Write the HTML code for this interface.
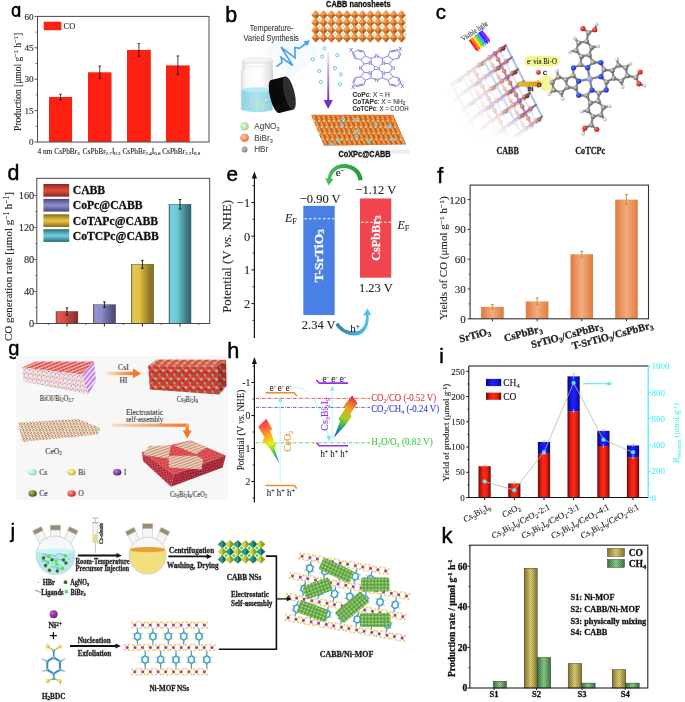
<!DOCTYPE html><html><head><meta charset="utf-8"><style>html,body{margin:0;padding:0;background:#fff;overflow:hidden}svg{display:block;filter:blur(0.35px)}</style></head><body><svg width="685" height="702" viewBox="0 0 685 702"><defs><linearGradient id="dh0" x1="0" y1="0" x2="1" y2="0"><stop offset="0" stop-color="#862820" stop-opacity="0.85"/><stop offset="0.08" stop-color="#dc4a3c" stop-opacity="0.9"/><stop offset="0.38" stop-color="#dc4a3c"/><stop offset="0.8" stop-color="#862820" stop-opacity="0.9"/><stop offset="1" stop-color="#862820"/></linearGradient><linearGradient id="dv0" x1="0" y1="0" x2="0" y2="1"><stop offset="0" stop-color="#862820"/><stop offset="0.45" stop-color="#dc4a3c"/><stop offset="0.55" stop-color="#dc4a3c"/><stop offset="1" stop-color="#862820"/></linearGradient><linearGradient id="dh1" x1="0" y1="0" x2="1" y2="0"><stop offset="0" stop-color="#46467a" stop-opacity="0.85"/><stop offset="0.08" stop-color="#8a8ac6" stop-opacity="0.9"/><stop offset="0.38" stop-color="#8a8ac6"/><stop offset="0.8" stop-color="#46467a" stop-opacity="0.9"/><stop offset="1" stop-color="#46467a"/></linearGradient><linearGradient id="dv1" x1="0" y1="0" x2="0" y2="1"><stop offset="0" stop-color="#46467a"/><stop offset="0.45" stop-color="#8a8ac6"/><stop offset="0.55" stop-color="#8a8ac6"/><stop offset="1" stop-color="#46467a"/></linearGradient><linearGradient id="dh2" x1="0" y1="0" x2="1" y2="0"><stop offset="0" stop-color="#8a6c16" stop-opacity="0.85"/><stop offset="0.08" stop-color="#e0c242" stop-opacity="0.9"/><stop offset="0.38" stop-color="#e0c242"/><stop offset="0.8" stop-color="#8a6c16" stop-opacity="0.9"/><stop offset="1" stop-color="#8a6c16"/></linearGradient><linearGradient id="dv2" x1="0" y1="0" x2="0" y2="1"><stop offset="0" stop-color="#8a6c16"/><stop offset="0.45" stop-color="#e0c242"/><stop offset="0.55" stop-color="#e0c242"/><stop offset="1" stop-color="#8a6c16"/></linearGradient><linearGradient id="dh3" x1="0" y1="0" x2="1" y2="0"><stop offset="0" stop-color="#2a6a78" stop-opacity="0.85"/><stop offset="0.08" stop-color="#6ccad6" stop-opacity="0.9"/><stop offset="0.38" stop-color="#6ccad6"/><stop offset="0.8" stop-color="#2a6a78" stop-opacity="0.9"/><stop offset="1" stop-color="#2a6a78"/></linearGradient><linearGradient id="dv3" x1="0" y1="0" x2="0" y2="1"><stop offset="0" stop-color="#2a6a78"/><stop offset="0.45" stop-color="#6ccad6"/><stop offset="0.55" stop-color="#6ccad6"/><stop offset="1" stop-color="#2a6a78"/></linearGradient><linearGradient id="garr" x1="1" y1="0" x2="0" y2="0"><stop offset="0" stop-color="#1f9a3a"/><stop offset="1" stop-color="#4cc060"/></linearGradient><linearGradient id="barr" x1="0" y1="0" x2="1" y2="0"><stop offset="0" stop-color="#2d7fb0"/><stop offset="1" stop-color="#55c8f0"/></linearGradient><linearGradient id="fbar" x1="0" y1="0" x2="1" y2="0"><stop offset="0" stop-color="#e07a3e"/><stop offset="0.5" stop-color="#f4ac80"/><stop offset="1" stop-color="#e07a3e"/></linearGradient><linearGradient id="ired" x1="0" y1="0" x2="1" y2="0"><stop offset="0" stop-color="#5a0a06"/><stop offset="0.25" stop-color="#e31a10"/><stop offset="0.5" stop-color="#fe2a18"/><stop offset="0.75" stop-color="#e31a10"/><stop offset="1" stop-color="#5a0a06"/></linearGradient><linearGradient id="iblu" x1="0" y1="0" x2="1" y2="0"><stop offset="0" stop-color="#07075a"/><stop offset="0.25" stop-color="#1414e6"/><stop offset="0.5" stop-color="#2020ff"/><stop offset="0.75" stop-color="#1414e6"/><stop offset="1" stop-color="#07075a"/></linearGradient><linearGradient id="iredv" x1="0" y1="0" x2="1" y2="0"><stop offset="0" stop-color="#4a0805"/><stop offset="0.3" stop-color="#f01c10"/><stop offset="0.7" stop-color="#f01c10"/><stop offset="1" stop-color="#4a0805"/></linearGradient><pattern id="hatch" width="2" height="2" patternUnits="userSpaceOnUse"><rect width="2" height="2" fill="none"/><rect width="1" height="1" fill="rgba(0,0,0,0.13)"/><rect x="1" y="1" width="1" height="1" fill="rgba(0,0,0,0.13)"/></pattern><linearGradient id="kgold" x1="0" y1="0" x2="1" y2="0"><stop offset="0" stop-color="#8c7a2c"/><stop offset="0.5" stop-color="#e2d275"/><stop offset="1" stop-color="#8c7a2c"/></linearGradient><linearGradient id="kgrn" x1="0" y1="0" x2="1" y2="0"><stop offset="0" stop-color="#3a7a40"/><stop offset="0.5" stop-color="#8ed08c"/><stop offset="1" stop-color="#3a7a40"/></linearGradient><linearGradient id="jarg" x1="0" y1="0" x2="1" y2="0"><stop offset="0" stop-color="#d8d8d8"/><stop offset="0.15" stop-color="#f8f8f8"/><stop offset="0.6" stop-color="#ffffff"/><stop offset="0.9" stop-color="#e4e4e4"/><stop offset="1" stop-color="#cfcfcf"/></linearGradient><linearGradient id="liqg" x1="0" y1="0" x2="1" y2="0"><stop offset="0" stop-color="#90d4e2"/><stop offset="0.5" stop-color="#a9e4ef"/><stop offset="1" stop-color="#8fd2e0"/></linearGradient><radialGradient id="lg_g" cx="0.4" cy="0.4" r="0.6"><stop offset="0" stop-color="#e9fbe0"/><stop offset="1" stop-color="#94d884"/></radialGradient><radialGradient id="lg_o" cx="0.4" cy="0.4" r="0.6"><stop offset="0" stop-color="#fbd0b0"/><stop offset="1" stop-color="#e47a36"/></radialGradient><radialGradient id="lg_k" cx="0.4" cy="0.4" r="0.6"><stop offset="0" stop-color="#c8c8c8"/><stop offset="1" stop-color="#7a7a7a"/></radialGradient><linearGradient id="parr" x1="0" y1="0" x2="0" y2="1"><stop offset="0" stop-color="#f2eefa"/><stop offset="0.5" stop-color="#b394dc"/><stop offset="1" stop-color="#6b2cb8"/></linearGradient><clipPath id="bclip"><polygon points="311,114.8 393,114.8 406,144.5 324,145.8"/></clipPath><radialGradient id="bC" cx="0.35" cy="0.35" r="0.7"><stop offset="0" stop-color="#dcdcdc"/><stop offset="1" stop-color="#555555"/></radialGradient><radialGradient id="bN" cx="0.35" cy="0.35" r="0.7"><stop offset="0" stop-color="#5a78ff"/><stop offset="1" stop-color="#0a24c0"/></radialGradient><radialGradient id="bH" cx="0.35" cy="0.35" r="0.7"><stop offset="0" stop-color="#ffffff"/><stop offset="1" stop-color="#a8a8a8"/></radialGradient><radialGradient id="bO" cx="0.35" cy="0.35" r="0.7"><stop offset="0" stop-color="#ff7a6a"/><stop offset="1" stop-color="#c00808"/></radialGradient><radialGradient id="bCo" cx="0.35" cy="0.35" r="0.7"><stop offset="0" stop-color="#c8d0ff"/><stop offset="1" stop-color="#6e7ed8"/></radialGradient><radialGradient id="bR" cx="0.35" cy="0.35" r="0.7"><stop offset="0" stop-color="#e0a0a0"/><stop offset="1" stop-color="#9a4a4a"/></radialGradient><radialGradient id="bRd" cx="0.35" cy="0.35" r="0.7"><stop offset="0" stop-color="#b06060"/><stop offset="1" stop-color="#5a2020"/></radialGradient><radialGradient id="bP" cx="0.35" cy="0.35" r="0.7"><stop offset="0" stop-color="#b080d8"/><stop offset="1" stop-color="#5a2a90"/></radialGradient><radialGradient id="bB" cx="0.35" cy="0.35" r="0.7"><stop offset="0" stop-color="#d8ecf8"/><stop offset="1" stop-color="#8cb8d8"/></radialGradient><linearGradient id="cfade" gradientUnits="userSpaceOnUse" x1="455" y1="112" x2="518" y2="82"><stop offset="0" stop-color="#fff" stop-opacity="1"/><stop offset="0.5" stop-color="#fff" stop-opacity="0.72"/><stop offset="1" stop-color="#fff" stop-opacity="0"/></linearGradient><linearGradient id="cfade2" gradientUnits="userSpaceOnUse" x1="0" y1="140" x2="0" y2="112"><stop offset="0" stop-color="#fff" stop-opacity="1"/><stop offset="1" stop-color="#fff" stop-opacity="0"/></linearGradient><clipPath id="cclip"><polygon points="505,38 553,118 525,145 455,145 440,80 480,42"/></clipPath><linearGradient id="yarr" x1="0" y1="0" x2="1" y2="0"><stop offset="0" stop-color="#d8c030"/><stop offset="1" stop-color="#e89418"/></linearGradient><linearGradient id="bolt1" gradientUnits="userSpaceOnUse" x1="262" y1="420" x2="278" y2="463"><stop offset="0" stop-color="#ff2a5a"/><stop offset="0.35" stop-color="#ffa020"/><stop offset="0.55" stop-color="#e8f020"/><stop offset="0.75" stop-color="#40d040"/><stop offset="1" stop-color="#3070e0"/></linearGradient><linearGradient id="bolt2" gradientUnits="userSpaceOnUse" x1="356" y1="397" x2="336" y2="436"><stop offset="0" stop-color="#e02040"/><stop offset="0.3" stop-color="#f0a020"/><stop offset="0.55" stop-color="#a0d020"/><stop offset="0.8" stop-color="#20a080"/><stop offset="1" stop-color="#2050c0"/></linearGradient><pattern id="pTopRed" width="3.4" height="3.0" patternUnits="userSpaceOnUse" patternTransform="rotate(-22)"><rect width="3.4" height="3.0" fill="#f2c4bc"/><rect width="3.4" height="1.6" fill="#e2544c"/><circle cx="1.7" cy="0.8" r="0.9" fill="#d84040"/></pattern><pattern id="pFront" width="4.4" height="4.6" patternUnits="userSpaceOnUse" patternTransform="rotate(8)"><rect width="4.4" height="4.6" fill="#f0eaf2"/><circle cx="1" cy="1" r="0.85" fill="#e4cc44"/><circle cx="3.2" cy="2.3" r="0.8" fill="#b860d8"/><circle cx="1.2" cy="3.7" r="0.7" fill="#e05858"/></pattern><pattern id="pSide" width="3.5" height="3.5" patternUnits="userSpaceOnUse" patternTransform="rotate(-50)"><rect width="3.5" height="3.5" fill="#e8dcf0"/><rect width="3.5" height="1.4" fill="#b868e0"/></pattern><pattern id="pCsBi" width="7.6" height="8.4" patternUnits="userSpaceOnUse" patternTransform="translate(148,366) skewY(0.5)"><rect width="7.6" height="8.4" fill="#c83a3e"/><polygon points="3.8,0.2 7.4,4.2 3.8,8.2 0.2,4.2" fill="#e03a3a"/><polygon points="3.8,0.2 7.4,4.2 3.8,4.2" fill="#f05a50"/><polygon points="3.8,4.2 7.4,4.2 3.8,8.2" fill="#b82424"/><circle cx="0" cy="4.2" r="1.5" fill="#9cd868"/><circle cx="7.6" cy="4.2" r="1.5" fill="#9cd868"/><circle cx="3.8" cy="0" r="1.1" fill="#88c858"/><circle cx="3.8" cy="8.4" r="1.1" fill="#88c858"/><circle cx="2" cy="2.2" r="0.5" fill="#8a40b0"/><circle cx="5.6" cy="6.2" r="0.5" fill="#8a40b0"/></pattern><pattern id="pCsBiTop" width="7.6" height="3.2" patternUnits="userSpaceOnUse" patternTransform="skewX(-50)"><rect width="7.6" height="3.2" fill="#e85858"/><circle cx="1.5" cy="1.6" r="1.3" fill="#a8dc78"/><circle cx="5.3" cy="1.6" r="1.0" fill="#d04040"/></pattern><pattern id="pCeO" width="3.3" height="3" patternUnits="userSpaceOnUse" patternTransform="skewX(-35)"><rect width="3.3" height="3" fill="#f4ecec"/><circle cx="0.9" cy="0.9" r="0.85" fill="#e04848"/><circle cx="2.5" cy="2.3" r="0.85" fill="#98c050"/></pattern><pattern id="pTan" width="2.6" height="2.6" patternUnits="userSpaceOnUse" patternTransform="rotate(-20)"><rect width="2.6" height="2.6" fill="#e8d8b8"/><rect width="2.6" height="1.0" fill="#d08080"/></pattern><pattern id="pBig" width="4" height="4" patternUnits="userSpaceOnUse" patternTransform="rotate(30)"><rect width="4" height="4" fill="#d83a4a"/><circle cx="1" cy="1" r="1.0" fill="#f06070"/><circle cx="3" cy="3" r="0.8" fill="#a8c060"/></pattern><linearGradient id="oarrH" x1="0" y1="0" x2="1" y2="0"><stop offset="0" stop-color="#fbe0c8"/><stop offset="1" stop-color="#f07820"/></linearGradient><linearGradient id="oarrV" x1="0" y1="0" x2="0" y2="1"><stop offset="0" stop-color="#f4b080"/><stop offset="1" stop-color="#f07820"/></linearGradient><pattern id="pBigSide" width="3.6" height="3.6" patternUnits="userSpaceOnUse" patternTransform="rotate(35)"><rect width="3.6" height="3.6" fill="#b81e3c"/><circle cx="1" cy="1" r="0.9" fill="#e8506a"/><circle cx="2.8" cy="2.8" r="0.7" fill="#98b058"/></pattern><radialGradient id="sCs" cx="0.35" cy="0.35" r="0.75"><stop offset="0" stop-color="#e8fff4"/><stop offset="1" stop-color="#70d8b0"/></radialGradient><radialGradient id="sBi" cx="0.35" cy="0.35" r="0.75"><stop offset="0" stop-color="#fffbb0"/><stop offset="1" stop-color="#c8b020"/></radialGradient><radialGradient id="sI" cx="0.35" cy="0.35" r="0.75"><stop offset="0" stop-color="#c080e0"/><stop offset="1" stop-color="#4a1070"/></radialGradient><radialGradient id="sCe" cx="0.35" cy="0.35" r="0.75"><stop offset="0" stop-color="#b8c070"/><stop offset="1" stop-color="#3a4010"/></radialGradient><radialGradient id="sO" cx="0.35" cy="0.35" r="0.75"><stop offset="0" stop-color="#ffa0a0"/><stop offset="1" stop-color="#c01818"/></radialGradient><clipPath id="fl55"><circle cx="55.4" cy="555.3" r="19.3"/></clipPath><clipPath id="fl147"><circle cx="147.6" cy="555.6" r="18.5"/></clipPath><radialGradient id="sNi" cx="0.35" cy="0.35" r="0.75"><stop offset="0" stop-color="#c060d0"/><stop offset="1" stop-color="#6a1078"/></radialGradient><radialGradient id="sBz" cx="0.35" cy="0.35" r="0.75"><stop offset="0" stop-color="#9ad8f0"/><stop offset="1" stop-color="#2a7aa8"/></radialGradient><radialGradient id="sOy" cx="0.35" cy="0.35" r="0.75"><stop offset="0" stop-color="#fff4a0"/><stop offset="1" stop-color="#c8a820"/></radialGradient><pattern id="pCabb" width="3.4" height="3.4" patternUnits="userSpaceOnUse"><rect width="3.4" height="3.4" fill="#28887a"/><polygon points="1.7,0 3.4,1.7 1.7,3.4 0,1.7" fill="#a6c23a"/><polygon points="1.7,0 3.4,1.7 1.7,1.7" fill="#d8e058"/><circle cx="0" cy="0" r="0.7" fill="#46c850"/><circle cx="3.4" cy="3.4" r="0.7" fill="#46c850"/><circle cx="3.4" cy="0" r="0.7" fill="#46c850"/><circle cx="0" cy="3.4" r="0.7" fill="#46c850"/></pattern></defs><ellipse cx="15.8" cy="11.4" rx="3.2" ry="4.6" fill="none" stroke="#000" stroke-width="2.0"/>
<rect x="18.3" y="5.8" width="1.95" height="11.2" fill="#000" />
<text x="225.3" y="21.5" font-family="Liberation Sans" font-size="21.4" font-weight="normal" fill="#000" text-anchor="start" stroke="#000" stroke-width="0.45">b</text>
<text x="435.8" y="18.9" font-family="Liberation Sans" font-size="20.4" font-weight="normal" fill="#000" text-anchor="start" stroke="#000" stroke-width="0.45">c</text>
<text x="7.6" y="180.4" font-family="Liberation Sans" font-size="21.4" font-weight="normal" fill="#000" text-anchor="start" stroke="#000" stroke-width="0.45">d</text>
<text x="226.4" y="180.6" font-family="Liberation Sans" font-size="20.7" font-weight="normal" fill="#000" text-anchor="start" stroke="#000" stroke-width="0.45">e</text>
<text x="437.3" y="183.1" font-family="Liberation Sans" font-size="21.5" font-weight="normal" fill="#000" text-anchor="start" stroke="#000" stroke-width="0.45">f</text>
<text x="8.2" y="354.7" font-family="Liberation Sans" font-size="20.1" font-weight="normal" fill="#000" text-anchor="start" stroke="#000" stroke-width="0.45">g</text>
<text x="227.3" y="358.2" font-family="Liberation Sans" font-size="21.7" font-weight="normal" fill="#000" text-anchor="start" stroke="#000" stroke-width="0.45">h</text>
<text x="439.3" y="362.6" font-family="Liberation Sans" font-size="20.4" font-weight="normal" fill="#000" text-anchor="start" stroke="#000" stroke-width="0.45">i</text>
<text x="10.5" y="538.4" font-family="Liberation Sans" font-size="21.0" font-weight="normal" fill="#000" text-anchor="start" stroke="#000" stroke-width="0.45">j</text>
<text x="441.4" y="543.0" font-family="Liberation Sans" font-size="21.9" font-weight="normal" fill="#000" text-anchor="start" stroke="#000" stroke-width="0.45">k</text>
<rect x="49" y="96.99333333333334" width="23.099999999999994" height="45.00666666666666" fill="#fd1f10" />
<line x1="60.55" y1="94.272" x2="60.55" y2="99.71466666666667" stroke="#111" stroke-width="0.8" />
<line x1="59.25" y1="94.272" x2="61.849999999999994" y2="94.272" stroke="#111" stroke-width="0.8" />
<line x1="59.25" y1="99.71466666666667" x2="61.849999999999994" y2="99.71466666666667" stroke="#111" stroke-width="0.8" />
<rect x="88" y="72.292" width="23.5" height="69.708" fill="#fd1f10" />
<line x1="99.75" y1="66.012" x2="99.75" y2="78.572" stroke="#111" stroke-width="0.8" />
<line x1="98.45" y1="66.012" x2="101.05" y2="66.012" stroke="#111" stroke-width="0.8" />
<line x1="98.45" y1="78.572" x2="101.05" y2="78.572" stroke="#111" stroke-width="0.8" />
<rect x="127" y="49.89333333333333" width="23.80000000000001" height="92.10666666666667" fill="#fd1f10" />
<line x1="138.9" y1="43.61333333333333" x2="138.9" y2="56.17333333333333" stroke="#111" stroke-width="0.8" />
<line x1="137.6" y1="43.61333333333333" x2="140.20000000000002" y2="43.61333333333333" stroke="#111" stroke-width="0.8" />
<line x1="137.6" y1="56.17333333333333" x2="140.20000000000002" y2="56.17333333333333" stroke="#111" stroke-width="0.8" />
<rect x="166" y="65.384" width="23.69999999999999" height="76.616" fill="#fd1f10" />
<line x1="177.85" y1="55.964" x2="177.85" y2="74.804" stroke="#111" stroke-width="0.8" />
<line x1="176.54999999999998" y1="55.964" x2="179.15" y2="55.964" stroke="#111" stroke-width="0.8" />
<line x1="176.54999999999998" y1="74.804" x2="179.15" y2="74.804" stroke="#111" stroke-width="0.8" />
<rect x="43.7" y="21.7" width="17.7" height="8.5" fill="#fd1f10" />
<text x="63.6" y="29.2" font-family="Liberation Serif" font-size="8.4" font-weight="normal" fill="#222" text-anchor="start" stroke="#222" stroke-width="0.1" >CO</text>
<rect x="37.5" y="16.4" width="171.5" height="125.6" fill="none" stroke="#4a4a4a" stroke-width="1"/>
<line x1="34.5" y1="142.0" x2="37.5" y2="142.0" stroke="#4a4a4a" stroke-width="0.9" />
<text x="33.6" y="145.1" font-family="Liberation Serif" font-size="9.2" font-weight="normal" fill="#222" text-anchor="end" stroke="#222" stroke-width="0.1" >0</text>
<line x1="34.5" y1="110.6" x2="37.5" y2="110.6" stroke="#4a4a4a" stroke-width="0.9" />
<text x="33.6" y="113.69999999999999" font-family="Liberation Serif" font-size="9.2" font-weight="normal" fill="#222" text-anchor="end" stroke="#222" stroke-width="0.1" >15</text>
<line x1="34.5" y1="79.2" x2="37.5" y2="79.2" stroke="#4a4a4a" stroke-width="0.9" />
<text x="33.6" y="82.3" font-family="Liberation Serif" font-size="9.2" font-weight="normal" fill="#222" text-anchor="end" stroke="#222" stroke-width="0.1" >30</text>
<line x1="34.5" y1="47.8" x2="37.5" y2="47.8" stroke="#4a4a4a" stroke-width="0.9" />
<text x="33.6" y="50.9" font-family="Liberation Serif" font-size="9.2" font-weight="normal" fill="#222" text-anchor="end" stroke="#222" stroke-width="0.1" >45</text>
<line x1="34.5" y1="16.400000000000006" x2="37.5" y2="16.400000000000006" stroke="#4a4a4a" stroke-width="0.9" />
<text x="33.6" y="19.500000000000007" font-family="Liberation Serif" font-size="9.2" font-weight="normal" fill="#222" text-anchor="end" stroke="#222" stroke-width="0.1" >60</text>
<line x1="35.7" y1="126.3" x2="37.5" y2="126.3" stroke="#4a4a4a" stroke-width="0.8" />
<line x1="35.7" y1="94.9" x2="37.5" y2="94.9" stroke="#4a4a4a" stroke-width="0.8" />
<line x1="35.7" y1="63.5" x2="37.5" y2="63.5" stroke="#4a4a4a" stroke-width="0.8" />
<line x1="35.7" y1="32.10000000000001" x2="37.5" y2="32.10000000000001" stroke="#4a4a4a" stroke-width="0.8" />
<text x="37.4" y="153.8" font-family="Liberation Serif" font-size="7.4" font-weight="normal" fill="#222" text-anchor="start" stroke="#222" stroke-width="0.1" >4 nm CsPbBr<tspan baseline-shift="-28%" font-size="68%">3</tspan></text>
<text x="82.6" y="153.8" font-family="Liberation Serif" font-size="7.4" font-weight="normal" fill="#222" text-anchor="start" stroke="#222" stroke-width="0.1" >CsPbBr<tspan baseline-shift="-28%" font-size="68%">2.7</tspan>I<tspan baseline-shift="-28%" font-size="68%">0.3</tspan></text>
<text x="122.4" y="153.8" font-family="Liberation Serif" font-size="7.4" font-weight="normal" fill="#222" text-anchor="start" stroke="#222" stroke-width="0.1" >CsPbBr<tspan baseline-shift="-28%" font-size="68%">2.4</tspan>I<tspan baseline-shift="-28%" font-size="68%">0.6</tspan></text>
<text x="162.2" y="153.8" font-family="Liberation Serif" font-size="7.4" font-weight="normal" fill="#222" text-anchor="start" stroke="#222" stroke-width="0.1" >CsPbBr<tspan baseline-shift="-28%" font-size="68%">2.2</tspan>I<tspan baseline-shift="-28%" font-size="68%">0.8</tspan></text>
<text x="21.4" y="81.9" font-family="Liberation Serif" font-size="9.8" font-weight="normal" fill="#222" text-anchor="middle" transform="rotate(-90 21.4 81.9)" textLength="98.2" lengthAdjust="spacingAndGlyphs" stroke="#222" stroke-width="0.1" >Production [μmol g<tspan baseline-shift="38%" font-size="68%">−1</tspan> h<tspan baseline-shift="38%" font-size="68%">−1</tspan>]</text>
<rect x="56" y="311.5" width="21.900000000000006" height="12.0" fill="url(#dh0)" stroke="#333" stroke-width="0.4"/>
<line x1="66.95" y1="307.9" x2="66.95" y2="315.1" stroke="#111" stroke-width="0.9" />
<line x1="65.65" y1="307.9" x2="68.25" y2="307.9" stroke="#111" stroke-width="0.9" />
<line x1="65.65" y1="315.1" x2="68.25" y2="315.1" stroke="#111" stroke-width="0.9" />
<rect x="93.2" y="304.7" width="22.39999999999999" height="18.80000000000001" fill="url(#dh1)" stroke="#333" stroke-width="0.4"/>
<line x1="104.4" y1="301.9" x2="104.4" y2="307.5" stroke="#111" stroke-width="0.9" />
<line x1="103.10000000000001" y1="301.9" x2="105.7" y2="301.9" stroke="#111" stroke-width="0.9" />
<line x1="103.10000000000001" y1="307.5" x2="105.7" y2="307.5" stroke="#111" stroke-width="0.9" />
<rect x="131.2" y="264.3" width="22.400000000000006" height="59.19999999999999" fill="url(#dh2)" stroke="#333" stroke-width="0.4"/>
<line x1="142.39999999999998" y1="260.3" x2="142.39999999999998" y2="268.3" stroke="#111" stroke-width="0.9" />
<line x1="141.09999999999997" y1="260.3" x2="143.7" y2="260.3" stroke="#111" stroke-width="0.9" />
<line x1="141.09999999999997" y1="268.3" x2="143.7" y2="268.3" stroke="#111" stroke-width="0.9" />
<rect x="169" y="204.3" width="22" height="119.19999999999999" fill="url(#dh3)" stroke="#333" stroke-width="0.4"/>
<line x1="180.0" y1="199.5" x2="180.0" y2="209.10000000000002" stroke="#111" stroke-width="0.9" />
<line x1="178.7" y1="199.5" x2="181.3" y2="199.5" stroke="#111" stroke-width="0.9" />
<line x1="178.7" y1="209.10000000000002" x2="181.3" y2="209.10000000000002" stroke="#111" stroke-width="0.9" />
<rect x="43.4" y="184" width="25.8" height="12.7" fill="url(#dv0)" />
<text x="72.7" y="194.4" font-family="Liberation Serif" font-size="11.7" font-weight="bold" fill="#111" text-anchor="start" stroke="#111" stroke-width="0.28" >CABB</text>
<rect x="43.4" y="198.9" width="25.8" height="12.7" fill="url(#dv1)" />
<text x="72.7" y="209.3" font-family="Liberation Serif" font-size="11.7" font-weight="bold" fill="#111" text-anchor="start" stroke="#111" stroke-width="0.28" >CoPc@CABB</text>
<rect x="43.4" y="214.3" width="25.8" height="12.7" fill="url(#dv2)" />
<text x="72.7" y="224.70000000000002" font-family="Liberation Serif" font-size="11.7" font-weight="bold" fill="#111" text-anchor="start" stroke="#111" stroke-width="0.28" >CoTAPc@CABB</text>
<rect x="43.4" y="229.2" width="25.8" height="12.7" fill="url(#dv3)" />
<text x="72.7" y="239.6" font-family="Liberation Serif" font-size="11.7" font-weight="bold" fill="#111" text-anchor="start" stroke="#111" stroke-width="0.28" >CoTCPc@CABB</text>
<rect x="36.8" y="178.3" width="172.89999999999998" height="145.2" fill="none" stroke="#4a4a4a" stroke-width="1"/>
<line x1="34.3" y1="323.5" x2="36.8" y2="323.5" stroke="#4a4a4a" stroke-width="0.9" />
<text x="34.2" y="327.1" font-family="Liberation Serif" font-size="10.3" font-weight="normal" fill="#222" text-anchor="end" stroke="#222" stroke-width="0.1" >0</text>
<line x1="34.3" y1="291.5" x2="36.8" y2="291.5" stroke="#4a4a4a" stroke-width="0.9" />
<text x="34.2" y="295.1" font-family="Liberation Serif" font-size="10.3" font-weight="normal" fill="#222" text-anchor="end" stroke="#222" stroke-width="0.1" >40</text>
<line x1="34.3" y1="259.5" x2="36.8" y2="259.5" stroke="#4a4a4a" stroke-width="0.9" />
<text x="34.2" y="263.1" font-family="Liberation Serif" font-size="10.3" font-weight="normal" fill="#222" text-anchor="end" stroke="#222" stroke-width="0.1" >80</text>
<line x1="34.3" y1="227.5" x2="36.8" y2="227.5" stroke="#4a4a4a" stroke-width="0.9" />
<text x="34.2" y="231.1" font-family="Liberation Serif" font-size="10.3" font-weight="normal" fill="#222" text-anchor="end" stroke="#222" stroke-width="0.1" >120</text>
<line x1="34.3" y1="195.5" x2="36.8" y2="195.5" stroke="#4a4a4a" stroke-width="0.9" />
<text x="34.2" y="199.1" font-family="Liberation Serif" font-size="10.3" font-weight="normal" fill="#222" text-anchor="end" stroke="#222" stroke-width="0.1" >160</text>
<line x1="35.3" y1="307.5" x2="36.8" y2="307.5" stroke="#4a4a4a" stroke-width="0.8" />
<line x1="35.3" y1="275.5" x2="36.8" y2="275.5" stroke="#4a4a4a" stroke-width="0.8" />
<line x1="35.3" y1="243.5" x2="36.8" y2="243.5" stroke="#4a4a4a" stroke-width="0.8" />
<line x1="35.3" y1="211.5" x2="36.8" y2="211.5" stroke="#4a4a4a" stroke-width="0.8" />
<line x1="67" y1="323.5" x2="67" y2="326.5" stroke="#333" stroke-width="1.1" />
<line x1="104.4" y1="323.5" x2="104.4" y2="326.5" stroke="#333" stroke-width="1.1" />
<line x1="142.4" y1="323.5" x2="142.4" y2="326.5" stroke="#333" stroke-width="1.1" />
<line x1="180" y1="323.5" x2="180" y2="326.5" stroke="#333" stroke-width="1.1" />
<line x1="48.3" y1="323.5" x2="48.3" y2="325.0" stroke="#4a4a4a" stroke-width="0.8" />
<line x1="85.7" y1="323.5" x2="85.7" y2="325.0" stroke="#4a4a4a" stroke-width="0.8" />
<line x1="123.4" y1="323.5" x2="123.4" y2="325.0" stroke="#4a4a4a" stroke-width="0.8" />
<line x1="161.2" y1="323.5" x2="161.2" y2="325.0" stroke="#4a4a4a" stroke-width="0.8" />
<line x1="198.8" y1="323.5" x2="198.8" y2="325.0" stroke="#4a4a4a" stroke-width="0.8" />
<text x="12.2" y="266.5" font-family="Liberation Serif" font-size="11.2" font-weight="normal" fill="#222" text-anchor="middle" transform="rotate(-90 12.2 266.5)" textLength="149" lengthAdjust="spacingAndGlyphs" stroke="#222" stroke-width="0.1" >CO generation rate [μmol g<tspan baseline-shift="38%" font-size="68%">−1</tspan> h<tspan baseline-shift="38%" font-size="68%">−1</tspan>]</text>
<line x1="254.4" y1="175" x2="254.4" y2="338" stroke="#111" stroke-width="1.2" />
<polygon points="254.40,171.40 251.80,178.50 257.00,178.50" fill="#111" stroke="none" stroke-width="1" />
<line x1="251.4" y1="202.5" x2="254.4" y2="202.5" stroke="#111" stroke-width="1" />
<line x1="251.4" y1="236.2" x2="254.4" y2="236.2" stroke="#111" stroke-width="1" />
<line x1="251.4" y1="269.9" x2="254.4" y2="269.9" stroke="#111" stroke-width="1" />
<line x1="251.4" y1="303.6" x2="254.4" y2="303.6" stroke="#111" stroke-width="1" />
<line x1="252.6" y1="185.64999999999998" x2="254.4" y2="185.64999999999998" stroke="#111" stroke-width="0.9" />
<line x1="252.6" y1="219.35" x2="254.4" y2="219.35" stroke="#111" stroke-width="0.9" />
<line x1="252.6" y1="253.04999999999998" x2="254.4" y2="253.04999999999998" stroke="#111" stroke-width="0.9" />
<line x1="252.6" y1="286.75" x2="254.4" y2="286.75" stroke="#111" stroke-width="0.9" />
<line x1="252.6" y1="320.45" x2="254.4" y2="320.45" stroke="#111" stroke-width="0.9" />
<text x="250.2" y="206.8" font-family="Liberation Serif" font-size="12.3" font-weight="normal" fill="#222" text-anchor="end" stroke="#222" stroke-width="0.1" >−1</text>
<text x="250.2" y="240.5" font-family="Liberation Serif" font-size="12.3" font-weight="normal" fill="#222" text-anchor="end" stroke="#222" stroke-width="0.1" >0</text>
<text x="250.2" y="274.2" font-family="Liberation Serif" font-size="12.3" font-weight="normal" fill="#222" text-anchor="end" stroke="#222" stroke-width="0.1" >1</text>
<text x="250.2" y="307.90000000000003" font-family="Liberation Serif" font-size="12.3" font-weight="normal" fill="#222" text-anchor="end" stroke="#222" stroke-width="0.1" >2</text>
<text x="231.0" y="256.4" font-family="Liberation Serif" font-size="12.0" font-weight="normal" fill="#222" text-anchor="middle" transform="rotate(-90 231.0 256.4)" textLength="112.8" lengthAdjust="spacingAndGlyphs" stroke="#222" stroke-width="0.1" >Potential (V <tspan font-style='italic'>vs.</tspan> NHE)</text>
<rect x="303.3" y="205.86999999999998" width="31.4" height="109.18800000000002" fill="#4a7fe6" />
<rect x="360" y="198.456" width="31.2" height="79.19500000000002" fill="#f0444e" />
<line x1="304.5" y1="218.7" x2="334" y2="218.7" stroke="#fff" stroke-width="1.1" stroke-dasharray="2.6,2"/>
<line x1="361" y1="222.2" x2="391" y2="222.2" stroke="#fff" stroke-width="1.1" stroke-dasharray="2.6,2"/>
<text x="319.5" y="255.7" font-family="Liberation Serif" font-size="12.4" font-weight="bold" fill="#fff" text-anchor="middle" transform="rotate(-90 319.5 255.7)" textLength="53" lengthAdjust="spacingAndGlyphs" stroke="#fff" stroke-width="0.28" dominant-baseline="central">T-SrTiO<tspan baseline-shift="-28%" font-size="68%">3</tspan></text>
<text x="376.2" y="238" font-family="Liberation Serif" font-size="12.2" font-weight="bold" fill="#fff" text-anchor="middle" transform="rotate(-90 376.2 238)" stroke="#fff" stroke-width="0.28" dominant-baseline="central">CsPbBr<tspan baseline-shift="-28%" font-size="68%">3</tspan></text>
<text x="320.2" y="202.6" font-family="Liberation Serif" font-size="12.5" font-weight="normal" fill="#222" text-anchor="middle" stroke="#222" stroke-width="0.1" >−0.90 V</text>
<text x="375.8" y="194.2" font-family="Liberation Serif" font-size="12.5" font-weight="normal" fill="#222" text-anchor="middle" stroke="#222" stroke-width="0.1" >−1.12 V</text>
<text x="375.8" y="291.6" font-family="Liberation Serif" font-size="12.5" font-weight="normal" fill="#222" text-anchor="middle" stroke="#222" stroke-width="0.1" >1.23 V</text>
<text x="318.7" y="329.0" font-family="Liberation Serif" font-size="12.5" font-weight="normal" fill="#222" text-anchor="middle" stroke="#222" stroke-width="0.1" >2.34 V</text>
<text x="285.0" y="222.0" font-family="Liberation Serif" font-size="12.0" font-weight="normal" fill="#222" text-anchor="start" stroke="#222" stroke-width="0.1" ><tspan font-style='italic'>E</tspan><tspan baseline-shift="-28%" font-size="68%">F</tspan></text>
<text x="397.5" y="228.5" font-family="Liberation Serif" font-size="12.0" font-weight="normal" fill="#222" text-anchor="start" stroke="#222" stroke-width="0.1" ><tspan font-style='italic'>E</tspan><tspan baseline-shift="-28%" font-size="68%">F</tspan></text>
<path d="M362.6,180 C362,168 350,163.5 343,164 C335,164.5 328.5,170 327.8,178.5 L325.2,178.3 L328.6,185.6 L333.6,179 L331.2,179 C332,172.5 337,168.2 343,168 C350,167.8 357.5,172 358.4,180.4 Z" fill="url(#garr)" stroke="none" stroke-width="1" />
<text x="340.2" y="176.0" font-family="Liberation Serif" font-size="11" font-weight="normal" fill="#222" text-anchor="middle" stroke="#222" stroke-width="0.1" >e<tspan baseline-shift="38%" font-size="68%">−</tspan></text>
<path d="M335.5,324.5 C340,333 352,337.5 360,334.5 C366,332 369.5,324 368.6,315 L371.4,315 L367.6,308.5 L363.2,315.2 L366,315.2 C366.3,322.5 363.5,328.5 359,330.4 C352,333 342.5,330 338.2,322.4 Z" fill="url(#barr)" stroke="none" stroke-width="1" />
<text x="355.2" y="332.2" font-family="Liberation Serif" font-size="11" font-weight="normal" fill="#222" text-anchor="middle" stroke="#222" stroke-width="0.1" >h<tspan baseline-shift="38%" font-size="68%">+</tspan></text>
<rect x="481.1" y="306.88" width="22.599999999999966" height="11.920000000000016" fill="url(#fbar)" />
<line x1="492.4" y1="304.69466666666665" x2="492.4" y2="309.06533333333334" stroke="#c8901a" stroke-width="0.9" />
<line x1="490.79999999999995" y1="304.69466666666665" x2="494.0" y2="304.69466666666665" stroke="#c8901a" stroke-width="0.9" />
<line x1="490.79999999999995" y1="309.06533333333334" x2="494.0" y2="309.06533333333334" stroke="#c8901a" stroke-width="0.9" />
<rect x="525.8" y="301.4166666666667" width="22.600000000000023" height="17.383333333333326" fill="url(#fbar)" />
<line x1="537.0999999999999" y1="297.94" x2="537.0999999999999" y2="304.8933333333334" stroke="#c8901a" stroke-width="0.9" />
<line x1="535.4999999999999" y1="297.94" x2="538.6999999999999" y2="297.94" stroke="#c8901a" stroke-width="0.9" />
<line x1="535.4999999999999" y1="304.8933333333334" x2="538.6999999999999" y2="304.8933333333334" stroke="#c8901a" stroke-width="0.9" />
<rect x="570.5" y="254.23333333333335" width="22.5" height="64.56666666666666" fill="url(#fbar)" />
<line x1="581.75" y1="251.25333333333336" x2="581.75" y2="257.21333333333337" stroke="#c8901a" stroke-width="0.9" />
<line x1="580.15" y1="251.25333333333336" x2="583.35" y2="251.25333333333336" stroke="#c8901a" stroke-width="0.9" />
<line x1="580.15" y1="257.21333333333337" x2="583.35" y2="257.21333333333337" stroke="#c8901a" stroke-width="0.9" />
<rect x="615.2" y="199.60000000000002" width="22.59999999999991" height="119.19999999999999" fill="url(#fbar)" />
<line x1="626.5" y1="194.63333333333335" x2="626.5" y2="204.5666666666667" stroke="#c8901a" stroke-width="0.9" />
<line x1="624.9" y1="194.63333333333335" x2="628.1" y2="194.63333333333335" stroke="#c8901a" stroke-width="0.9" />
<line x1="624.9" y1="204.5666666666667" x2="628.1" y2="204.5666666666667" stroke="#c8901a" stroke-width="0.9" />
<rect x="470.1" y="185.1" width="178.39999999999998" height="133.70000000000002" fill="none" stroke="#333" stroke-width="1.1"/>
<line x1="467.6" y1="318.8" x2="470.1" y2="318.8" stroke="#333" stroke-width="1" />
<text x="465.8" y="322.7" font-family="Liberation Serif" font-size="11.0" font-weight="normal" fill="#222" text-anchor="end" stroke="#222" stroke-width="0.1" >0</text>
<line x1="467.6" y1="289.0" x2="470.1" y2="289.0" stroke="#333" stroke-width="1" />
<text x="465.8" y="292.9" font-family="Liberation Serif" font-size="11.0" font-weight="normal" fill="#222" text-anchor="end" stroke="#222" stroke-width="0.1" >30</text>
<line x1="467.6" y1="259.2" x2="470.1" y2="259.2" stroke="#333" stroke-width="1" />
<text x="465.8" y="263.09999999999997" font-family="Liberation Serif" font-size="11.0" font-weight="normal" fill="#222" text-anchor="end" stroke="#222" stroke-width="0.1" >60</text>
<line x1="467.6" y1="229.4" x2="470.1" y2="229.4" stroke="#333" stroke-width="1" />
<text x="465.8" y="233.3" font-family="Liberation Serif" font-size="11.0" font-weight="normal" fill="#222" text-anchor="end" stroke="#222" stroke-width="0.1" >90</text>
<line x1="467.6" y1="199.60000000000002" x2="470.1" y2="199.60000000000002" stroke="#333" stroke-width="1" />
<text x="465.8" y="203.50000000000003" font-family="Liberation Serif" font-size="11.0" font-weight="normal" fill="#222" text-anchor="end" stroke="#222" stroke-width="0.1" >120</text>
<line x1="468.6" y1="303.90000000000003" x2="470.1" y2="303.90000000000003" stroke="#333" stroke-width="0.8" />
<line x1="468.6" y1="274.1" x2="470.1" y2="274.1" stroke="#333" stroke-width="0.8" />
<line x1="468.6" y1="244.3" x2="470.1" y2="244.3" stroke="#333" stroke-width="0.8" />
<line x1="468.6" y1="214.5" x2="470.1" y2="214.5" stroke="#333" stroke-width="0.8" />
<line x1="492.4" y1="318.8" x2="492.4" y2="321.3" stroke="#333" stroke-width="1" />
<line x1="537.1" y1="318.8" x2="537.1" y2="321.3" stroke="#333" stroke-width="1" />
<line x1="581.8" y1="318.8" x2="581.8" y2="321.3" stroke="#333" stroke-width="1" />
<line x1="626.5" y1="318.8" x2="626.5" y2="321.3" stroke="#333" stroke-width="1" />
<text x="447.5" y="258.2" font-family="Liberation Serif" font-size="10.4" font-weight="normal" fill="#222" text-anchor="middle" transform="rotate(-90 447.5 258.2)" textLength="123.5" lengthAdjust="spacingAndGlyphs" stroke="#222" stroke-width="0.1" >Yields of CO (μmol g<tspan baseline-shift="38%" font-size="68%">−1</tspan> h<tspan baseline-shift="38%" font-size="68%">−1</tspan>)</text>
<text x="460.3" y="342.5" font-family="Liberation Serif" font-size="10.5" font-weight="bold" fill="#222" text-anchor="start" transform="rotate(-15 460.3 342.5)" stroke="#222" stroke-width="0.28" >SrTiO<tspan baseline-shift="-28%" font-size="68%">3</tspan></text>
<text x="505.0" y="341.8" font-family="Liberation Serif" font-size="10.5" font-weight="bold" fill="#222" text-anchor="start" transform="rotate(-15 505.0 341.8)" stroke="#222" stroke-width="0.28" >CsPbBr<tspan baseline-shift="-28%" font-size="68%">3</tspan></text>
<text x="532.0" y="348.2" font-family="Liberation Serif" font-size="10.5" font-weight="bold" fill="#222" text-anchor="start" transform="rotate(-15 532.0 348.2)" stroke="#222" stroke-width="0.28" >SrTiO<tspan baseline-shift="-28%" font-size="68%">3</tspan>/CsPbBr<tspan baseline-shift="-28%" font-size="68%">3</tspan></text>
<text x="573.0" y="349.6" font-family="Liberation Serif" font-size="10.5" font-weight="bold" fill="#222" text-anchor="start" transform="rotate(-15 573.0 349.6)" stroke="#222" stroke-width="0.28" >T-SrTiO<tspan baseline-shift="-28%" font-size="68%">3</tspan>/CsPbBr<tspan baseline-shift="-28%" font-size="68%">3</tspan></text>
<rect x="478.5" y="466.2024" width="12.2" height="31.29759999999999" fill="url(#ired)" />
<line x1="484.6" y1="465.4452" x2="484.6" y2="466.9596" stroke="#bbb" stroke-width="0.7" />
<line x1="483.20000000000005" y1="465.4452" x2="486.0" y2="465.4452" stroke="#bbb" stroke-width="0.7" />
<rect x="508.19999999999993" y="483.36560000000003" width="12.2" height="14.134399999999971" fill="url(#ired)" />
<line x1="514.3" y1="481.3464" x2="514.3" y2="485.38480000000004" stroke="#bbb" stroke-width="0.7" />
<line x1="512.9" y1="481.3464" x2="515.6999999999999" y2="481.3464" stroke="#bbb" stroke-width="0.7" />
<rect x="537.9" y="453.0776" width="12.2" height="44.42239999999998" fill="url(#ired)" />
<rect x="537.9" y="441.972" width="12.2" height="11.105600000000038" fill="url(#iblu)" />
<line x1="544.0" y1="451.0776" x2="544.0" y2="455.0776" stroke="#ddd" stroke-width="0.7" />
<line x1="544.0" y1="440.9624" x2="544.0" y2="442.98159999999996" stroke="#bbb" stroke-width="0.7" />
<line x1="542.6" y1="440.9624" x2="545.4" y2="440.9624" stroke="#bbb" stroke-width="0.7" />
<rect x="567.5" y="411.17920000000004" width="12.2" height="86.32079999999996" fill="url(#ired)" />
<rect x="567.5" y="376.348" width="12.2" height="34.831200000000024" fill="url(#iblu)" />
<line x1="573.6" y1="409.17920000000004" x2="573.6" y2="413.17920000000004" stroke="#ddd" stroke-width="0.7" />
<line x1="573.6" y1="373.824" x2="573.6" y2="378.872" stroke="#bbb" stroke-width="0.7" />
<line x1="572.2" y1="373.824" x2="575.0" y2="373.824" stroke="#bbb" stroke-width="0.7" />
<rect x="597.3" y="446.0104" width="12.2" height="51.489599999999996" fill="url(#ired)" />
<rect x="597.3" y="430.8664" width="12.2" height="15.144000000000005" fill="url(#iblu)" />
<line x1="603.4" y1="444.0104" x2="603.4" y2="448.0104" stroke="#ddd" stroke-width="0.7" />
<line x1="603.4" y1="429.8568" x2="603.4" y2="431.876" stroke="#bbb" stroke-width="0.7" />
<line x1="602.0" y1="429.8568" x2="604.8" y2="429.8568" stroke="#bbb" stroke-width="0.7" />
<rect x="626.9" y="457.116" width="12.2" height="40.384000000000015" fill="url(#ired)" />
<rect x="626.9" y="445.5056" width="12.2" height="11.61039999999997" fill="url(#iblu)" />
<line x1="633.0" y1="455.116" x2="633.0" y2="459.116" stroke="#ddd" stroke-width="0.7" />
<line x1="633.0" y1="443.9912" x2="633.0" y2="447.02000000000004" stroke="#bbb" stroke-width="0.7" />
<line x1="631.6" y1="443.9912" x2="634.4" y2="443.9912" stroke="#bbb" stroke-width="0.7" />
<polyline points="484.6,481.5 514.3,490.1 544.0,452.1 573.6,382.8 603.4,439.6 633.0,452.3" fill="none" stroke="#b8b8b8" stroke-width="0.8"/>
<circle cx="484.60" cy="481.46" r="1.9" fill="#50ecf2" stroke="#8ee" stroke-width="0.3"/>
<circle cx="514.30" cy="490.14" r="1.9" fill="#50ecf2" stroke="#8ee" stroke-width="0.3"/>
<circle cx="544.00" cy="452.13" r="1.9" fill="#50ecf2" stroke="#8ee" stroke-width="0.3"/>
<circle cx="573.60" cy="382.83" r="1.9" fill="#50ecf2" stroke="#8ee" stroke-width="0.3"/>
<circle cx="603.40" cy="439.64" r="1.9" fill="#50ecf2" stroke="#8ee" stroke-width="0.3"/>
<circle cx="633.00" cy="452.26" r="1.9" fill="#50ecf2" stroke="#8ee" stroke-width="0.3"/>
<line x1="583.2" y1="383.7" x2="609" y2="383.7" stroke="#50ecf2" stroke-width="1.1" />
<polygon points="613.00,383.70 607.50,381.60 607.50,385.80" fill="#50ecf2" stroke="none" stroke-width="1" />
<rect x="486" y="378.9" width="15.2" height="7.2" fill="url(#iblu)" />
<rect x="486" y="392.6" width="15.2" height="7.2" fill="url(#ired)" />
<text x="503.2" y="385.9" font-family="Liberation Serif" font-size="9.5" font-weight="normal" fill="#111" text-anchor="start" stroke="#111" stroke-width="0.1" >CH<tspan baseline-shift="-28%" font-size="68%">4</tspan></text>
<text x="503.2" y="399.7" font-family="Liberation Serif" font-size="9.5" font-weight="normal" fill="#111" text-anchor="start" stroke="#111" stroke-width="0.1" >CO</text>
<line x1="468.8" y1="366.0" x2="648.2" y2="366.0" stroke="#111" stroke-width="1.1" />
<line x1="468.8" y1="366.0" x2="468.8" y2="497.5" stroke="#111" stroke-width="1.1" />
<line x1="468.8" y1="497.5" x2="648.2" y2="497.5" stroke="#111" stroke-width="1.1" />
<line x1="648.2" y1="366.0" x2="648.2" y2="497.5" stroke="#50f0f0" stroke-width="1.3" />
<line x1="466.3" y1="497.5" x2="468.8" y2="497.5" stroke="#111" stroke-width="1" />
<text x="464.8" y="500.7" font-family="Liberation Serif" font-size="9.0" font-weight="normal" fill="#222" text-anchor="end" stroke="#222" stroke-width="0.1" >0</text>
<line x1="466.3" y1="472.26" x2="468.8" y2="472.26" stroke="#111" stroke-width="1" />
<text x="464.8" y="475.46" font-family="Liberation Serif" font-size="9.0" font-weight="normal" fill="#222" text-anchor="end" stroke="#222" stroke-width="0.1" >50</text>
<line x1="466.3" y1="447.02" x2="468.8" y2="447.02" stroke="#111" stroke-width="1" />
<text x="464.8" y="450.21999999999997" font-family="Liberation Serif" font-size="9.0" font-weight="normal" fill="#222" text-anchor="end" stroke="#222" stroke-width="0.1" >100</text>
<line x1="466.3" y1="421.78000000000003" x2="468.8" y2="421.78000000000003" stroke="#111" stroke-width="1" />
<text x="464.8" y="424.98" font-family="Liberation Serif" font-size="9.0" font-weight="normal" fill="#222" text-anchor="end" stroke="#222" stroke-width="0.1" >150</text>
<line x1="466.3" y1="396.54" x2="468.8" y2="396.54" stroke="#111" stroke-width="1" />
<text x="464.8" y="399.74" font-family="Liberation Serif" font-size="9.0" font-weight="normal" fill="#222" text-anchor="end" stroke="#222" stroke-width="0.1" >200</text>
<line x1="466.3" y1="371.3" x2="468.8" y2="371.3" stroke="#111" stroke-width="1" />
<text x="464.8" y="374.5" font-family="Liberation Serif" font-size="9.0" font-weight="normal" fill="#222" text-anchor="end" stroke="#222" stroke-width="0.1" >250</text>
<line x1="467.3" y1="484.88" x2="468.8" y2="484.88" stroke="#111" stroke-width="0.8" />
<line x1="467.3" y1="459.64" x2="468.8" y2="459.64" stroke="#111" stroke-width="0.8" />
<line x1="467.3" y1="434.40000000000003" x2="468.8" y2="434.40000000000003" stroke="#111" stroke-width="0.8" />
<line x1="467.3" y1="409.16" x2="468.8" y2="409.16" stroke="#111" stroke-width="0.8" />
<line x1="467.3" y1="383.92" x2="468.8" y2="383.92" stroke="#111" stroke-width="0.8" />
<line x1="648.2" y1="497.5" x2="650.7" y2="497.5" stroke="#50f0f0" stroke-width="1" />
<text x="651.5" y="500.7" font-family="Liberation Serif" font-size="9.0" font-weight="normal" fill="#50f0f0" text-anchor="start" stroke="#50f0f0" stroke-width="0.1" >0</text>
<line x1="648.2" y1="471.2" x2="650.7" y2="471.2" stroke="#50f0f0" stroke-width="1" />
<text x="651.5" y="474.4" font-family="Liberation Serif" font-size="9.0" font-weight="normal" fill="#50f0f0" text-anchor="start" stroke="#50f0f0" stroke-width="0.1" >200</text>
<line x1="648.2" y1="444.9" x2="650.7" y2="444.9" stroke="#50f0f0" stroke-width="1" />
<text x="651.5" y="448.09999999999997" font-family="Liberation Serif" font-size="9.0" font-weight="normal" fill="#50f0f0" text-anchor="start" stroke="#50f0f0" stroke-width="0.1" >400</text>
<line x1="648.2" y1="418.6" x2="650.7" y2="418.6" stroke="#50f0f0" stroke-width="1" />
<text x="651.5" y="421.8" font-family="Liberation Serif" font-size="9.0" font-weight="normal" fill="#50f0f0" text-anchor="start" stroke="#50f0f0" stroke-width="0.1" >600</text>
<line x1="648.2" y1="392.3" x2="650.7" y2="392.3" stroke="#50f0f0" stroke-width="1" />
<text x="651.5" y="395.5" font-family="Liberation Serif" font-size="9.0" font-weight="normal" fill="#50f0f0" text-anchor="start" stroke="#50f0f0" stroke-width="0.1" >800</text>
<line x1="648.2" y1="366.0" x2="650.7" y2="366.0" stroke="#50f0f0" stroke-width="1" />
<text x="651.5" y="369.2" font-family="Liberation Serif" font-size="9.0" font-weight="normal" fill="#50f0f0" text-anchor="start" stroke="#50f0f0" stroke-width="0.1" >1000</text>
<line x1="648.2" y1="484.35" x2="649.7" y2="484.35" stroke="#50f0f0" stroke-width="0.8" />
<line x1="648.2" y1="458.05" x2="649.7" y2="458.05" stroke="#50f0f0" stroke-width="0.8" />
<line x1="648.2" y1="431.75" x2="649.7" y2="431.75" stroke="#50f0f0" stroke-width="0.8" />
<line x1="648.2" y1="405.45" x2="649.7" y2="405.45" stroke="#50f0f0" stroke-width="0.8" />
<line x1="648.2" y1="379.15" x2="649.7" y2="379.15" stroke="#50f0f0" stroke-width="0.8" />
<line x1="484.6" y1="497.5" x2="484.6" y2="500.0" stroke="#111" stroke-width="1" />
<line x1="514.3" y1="497.5" x2="514.3" y2="500.0" stroke="#111" stroke-width="1" />
<line x1="544.0" y1="497.5" x2="544.0" y2="500.0" stroke="#111" stroke-width="1" />
<line x1="573.6" y1="497.5" x2="573.6" y2="500.0" stroke="#111" stroke-width="1" />
<line x1="603.4" y1="497.5" x2="603.4" y2="500.0" stroke="#111" stroke-width="1" />
<line x1="633.0" y1="497.5" x2="633.0" y2="500.0" stroke="#111" stroke-width="1" />
<text x="449.4" y="432.6" font-family="Liberation Serif" font-size="9.2" font-weight="normal" fill="#222" text-anchor="middle" transform="rotate(-90 449.4 432.6)" textLength="97.9" lengthAdjust="spacingAndGlyphs" stroke="#222" stroke-width="0.1" >Yield of product (μmol g<tspan baseline-shift="38%" font-size="68%">-1</tspan>)</text>
<text x="679.0" y="433" font-family="Liberation Serif" font-size="9.2" font-weight="normal" fill="#50f0f0" text-anchor="middle" transform="rotate(-90 679.0 433)" textLength="60" lengthAdjust="spacingAndGlyphs" stroke="#50f0f0" stroke-width="0.1" ><tspan font-style='italic'>R</tspan><tspan baseline-shift="-28%" font-size="68%">electron</tspan> (μmol g<tspan baseline-shift="38%" font-size="68%">-1</tspan>)</text>
<text x="491.1" y="508.8" font-family="Liberation Serif" font-size="8.7" font-weight="normal" fill="#222" text-anchor="end" transform="rotate(-28 491.1 508.8)" stroke="#222" stroke-width="0.1" >Cs<tspan baseline-shift="-28%" font-size="68%">3</tspan>Bi<tspan baseline-shift="-28%" font-size="68%">2</tspan>I<tspan baseline-shift="-28%" font-size="68%">9</tspan></text>
<text x="520.8" y="508.8" font-family="Liberation Serif" font-size="8.7" font-weight="normal" fill="#222" text-anchor="end" transform="rotate(-28 520.8 508.8)" stroke="#222" stroke-width="0.1" >CeO<tspan baseline-shift="-28%" font-size="68%">2</tspan></text>
<text x="550.5" y="508.8" font-family="Liberation Serif" font-size="8.7" font-weight="normal" fill="#222" text-anchor="end" transform="rotate(-28 550.5 508.8)" stroke="#222" stroke-width="0.1" >Cs<tspan baseline-shift="-28%" font-size="68%">3</tspan>Bi<tspan baseline-shift="-28%" font-size="68%">2</tspan>I<tspan baseline-shift="-28%" font-size="68%">9</tspan>/CeO<tspan baseline-shift="-28%" font-size="68%">2</tspan>-2:1</text>
<text x="580.1" y="508.8" font-family="Liberation Serif" font-size="8.7" font-weight="normal" fill="#222" text-anchor="end" transform="rotate(-28 580.1 508.8)" stroke="#222" stroke-width="0.1" >Cs<tspan baseline-shift="-28%" font-size="68%">3</tspan>Bi<tspan baseline-shift="-28%" font-size="68%">2</tspan>I<tspan baseline-shift="-28%" font-size="68%">9</tspan>/CeO<tspan baseline-shift="-28%" font-size="68%">2</tspan>-3:1</text>
<text x="609.9" y="508.8" font-family="Liberation Serif" font-size="8.7" font-weight="normal" fill="#222" text-anchor="end" transform="rotate(-28 609.9 508.8)" stroke="#222" stroke-width="0.1" >Cs<tspan baseline-shift="-28%" font-size="68%">3</tspan>Bi<tspan baseline-shift="-28%" font-size="68%">2</tspan>I<tspan baseline-shift="-28%" font-size="68%">9</tspan>/CeO<tspan baseline-shift="-28%" font-size="68%">2</tspan>-4:1</text>
<text x="639.5" y="508.8" font-family="Liberation Serif" font-size="8.7" font-weight="normal" fill="#222" text-anchor="end" transform="rotate(-28 639.5 508.8)" stroke="#222" stroke-width="0.1" >Cs<tspan baseline-shift="-28%" font-size="68%">3</tspan>Bi<tspan baseline-shift="-28%" font-size="68%">2</tspan>I<tspan baseline-shift="-28%" font-size="68%">9</tspan>/CeO<tspan baseline-shift="-28%" font-size="68%">2</tspan>-6:1</text>
<rect x="493.2" y="681.301" width="13.199999999999989" height="6.698999999999955" fill="url(#kgrn)" stroke="#333" stroke-width="0.5"/>
<rect x="493.2" y="681.301" width="13.199999999999989" height="6.698999999999955" fill="url(#hatch)" />
<rect x="524.2" y="568.23" width="13.0" height="119.76999999999998" fill="url(#kgold)" stroke="#333" stroke-width="0.5"/>
<rect x="524.2" y="568.23" width="13.0" height="119.76999999999998" fill="url(#hatch)" />
<rect x="537.2" y="657.55" width="13.5" height="30.450000000000045" fill="url(#kgrn)" stroke="#333" stroke-width="0.5"/>
<rect x="537.2" y="657.55" width="13.5" height="30.450000000000045" fill="url(#hatch)" />
<rect x="568.2" y="663.64" width="13.399999999999977" height="24.360000000000014" fill="url(#kgold)" stroke="#333" stroke-width="0.5"/>
<rect x="568.2" y="663.64" width="13.399999999999977" height="24.360000000000014" fill="url(#hatch)" />
<rect x="581.6" y="683.128" width="13.5" height="4.871999999999957" fill="url(#kgrn)" stroke="#333" stroke-width="0.5"/>
<rect x="581.6" y="683.128" width="13.5" height="4.871999999999957" fill="url(#hatch)" />
<rect x="612.2" y="669.73" width="13.5" height="18.269999999999982" fill="url(#kgold)" stroke="#333" stroke-width="0.5"/>
<rect x="612.2" y="669.73" width="13.5" height="18.269999999999982" fill="url(#hatch)" />
<rect x="625.7" y="683.128" width="13.5" height="4.871999999999957" fill="url(#kgrn)" stroke="#333" stroke-width="0.5"/>
<rect x="625.7" y="683.128" width="13.5" height="4.871999999999957" fill="url(#hatch)" />
<rect x="607.4" y="548.4" width="17.1" height="8.1" fill="url(#kgold)" stroke="#333" stroke-width="0.4"/>
<rect x="607.4" y="548.4" width="17.1" height="8.1" fill="url(#hatch)" />
<rect x="607.4" y="559.4" width="17.1" height="8.1" fill="url(#kgrn)" stroke="#333" stroke-width="0.4"/>
<rect x="607.4" y="559.4" width="17.1" height="8.1" fill="url(#hatch)" />
<text x="628.7" y="556.2" font-family="Liberation Serif" font-size="9.6" font-weight="bold" fill="#111" text-anchor="start" stroke="#111" stroke-width="0.28" >CO</text>
<text x="628.7" y="567.2" font-family="Liberation Serif" font-size="9.6" font-weight="bold" fill="#111" text-anchor="start" stroke="#111" stroke-width="0.28" >CH<tspan baseline-shift="-28%" font-size="68%">4</tspan></text>
<text x="570.6" y="600.2" font-family="Liberation Serif" font-size="8.3" font-weight="bold" fill="#111" text-anchor="start" stroke="#111" stroke-width="0.28" >S1: Ni-MOF</text>
<text x="570.6" y="611.9000000000001" font-family="Liberation Serif" font-size="8.3" font-weight="bold" fill="#111" text-anchor="start" stroke="#111" stroke-width="0.28" >S2: CABB/Ni-MOF</text>
<text x="570.6" y="623.6" font-family="Liberation Serif" font-size="8.3" font-weight="bold" fill="#111" text-anchor="start" stroke="#111" stroke-width="0.28" >S3: physically mixing</text>
<text x="570.6" y="635.3000000000001" font-family="Liberation Serif" font-size="8.3" font-weight="bold" fill="#111" text-anchor="start" stroke="#111" stroke-width="0.28" >S4: CABB</text>
<rect x="469.9" y="545.2" width="177.89999999999998" height="142.79999999999995" fill="none" stroke="#222" stroke-width="1.1"/>
<line x1="467.4" y1="688.0" x2="469.9" y2="688.0" stroke="#222" stroke-width="1" />
<text x="467.4" y="691.4" font-family="Liberation Serif" font-size="9.6" font-weight="bold" fill="#111" text-anchor="end" stroke="#111" stroke-width="0.28" >0</text>
<line x1="467.4" y1="647.4" x2="469.9" y2="647.4" stroke="#222" stroke-width="1" />
<text x="467.4" y="650.8" font-family="Liberation Serif" font-size="9.6" font-weight="bold" fill="#111" text-anchor="end" stroke="#111" stroke-width="0.28" >20</text>
<line x1="467.4" y1="606.8000000000001" x2="469.9" y2="606.8000000000001" stroke="#222" stroke-width="1" />
<text x="467.4" y="610.2" font-family="Liberation Serif" font-size="9.6" font-weight="bold" fill="#111" text-anchor="end" stroke="#111" stroke-width="0.28" >40</text>
<line x1="467.4" y1="566.2" x2="469.9" y2="566.2" stroke="#222" stroke-width="1" />
<text x="467.4" y="569.6" font-family="Liberation Serif" font-size="9.6" font-weight="bold" fill="#111" text-anchor="end" stroke="#111" stroke-width="0.28" >60</text>
<line x1="468.4" y1="667.7" x2="469.9" y2="667.7" stroke="#222" stroke-width="0.8" />
<line x1="468.4" y1="627.1" x2="469.9" y2="627.1" stroke="#222" stroke-width="0.8" />
<line x1="468.4" y1="586.5" x2="469.9" y2="586.5" stroke="#222" stroke-width="0.8" />
<line x1="468.4" y1="545.9000000000001" x2="469.9" y2="545.9000000000001" stroke="#222" stroke-width="0.8" />
<line x1="494.1" y1="688.0" x2="494.1" y2="690.0" stroke="#222" stroke-width="1" />
<text x="494.1" y="696.5" font-family="Liberation Serif" font-size="8.6" font-weight="bold" fill="#111" text-anchor="middle" stroke="#111" stroke-width="0.28" >S1</text>
<line x1="536.5" y1="688.0" x2="536.5" y2="690.0" stroke="#222" stroke-width="1" />
<text x="536.5" y="696.5" font-family="Liberation Serif" font-size="8.6" font-weight="bold" fill="#111" text-anchor="middle" stroke="#111" stroke-width="0.28" >S2</text>
<line x1="582.1" y1="688.0" x2="582.1" y2="690.0" stroke="#222" stroke-width="1" />
<text x="582.1" y="696.5" font-family="Liberation Serif" font-size="8.6" font-weight="bold" fill="#111" text-anchor="middle" stroke="#111" stroke-width="0.28" >S3</text>
<line x1="625.2" y1="688.0" x2="625.2" y2="690.0" stroke="#222" stroke-width="1" />
<text x="625.2" y="696.5" font-family="Liberation Serif" font-size="8.6" font-weight="bold" fill="#111" text-anchor="middle" stroke="#111" stroke-width="0.28" >S4</text>
<text x="455.5" y="618.2" font-family="Liberation Serif" font-size="9.8" font-weight="bold" fill="#111" text-anchor="middle" transform="rotate(-90 455.5 618.2)" textLength="117.5" lengthAdjust="spacingAndGlyphs" stroke="#111" stroke-width="0.28" >Production rate / μmol g<tspan baseline-shift="38%" font-size="68%">-1</tspan> h<tspan baseline-shift="38%" font-size="68%">-1</tspan></text>
<polygon points="262.00,52.00 292.00,30.00 322.00,52.00 292.00,78.00" fill="#f6f9fd" stroke="none" stroke-width="1" />
<text x="271.6" y="31.4" font-family="Liberation Sans" font-size="9.2" font-weight="normal" fill="#3a3a3a" text-anchor="middle" textLength="43.7" lengthAdjust="spacingAndGlyphs" stroke="#3a3a3a" stroke-width="0.1" >Temperature-</text>
<text x="271.2" y="40.6" font-family="Liberation Sans" font-size="9.2" font-weight="normal" fill="#3a3a3a" text-anchor="middle" textLength="55.2" lengthAdjust="spacingAndGlyphs" stroke="#3a3a3a" stroke-width="0.1" >Varied Synthesis</text>
<text x="358.3" y="7.1" font-family="Liberation Sans" font-size="8.4" font-weight="bold" fill="#111" text-anchor="middle" textLength="64.5" lengthAdjust="spacingAndGlyphs" stroke="#111" stroke-width="0.28" >CABB nanosheets</text>
<polyline points="276.4,66.6 282.1,62.4 281,57.4 292.8,65.5 281,47.1 295,57.8 295,47.5 299.4,48.4 306.5,43.0" fill="none" stroke="#48a0ec" stroke-width="1.6" stroke-linejoin="miter"/>
<polygon points="310.00,40.20 303.50,41.30 307.20,46.20" fill="#48a0ec" stroke="none" stroke-width="1" />
<polygon points="315.70,9.90 311.30,14.90 316.10,14.60" fill="#f6a050" stroke="none" stroke-width="1" />
<polygon points="315.70,9.90 316.10,14.60 320.10,14.90" fill="#e4802c" stroke="none" stroke-width="1" />
<polygon points="311.30,14.90 315.70,19.90 316.10,14.60" fill="#d87224" stroke="none" stroke-width="1" />
<polygon points="316.10,14.60 315.70,19.90 320.10,14.90" fill="#b45814" stroke="none" stroke-width="1" />
<polygon points="323.50,9.90 319.10,14.90 323.90,14.60" fill="#f6a050" stroke="none" stroke-width="1" />
<polygon points="323.50,9.90 323.90,14.60 327.90,14.90" fill="#e4802c" stroke="none" stroke-width="1" />
<polygon points="319.10,14.90 323.50,19.90 323.90,14.60" fill="#d87224" stroke="none" stroke-width="1" />
<polygon points="323.90,14.60 323.50,19.90 327.90,14.90" fill="#b45814" stroke="none" stroke-width="1" />
<polygon points="331.30,9.90 326.90,14.90 331.70,14.60" fill="#f6a050" stroke="none" stroke-width="1" />
<polygon points="331.30,9.90 331.70,14.60 335.70,14.90" fill="#e4802c" stroke="none" stroke-width="1" />
<polygon points="326.90,14.90 331.30,19.90 331.70,14.60" fill="#d87224" stroke="none" stroke-width="1" />
<polygon points="331.70,14.60 331.30,19.90 335.70,14.90" fill="#b45814" stroke="none" stroke-width="1" />
<polygon points="339.10,9.90 334.70,14.90 339.50,14.60" fill="#f6a050" stroke="none" stroke-width="1" />
<polygon points="339.10,9.90 339.50,14.60 343.50,14.90" fill="#e4802c" stroke="none" stroke-width="1" />
<polygon points="334.70,14.90 339.10,19.90 339.50,14.60" fill="#d87224" stroke="none" stroke-width="1" />
<polygon points="339.50,14.60 339.10,19.90 343.50,14.90" fill="#b45814" stroke="none" stroke-width="1" />
<polygon points="346.90,9.90 342.50,14.90 347.30,14.60" fill="#f6a050" stroke="none" stroke-width="1" />
<polygon points="346.90,9.90 347.30,14.60 351.30,14.90" fill="#e4802c" stroke="none" stroke-width="1" />
<polygon points="342.50,14.90 346.90,19.90 347.30,14.60" fill="#d87224" stroke="none" stroke-width="1" />
<polygon points="347.30,14.60 346.90,19.90 351.30,14.90" fill="#b45814" stroke="none" stroke-width="1" />
<polygon points="354.70,9.90 350.30,14.90 355.10,14.60" fill="#f6a050" stroke="none" stroke-width="1" />
<polygon points="354.70,9.90 355.10,14.60 359.10,14.90" fill="#e4802c" stroke="none" stroke-width="1" />
<polygon points="350.30,14.90 354.70,19.90 355.10,14.60" fill="#d87224" stroke="none" stroke-width="1" />
<polygon points="355.10,14.60 354.70,19.90 359.10,14.90" fill="#b45814" stroke="none" stroke-width="1" />
<polygon points="362.50,9.90 358.10,14.90 362.90,14.60" fill="#f6a050" stroke="none" stroke-width="1" />
<polygon points="362.50,9.90 362.90,14.60 366.90,14.90" fill="#e4802c" stroke="none" stroke-width="1" />
<polygon points="358.10,14.90 362.50,19.90 362.90,14.60" fill="#d87224" stroke="none" stroke-width="1" />
<polygon points="362.90,14.60 362.50,19.90 366.90,14.90" fill="#b45814" stroke="none" stroke-width="1" />
<polygon points="370.30,9.90 365.90,14.90 370.70,14.60" fill="#f6a050" stroke="none" stroke-width="1" />
<polygon points="370.30,9.90 370.70,14.60 374.70,14.90" fill="#e4802c" stroke="none" stroke-width="1" />
<polygon points="365.90,14.90 370.30,19.90 370.70,14.60" fill="#d87224" stroke="none" stroke-width="1" />
<polygon points="370.70,14.60 370.30,19.90 374.70,14.90" fill="#b45814" stroke="none" stroke-width="1" />
<polygon points="378.10,9.90 373.70,14.90 378.50,14.60" fill="#f6a050" stroke="none" stroke-width="1" />
<polygon points="378.10,9.90 378.50,14.60 382.50,14.90" fill="#e4802c" stroke="none" stroke-width="1" />
<polygon points="373.70,14.90 378.10,19.90 378.50,14.60" fill="#d87224" stroke="none" stroke-width="1" />
<polygon points="378.50,14.60 378.10,19.90 382.50,14.90" fill="#b45814" stroke="none" stroke-width="1" />
<polygon points="385.90,9.90 381.50,14.90 386.30,14.60" fill="#f6a050" stroke="none" stroke-width="1" />
<polygon points="385.90,9.90 386.30,14.60 390.30,14.90" fill="#e4802c" stroke="none" stroke-width="1" />
<polygon points="381.50,14.90 385.90,19.90 386.30,14.60" fill="#d87224" stroke="none" stroke-width="1" />
<polygon points="386.30,14.60 385.90,19.90 390.30,14.90" fill="#b45814" stroke="none" stroke-width="1" />
<polygon points="393.70,9.90 389.30,14.90 394.10,14.60" fill="#f6a050" stroke="none" stroke-width="1" />
<polygon points="393.70,9.90 394.10,14.60 398.10,14.90" fill="#e4802c" stroke="none" stroke-width="1" />
<polygon points="389.30,14.90 393.70,19.90 394.10,14.60" fill="#d87224" stroke="none" stroke-width="1" />
<polygon points="394.10,14.60 393.70,19.90 398.10,14.90" fill="#b45814" stroke="none" stroke-width="1" />
<polygon points="401.50,9.90 397.10,14.90 401.90,14.60" fill="#f6a050" stroke="none" stroke-width="1" />
<polygon points="401.50,9.90 401.90,14.60 405.90,14.90" fill="#e4802c" stroke="none" stroke-width="1" />
<polygon points="397.10,14.90 401.50,19.90 401.90,14.60" fill="#d87224" stroke="none" stroke-width="1" />
<polygon points="401.90,14.60 401.50,19.90 405.90,14.90" fill="#b45814" stroke="none" stroke-width="1" />
<polygon points="315.70,17.55 311.30,22.55 316.10,22.25" fill="#f6a050" stroke="none" stroke-width="1" />
<polygon points="315.70,17.55 316.10,22.25 320.10,22.55" fill="#e4802c" stroke="none" stroke-width="1" />
<polygon points="311.30,22.55 315.70,27.55 316.10,22.25" fill="#d87224" stroke="none" stroke-width="1" />
<polygon points="316.10,22.25 315.70,27.55 320.10,22.55" fill="#b45814" stroke="none" stroke-width="1" />
<polygon points="323.50,17.55 319.10,22.55 323.90,22.25" fill="#f6a050" stroke="none" stroke-width="1" />
<polygon points="323.50,17.55 323.90,22.25 327.90,22.55" fill="#e4802c" stroke="none" stroke-width="1" />
<polygon points="319.10,22.55 323.50,27.55 323.90,22.25" fill="#d87224" stroke="none" stroke-width="1" />
<polygon points="323.90,22.25 323.50,27.55 327.90,22.55" fill="#b45814" stroke="none" stroke-width="1" />
<polygon points="331.30,17.55 326.90,22.55 331.70,22.25" fill="#f6a050" stroke="none" stroke-width="1" />
<polygon points="331.30,17.55 331.70,22.25 335.70,22.55" fill="#e4802c" stroke="none" stroke-width="1" />
<polygon points="326.90,22.55 331.30,27.55 331.70,22.25" fill="#d87224" stroke="none" stroke-width="1" />
<polygon points="331.70,22.25 331.30,27.55 335.70,22.55" fill="#b45814" stroke="none" stroke-width="1" />
<polygon points="339.10,17.55 334.70,22.55 339.50,22.25" fill="#f6a050" stroke="none" stroke-width="1" />
<polygon points="339.10,17.55 339.50,22.25 343.50,22.55" fill="#e4802c" stroke="none" stroke-width="1" />
<polygon points="334.70,22.55 339.10,27.55 339.50,22.25" fill="#d87224" stroke="none" stroke-width="1" />
<polygon points="339.50,22.25 339.10,27.55 343.50,22.55" fill="#b45814" stroke="none" stroke-width="1" />
<polygon points="346.90,17.55 342.50,22.55 347.30,22.25" fill="#f6a050" stroke="none" stroke-width="1" />
<polygon points="346.90,17.55 347.30,22.25 351.30,22.55" fill="#e4802c" stroke="none" stroke-width="1" />
<polygon points="342.50,22.55 346.90,27.55 347.30,22.25" fill="#d87224" stroke="none" stroke-width="1" />
<polygon points="347.30,22.25 346.90,27.55 351.30,22.55" fill="#b45814" stroke="none" stroke-width="1" />
<polygon points="354.70,17.55 350.30,22.55 355.10,22.25" fill="#f6a050" stroke="none" stroke-width="1" />
<polygon points="354.70,17.55 355.10,22.25 359.10,22.55" fill="#e4802c" stroke="none" stroke-width="1" />
<polygon points="350.30,22.55 354.70,27.55 355.10,22.25" fill="#d87224" stroke="none" stroke-width="1" />
<polygon points="355.10,22.25 354.70,27.55 359.10,22.55" fill="#b45814" stroke="none" stroke-width="1" />
<polygon points="362.50,17.55 358.10,22.55 362.90,22.25" fill="#f6a050" stroke="none" stroke-width="1" />
<polygon points="362.50,17.55 362.90,22.25 366.90,22.55" fill="#e4802c" stroke="none" stroke-width="1" />
<polygon points="358.10,22.55 362.50,27.55 362.90,22.25" fill="#d87224" stroke="none" stroke-width="1" />
<polygon points="362.90,22.25 362.50,27.55 366.90,22.55" fill="#b45814" stroke="none" stroke-width="1" />
<polygon points="370.30,17.55 365.90,22.55 370.70,22.25" fill="#f6a050" stroke="none" stroke-width="1" />
<polygon points="370.30,17.55 370.70,22.25 374.70,22.55" fill="#e4802c" stroke="none" stroke-width="1" />
<polygon points="365.90,22.55 370.30,27.55 370.70,22.25" fill="#d87224" stroke="none" stroke-width="1" />
<polygon points="370.70,22.25 370.30,27.55 374.70,22.55" fill="#b45814" stroke="none" stroke-width="1" />
<polygon points="378.10,17.55 373.70,22.55 378.50,22.25" fill="#f6a050" stroke="none" stroke-width="1" />
<polygon points="378.10,17.55 378.50,22.25 382.50,22.55" fill="#e4802c" stroke="none" stroke-width="1" />
<polygon points="373.70,22.55 378.10,27.55 378.50,22.25" fill="#d87224" stroke="none" stroke-width="1" />
<polygon points="378.50,22.25 378.10,27.55 382.50,22.55" fill="#b45814" stroke="none" stroke-width="1" />
<polygon points="385.90,17.55 381.50,22.55 386.30,22.25" fill="#f6a050" stroke="none" stroke-width="1" />
<polygon points="385.90,17.55 386.30,22.25 390.30,22.55" fill="#e4802c" stroke="none" stroke-width="1" />
<polygon points="381.50,22.55 385.90,27.55 386.30,22.25" fill="#d87224" stroke="none" stroke-width="1" />
<polygon points="386.30,22.25 385.90,27.55 390.30,22.55" fill="#b45814" stroke="none" stroke-width="1" />
<polygon points="393.70,17.55 389.30,22.55 394.10,22.25" fill="#f6a050" stroke="none" stroke-width="1" />
<polygon points="393.70,17.55 394.10,22.25 398.10,22.55" fill="#e4802c" stroke="none" stroke-width="1" />
<polygon points="389.30,22.55 393.70,27.55 394.10,22.25" fill="#d87224" stroke="none" stroke-width="1" />
<polygon points="394.10,22.25 393.70,27.55 398.10,22.55" fill="#b45814" stroke="none" stroke-width="1" />
<polygon points="401.50,17.55 397.10,22.55 401.90,22.25" fill="#f6a050" stroke="none" stroke-width="1" />
<polygon points="401.50,17.55 401.90,22.25 405.90,22.55" fill="#e4802c" stroke="none" stroke-width="1" />
<polygon points="397.10,22.55 401.50,27.55 401.90,22.25" fill="#d87224" stroke="none" stroke-width="1" />
<polygon points="401.90,22.25 401.50,27.55 405.90,22.55" fill="#b45814" stroke="none" stroke-width="1" />
<polygon points="315.70,25.20 311.30,30.20 316.10,29.90" fill="#f6a050" stroke="none" stroke-width="1" />
<polygon points="315.70,25.20 316.10,29.90 320.10,30.20" fill="#e4802c" stroke="none" stroke-width="1" />
<polygon points="311.30,30.20 315.70,35.20 316.10,29.90" fill="#d87224" stroke="none" stroke-width="1" />
<polygon points="316.10,29.90 315.70,35.20 320.10,30.20" fill="#b45814" stroke="none" stroke-width="1" />
<polygon points="323.50,25.20 319.10,30.20 323.90,29.90" fill="#f6a050" stroke="none" stroke-width="1" />
<polygon points="323.50,25.20 323.90,29.90 327.90,30.20" fill="#e4802c" stroke="none" stroke-width="1" />
<polygon points="319.10,30.20 323.50,35.20 323.90,29.90" fill="#d87224" stroke="none" stroke-width="1" />
<polygon points="323.90,29.90 323.50,35.20 327.90,30.20" fill="#b45814" stroke="none" stroke-width="1" />
<polygon points="331.30,25.20 326.90,30.20 331.70,29.90" fill="#f6a050" stroke="none" stroke-width="1" />
<polygon points="331.30,25.20 331.70,29.90 335.70,30.20" fill="#e4802c" stroke="none" stroke-width="1" />
<polygon points="326.90,30.20 331.30,35.20 331.70,29.90" fill="#d87224" stroke="none" stroke-width="1" />
<polygon points="331.70,29.90 331.30,35.20 335.70,30.20" fill="#b45814" stroke="none" stroke-width="1" />
<polygon points="339.10,25.20 334.70,30.20 339.50,29.90" fill="#f6a050" stroke="none" stroke-width="1" />
<polygon points="339.10,25.20 339.50,29.90 343.50,30.20" fill="#e4802c" stroke="none" stroke-width="1" />
<polygon points="334.70,30.20 339.10,35.20 339.50,29.90" fill="#d87224" stroke="none" stroke-width="1" />
<polygon points="339.50,29.90 339.10,35.20 343.50,30.20" fill="#b45814" stroke="none" stroke-width="1" />
<polygon points="346.90,25.20 342.50,30.20 347.30,29.90" fill="#f6a050" stroke="none" stroke-width="1" />
<polygon points="346.90,25.20 347.30,29.90 351.30,30.20" fill="#e4802c" stroke="none" stroke-width="1" />
<polygon points="342.50,30.20 346.90,35.20 347.30,29.90" fill="#d87224" stroke="none" stroke-width="1" />
<polygon points="347.30,29.90 346.90,35.20 351.30,30.20" fill="#b45814" stroke="none" stroke-width="1" />
<polygon points="354.70,25.20 350.30,30.20 355.10,29.90" fill="#f6a050" stroke="none" stroke-width="1" />
<polygon points="354.70,25.20 355.10,29.90 359.10,30.20" fill="#e4802c" stroke="none" stroke-width="1" />
<polygon points="350.30,30.20 354.70,35.20 355.10,29.90" fill="#d87224" stroke="none" stroke-width="1" />
<polygon points="355.10,29.90 354.70,35.20 359.10,30.20" fill="#b45814" stroke="none" stroke-width="1" />
<polygon points="362.50,25.20 358.10,30.20 362.90,29.90" fill="#f6a050" stroke="none" stroke-width="1" />
<polygon points="362.50,25.20 362.90,29.90 366.90,30.20" fill="#e4802c" stroke="none" stroke-width="1" />
<polygon points="358.10,30.20 362.50,35.20 362.90,29.90" fill="#d87224" stroke="none" stroke-width="1" />
<polygon points="362.90,29.90 362.50,35.20 366.90,30.20" fill="#b45814" stroke="none" stroke-width="1" />
<polygon points="370.30,25.20 365.90,30.20 370.70,29.90" fill="#f6a050" stroke="none" stroke-width="1" />
<polygon points="370.30,25.20 370.70,29.90 374.70,30.20" fill="#e4802c" stroke="none" stroke-width="1" />
<polygon points="365.90,30.20 370.30,35.20 370.70,29.90" fill="#d87224" stroke="none" stroke-width="1" />
<polygon points="370.70,29.90 370.30,35.20 374.70,30.20" fill="#b45814" stroke="none" stroke-width="1" />
<polygon points="378.10,25.20 373.70,30.20 378.50,29.90" fill="#f6a050" stroke="none" stroke-width="1" />
<polygon points="378.10,25.20 378.50,29.90 382.50,30.20" fill="#e4802c" stroke="none" stroke-width="1" />
<polygon points="373.70,30.20 378.10,35.20 378.50,29.90" fill="#d87224" stroke="none" stroke-width="1" />
<polygon points="378.50,29.90 378.10,35.20 382.50,30.20" fill="#b45814" stroke="none" stroke-width="1" />
<polygon points="385.90,25.20 381.50,30.20 386.30,29.90" fill="#f6a050" stroke="none" stroke-width="1" />
<polygon points="385.90,25.20 386.30,29.90 390.30,30.20" fill="#e4802c" stroke="none" stroke-width="1" />
<polygon points="381.50,30.20 385.90,35.20 386.30,29.90" fill="#d87224" stroke="none" stroke-width="1" />
<polygon points="386.30,29.90 385.90,35.20 390.30,30.20" fill="#b45814" stroke="none" stroke-width="1" />
<polygon points="393.70,25.20 389.30,30.20 394.10,29.90" fill="#f6a050" stroke="none" stroke-width="1" />
<polygon points="393.70,25.20 394.10,29.90 398.10,30.20" fill="#e4802c" stroke="none" stroke-width="1" />
<polygon points="389.30,30.20 393.70,35.20 394.10,29.90" fill="#d87224" stroke="none" stroke-width="1" />
<polygon points="394.10,29.90 393.70,35.20 398.10,30.20" fill="#b45814" stroke="none" stroke-width="1" />
<polygon points="401.50,25.20 397.10,30.20 401.90,29.90" fill="#f6a050" stroke="none" stroke-width="1" />
<polygon points="401.50,25.20 401.90,29.90 405.90,30.20" fill="#e4802c" stroke="none" stroke-width="1" />
<polygon points="397.10,30.20 401.50,35.20 401.90,29.90" fill="#d87224" stroke="none" stroke-width="1" />
<polygon points="401.90,29.90 401.50,35.20 405.90,30.20" fill="#b45814" stroke="none" stroke-width="1" />
<polygon points="315.70,32.85 311.30,37.85 316.10,37.55" fill="#f6a050" stroke="none" stroke-width="1" />
<polygon points="315.70,32.85 316.10,37.55 320.10,37.85" fill="#e4802c" stroke="none" stroke-width="1" />
<polygon points="311.30,37.85 315.70,42.85 316.10,37.55" fill="#d87224" stroke="none" stroke-width="1" />
<polygon points="316.10,37.55 315.70,42.85 320.10,37.85" fill="#b45814" stroke="none" stroke-width="1" />
<polygon points="323.50,32.85 319.10,37.85 323.90,37.55" fill="#f6a050" stroke="none" stroke-width="1" />
<polygon points="323.50,32.85 323.90,37.55 327.90,37.85" fill="#e4802c" stroke="none" stroke-width="1" />
<polygon points="319.10,37.85 323.50,42.85 323.90,37.55" fill="#d87224" stroke="none" stroke-width="1" />
<polygon points="323.90,37.55 323.50,42.85 327.90,37.85" fill="#b45814" stroke="none" stroke-width="1" />
<polygon points="331.30,32.85 326.90,37.85 331.70,37.55" fill="#f6a050" stroke="none" stroke-width="1" />
<polygon points="331.30,32.85 331.70,37.55 335.70,37.85" fill="#e4802c" stroke="none" stroke-width="1" />
<polygon points="326.90,37.85 331.30,42.85 331.70,37.55" fill="#d87224" stroke="none" stroke-width="1" />
<polygon points="331.70,37.55 331.30,42.85 335.70,37.85" fill="#b45814" stroke="none" stroke-width="1" />
<polygon points="339.10,32.85 334.70,37.85 339.50,37.55" fill="#f6a050" stroke="none" stroke-width="1" />
<polygon points="339.10,32.85 339.50,37.55 343.50,37.85" fill="#e4802c" stroke="none" stroke-width="1" />
<polygon points="334.70,37.85 339.10,42.85 339.50,37.55" fill="#d87224" stroke="none" stroke-width="1" />
<polygon points="339.50,37.55 339.10,42.85 343.50,37.85" fill="#b45814" stroke="none" stroke-width="1" />
<polygon points="346.90,32.85 342.50,37.85 347.30,37.55" fill="#f6a050" stroke="none" stroke-width="1" />
<polygon points="346.90,32.85 347.30,37.55 351.30,37.85" fill="#e4802c" stroke="none" stroke-width="1" />
<polygon points="342.50,37.85 346.90,42.85 347.30,37.55" fill="#d87224" stroke="none" stroke-width="1" />
<polygon points="347.30,37.55 346.90,42.85 351.30,37.85" fill="#b45814" stroke="none" stroke-width="1" />
<polygon points="354.70,32.85 350.30,37.85 355.10,37.55" fill="#f6a050" stroke="none" stroke-width="1" />
<polygon points="354.70,32.85 355.10,37.55 359.10,37.85" fill="#e4802c" stroke="none" stroke-width="1" />
<polygon points="350.30,37.85 354.70,42.85 355.10,37.55" fill="#d87224" stroke="none" stroke-width="1" />
<polygon points="355.10,37.55 354.70,42.85 359.10,37.85" fill="#b45814" stroke="none" stroke-width="1" />
<polygon points="362.50,32.85 358.10,37.85 362.90,37.55" fill="#f6a050" stroke="none" stroke-width="1" />
<polygon points="362.50,32.85 362.90,37.55 366.90,37.85" fill="#e4802c" stroke="none" stroke-width="1" />
<polygon points="358.10,37.85 362.50,42.85 362.90,37.55" fill="#d87224" stroke="none" stroke-width="1" />
<polygon points="362.90,37.55 362.50,42.85 366.90,37.85" fill="#b45814" stroke="none" stroke-width="1" />
<polygon points="370.30,32.85 365.90,37.85 370.70,37.55" fill="#f6a050" stroke="none" stroke-width="1" />
<polygon points="370.30,32.85 370.70,37.55 374.70,37.85" fill="#e4802c" stroke="none" stroke-width="1" />
<polygon points="365.90,37.85 370.30,42.85 370.70,37.55" fill="#d87224" stroke="none" stroke-width="1" />
<polygon points="370.70,37.55 370.30,42.85 374.70,37.85" fill="#b45814" stroke="none" stroke-width="1" />
<polygon points="378.10,32.85 373.70,37.85 378.50,37.55" fill="#f6a050" stroke="none" stroke-width="1" />
<polygon points="378.10,32.85 378.50,37.55 382.50,37.85" fill="#e4802c" stroke="none" stroke-width="1" />
<polygon points="373.70,37.85 378.10,42.85 378.50,37.55" fill="#d87224" stroke="none" stroke-width="1" />
<polygon points="378.50,37.55 378.10,42.85 382.50,37.85" fill="#b45814" stroke="none" stroke-width="1" />
<polygon points="385.90,32.85 381.50,37.85 386.30,37.55" fill="#f6a050" stroke="none" stroke-width="1" />
<polygon points="385.90,32.85 386.30,37.55 390.30,37.85" fill="#e4802c" stroke="none" stroke-width="1" />
<polygon points="381.50,37.85 385.90,42.85 386.30,37.55" fill="#d87224" stroke="none" stroke-width="1" />
<polygon points="386.30,37.55 385.90,42.85 390.30,37.85" fill="#b45814" stroke="none" stroke-width="1" />
<polygon points="393.70,32.85 389.30,37.85 394.10,37.55" fill="#f6a050" stroke="none" stroke-width="1" />
<polygon points="393.70,32.85 394.10,37.55 398.10,37.85" fill="#e4802c" stroke="none" stroke-width="1" />
<polygon points="389.30,37.85 393.70,42.85 394.10,37.55" fill="#d87224" stroke="none" stroke-width="1" />
<polygon points="394.10,37.55 393.70,42.85 398.10,37.85" fill="#b45814" stroke="none" stroke-width="1" />
<polygon points="401.50,32.85 397.10,37.85 401.90,37.55" fill="#f6a050" stroke="none" stroke-width="1" />
<polygon points="401.50,32.85 401.90,37.55 405.90,37.85" fill="#e4802c" stroke="none" stroke-width="1" />
<polygon points="397.10,37.85 401.50,42.85 401.90,37.55" fill="#d87224" stroke="none" stroke-width="1" />
<polygon points="401.90,37.55 401.50,42.85 405.90,37.85" fill="#b45814" stroke="none" stroke-width="1" />
<circle cx="319.60" cy="19.00" r="1.7" fill="#f4faf2" />
<circle cx="319.60" cy="19.00" r="1.1" fill="#b8e0b4" />
<circle cx="327.40" cy="19.00" r="1.7" fill="#f4faf2" />
<circle cx="327.40" cy="19.00" r="1.1" fill="#b8e0b4" />
<circle cx="335.20" cy="19.00" r="1.7" fill="#f4faf2" />
<circle cx="335.20" cy="19.00" r="1.1" fill="#b8e0b4" />
<circle cx="343.00" cy="19.00" r="1.7" fill="#f4faf2" />
<circle cx="343.00" cy="19.00" r="1.1" fill="#b8e0b4" />
<circle cx="350.80" cy="19.00" r="1.7" fill="#f4faf2" />
<circle cx="350.80" cy="19.00" r="1.1" fill="#b8e0b4" />
<circle cx="358.60" cy="19.00" r="1.7" fill="#f4faf2" />
<circle cx="358.60" cy="19.00" r="1.1" fill="#b8e0b4" />
<circle cx="366.40" cy="19.00" r="1.7" fill="#f4faf2" />
<circle cx="366.40" cy="19.00" r="1.1" fill="#b8e0b4" />
<circle cx="374.20" cy="19.00" r="1.7" fill="#f4faf2" />
<circle cx="374.20" cy="19.00" r="1.1" fill="#b8e0b4" />
<circle cx="382.00" cy="19.00" r="1.7" fill="#f4faf2" />
<circle cx="382.00" cy="19.00" r="1.1" fill="#b8e0b4" />
<circle cx="389.80" cy="19.00" r="1.7" fill="#f4faf2" />
<circle cx="389.80" cy="19.00" r="1.1" fill="#b8e0b4" />
<circle cx="397.60" cy="19.00" r="1.7" fill="#f4faf2" />
<circle cx="397.60" cy="19.00" r="1.1" fill="#b8e0b4" />
<circle cx="405.40" cy="19.00" r="1.7" fill="#f4faf2" />
<circle cx="405.40" cy="19.00" r="1.1" fill="#b8e0b4" />
<circle cx="319.60" cy="26.65" r="1.7" fill="#f4faf2" />
<circle cx="319.60" cy="26.65" r="1.1" fill="#b8e0b4" />
<circle cx="327.40" cy="26.65" r="1.7" fill="#f4faf2" />
<circle cx="327.40" cy="26.65" r="1.1" fill="#b8e0b4" />
<circle cx="335.20" cy="26.65" r="1.7" fill="#f4faf2" />
<circle cx="335.20" cy="26.65" r="1.1" fill="#b8e0b4" />
<circle cx="343.00" cy="26.65" r="1.7" fill="#f4faf2" />
<circle cx="343.00" cy="26.65" r="1.1" fill="#b8e0b4" />
<circle cx="350.80" cy="26.65" r="1.7" fill="#f4faf2" />
<circle cx="350.80" cy="26.65" r="1.1" fill="#b8e0b4" />
<circle cx="358.60" cy="26.65" r="1.7" fill="#f4faf2" />
<circle cx="358.60" cy="26.65" r="1.1" fill="#b8e0b4" />
<circle cx="366.40" cy="26.65" r="1.7" fill="#f4faf2" />
<circle cx="366.40" cy="26.65" r="1.1" fill="#b8e0b4" />
<circle cx="374.20" cy="26.65" r="1.7" fill="#f4faf2" />
<circle cx="374.20" cy="26.65" r="1.1" fill="#b8e0b4" />
<circle cx="382.00" cy="26.65" r="1.7" fill="#f4faf2" />
<circle cx="382.00" cy="26.65" r="1.1" fill="#b8e0b4" />
<circle cx="389.80" cy="26.65" r="1.7" fill="#f4faf2" />
<circle cx="389.80" cy="26.65" r="1.1" fill="#b8e0b4" />
<circle cx="397.60" cy="26.65" r="1.7" fill="#f4faf2" />
<circle cx="397.60" cy="26.65" r="1.1" fill="#b8e0b4" />
<circle cx="405.40" cy="26.65" r="1.7" fill="#f4faf2" />
<circle cx="405.40" cy="26.65" r="1.1" fill="#b8e0b4" />
<circle cx="319.60" cy="34.30" r="1.7" fill="#f4faf2" />
<circle cx="319.60" cy="34.30" r="1.1" fill="#b8e0b4" />
<circle cx="327.40" cy="34.30" r="1.7" fill="#f4faf2" />
<circle cx="327.40" cy="34.30" r="1.1" fill="#b8e0b4" />
<circle cx="335.20" cy="34.30" r="1.7" fill="#f4faf2" />
<circle cx="335.20" cy="34.30" r="1.1" fill="#b8e0b4" />
<circle cx="343.00" cy="34.30" r="1.7" fill="#f4faf2" />
<circle cx="343.00" cy="34.30" r="1.1" fill="#b8e0b4" />
<circle cx="350.80" cy="34.30" r="1.7" fill="#f4faf2" />
<circle cx="350.80" cy="34.30" r="1.1" fill="#b8e0b4" />
<circle cx="358.60" cy="34.30" r="1.7" fill="#f4faf2" />
<circle cx="358.60" cy="34.30" r="1.1" fill="#b8e0b4" />
<circle cx="366.40" cy="34.30" r="1.7" fill="#f4faf2" />
<circle cx="366.40" cy="34.30" r="1.1" fill="#b8e0b4" />
<circle cx="374.20" cy="34.30" r="1.7" fill="#f4faf2" />
<circle cx="374.20" cy="34.30" r="1.1" fill="#b8e0b4" />
<circle cx="382.00" cy="34.30" r="1.7" fill="#f4faf2" />
<circle cx="382.00" cy="34.30" r="1.1" fill="#b8e0b4" />
<circle cx="389.80" cy="34.30" r="1.7" fill="#f4faf2" />
<circle cx="389.80" cy="34.30" r="1.1" fill="#b8e0b4" />
<circle cx="397.60" cy="34.30" r="1.7" fill="#f4faf2" />
<circle cx="397.60" cy="34.30" r="1.1" fill="#b8e0b4" />
<circle cx="405.40" cy="34.30" r="1.7" fill="#f4faf2" />
<circle cx="405.40" cy="34.30" r="1.1" fill="#b8e0b4" />
<path d="M240.8,70 L240.8,110 Q257,115 273,110 L273,70 Z" fill="url(#jarg)" stroke="none" stroke-width="1" />
<path d="M242.2,60 L242.2,70 Q257.5,73 272.7,70 L272.7,60 Z" fill="url(#jarg)" stroke="none" stroke-width="1" />
<ellipse cx="257.5" cy="60" rx="15.3" ry="2.6" fill="#f4f4f4" stroke="#dcdcdc" stroke-width="0.5"/>
<line x1="242.5" y1="63.5" x2="272.5" y2="63.5" stroke="#e0e0e0" stroke-width="0.6" />
<line x1="242.5" y1="66.5" x2="272.5" y2="66.5" stroke="#e0e0e0" stroke-width="0.6" />
<path d="M241.5,90 Q257,86 272.3,90 L272.3,110 Q257,114.5 241.5,110 Z" fill="url(#liqg)" stroke="none" stroke-width="1" />
<ellipse cx="257" cy="89.6" rx="15.2" ry="2.3" fill="#b8eaf3"/>
<circle cx="250.71" cy="103.90" r="0.9" fill="#f0c8a0" />
<circle cx="266.98" cy="103.27" r="0.9" fill="#f4b890" />
<circle cx="259.53" cy="107.18" r="0.9" fill="#d8e8c8" />
<circle cx="251.22" cy="101.11" r="0.9" fill="#d8e8c8" />
<circle cx="257.98" cy="103.95" r="0.9" fill="#d8e8c8" />
<circle cx="260.34" cy="100.36" r="0.9" fill="#e8f0b0" />
<circle cx="265.83" cy="103.71" r="0.9" fill="#f4b890" />
<circle cx="261.11" cy="99.58" r="0.9" fill="#f4b890" />
<circle cx="252.23" cy="99.28" r="0.9" fill="#f0c8a0" />
<circle cx="256.35" cy="105.47" r="0.9" fill="#d8e8c8" />
<circle cx="262.14" cy="107.29" r="0.9" fill="#d8e8c8" />
<circle cx="262.48" cy="104.19" r="0.9" fill="#e8f0b0" />
<circle cx="266.09" cy="99.88" r="0.9" fill="#e8f0b0" />
<circle cx="256.88" cy="101.32" r="0.9" fill="#d8e8c8" />
<circle cx="263.70" cy="106.70" r="0.9" fill="#d8e8c8" />
<circle cx="257.17" cy="102.47" r="0.9" fill="#f0c8a0" />
<g transform="rotate(-14 283 94.5)"><rect x="275" y="77.5" width="14.5" height="34" fill="#0c0c0c"/><ellipse cx="275" cy="94.5" rx="5.2" ry="17" fill="#0a0a0a"/><ellipse cx="289.5" cy="94.5" rx="5.2" ry="17" fill="#2e2e2e"/></g>
<circle cx="244.60" cy="126.30" r="4.3" fill="url(#lg_g)" />
<circle cx="244.60" cy="137.70" r="4.3" fill="url(#lg_o)" />
<circle cx="244.60" cy="149.50" r="2.9" fill="url(#lg_k)" />
<text x="254.2" y="129.2" font-family="Liberation Sans" font-size="8.2" font-weight="normal" fill="#4a4a4a" text-anchor="start" stroke="#4a4a4a" stroke-width="0.1" >AgNO<tspan baseline-shift="-28%" font-size="68%">3</tspan></text>
<text x="254.2" y="140.6" font-family="Liberation Sans" font-size="8.2" font-weight="normal" fill="#4a4a4a" text-anchor="start" stroke="#4a4a4a" stroke-width="0.1" >BiBr<tspan baseline-shift="-28%" font-size="68%">3</tspan></text>
<text x="254.2" y="152.3" font-family="Liberation Sans" font-size="8.2" font-weight="normal" fill="#4a4a4a" text-anchor="start" stroke="#4a4a4a" stroke-width="0.1" >HBr</text>
<rect x="327.3" y="51" width="1.9" height="50" fill="url(#parr)" />
<polygon points="323.60,100.00 332.80,100.00 328.20,109.00" fill="#7030b8" stroke="none" stroke-width="1" />
<circle cx="324.50" cy="48.20" r="1.6" fill="#ffffff" stroke="#55c0e6" stroke-width="0.9"/>
<circle cx="322.20" cy="56.40" r="1.6" fill="#ffffff" stroke="#55c0e6" stroke-width="0.9"/>
<circle cx="312.80" cy="59.20" r="1.6" fill="#ffffff" stroke="#55c0e6" stroke-width="0.9"/>
<circle cx="337.30" cy="55.20" r="1.6" fill="#ffffff" stroke="#55c0e6" stroke-width="0.9"/>
<circle cx="319.30" cy="70.90" r="1.6" fill="#ffffff" stroke="#55c0e6" stroke-width="0.9"/>
<circle cx="335.00" cy="68.30" r="1.6" fill="#ffffff" stroke="#55c0e6" stroke-width="0.9"/>
<circle cx="340.80" cy="74.40" r="1.6" fill="#ffffff" stroke="#55c0e6" stroke-width="0.9"/>
<circle cx="320.70" cy="81.90" r="1.6" fill="#ffffff" stroke="#55c0e6" stroke-width="0.9"/>
<circle cx="339.90" cy="84.40" r="1.6" fill="#ffffff" stroke="#55c0e6" stroke-width="0.9"/>
<path d="M383.40,73.11L382.25,77.74M383.40,73.11L389.51,72.23M382.25,77.74L388.19,80.24M389.51,72.23L392.82,76.74M388.19,80.24L392.82,76.74M388.19,80.24L389.88,85.02M389.88,85.02L396.18,86.30M396.18,86.30L400.81,82.79M400.81,82.79L399.12,78.01M399.12,78.01L392.82,76.74M382.25,77.74L376.80,80.37M389.51,72.23L392.98,68.10M400.81,82.79L401.40,84.25M390.67,84.12L395.79,85.25M399.25,82.62L397.93,78.61M370.20,73.11L364.09,72.23M370.20,73.11L371.35,77.74M364.09,72.23L360.78,76.74M371.35,77.74L365.41,80.24M360.78,76.74L365.41,80.24M360.78,76.74L354.48,78.01M354.48,78.01L352.79,82.79M352.79,82.79L357.42,86.30M357.42,86.30L363.72,85.02M363.72,85.02L365.41,80.24M364.09,72.23L360.62,68.10M371.35,77.74L376.80,80.37M357.42,86.30L355.50,86.75M355.67,78.61L354.18,82.49M357.65,85.12L362.93,84.12M370.20,63.09L371.35,58.46M370.20,63.09L364.09,63.97M371.35,58.46L365.41,55.96M364.09,63.97L360.78,59.46M365.41,55.96L360.78,59.46M365.41,55.96L363.72,51.18M363.72,51.18L357.42,49.90M357.42,49.90L352.79,53.41M352.79,53.41L354.48,58.19M354.48,58.19L360.78,59.46M371.35,58.46L376.80,55.83M364.09,63.97L360.62,68.10M352.79,53.41L352.20,51.95M362.93,52.08L357.81,50.95M354.35,53.58L355.67,57.59M383.40,63.09L389.51,63.97M383.40,63.09L382.25,58.46M389.51,63.97L392.82,59.46M382.25,58.46L388.19,55.96M392.82,59.46L388.19,55.96M392.82,59.46L399.12,58.19M399.12,58.19L400.81,53.41M400.81,53.41L396.18,49.90M396.18,49.90L389.88,51.18M389.88,51.18L388.19,55.96M389.51,63.97L392.98,68.10M382.25,58.46L376.80,55.83M396.18,49.90L398.10,49.45M397.93,57.59L399.42,53.71M395.95,51.08L390.67,52.08" fill="none" stroke="#5c5ccc" stroke-width="0.75" />
<line x1="376.8" y1="68.1" x2="383.4043773362824" y2="73.10631601080075" stroke="#5c5ccc" stroke-width="0.6" />
<line x1="376.8" y1="68.1" x2="370.19562266371764" y2="73.10631601080075" stroke="#5c5ccc" stroke-width="0.6" />
<line x1="376.8" y1="68.1" x2="370.19562266371764" y2="63.093683989199235" stroke="#5c5ccc" stroke-width="0.6" />
<line x1="376.8" y1="68.1" x2="383.4043773362824" y2="63.093683989199235" stroke="#5c5ccc" stroke-width="0.6" />
<circle cx="383.40" cy="73.11" r="1.5" fill="#fff" />
<text x="383.4043773362824" y="75.00631601080076" font-family="Liberation Sans" font-size="5.0" font-weight="normal" fill="#5c5ccc" text-anchor="middle" stroke="#5c5ccc" stroke-width="0.1" >N</text>
<circle cx="376.80" cy="80.37" r="1.5" fill="#fff" />
<text x="376.8" y="82.26547422646186" font-family="Liberation Sans" font-size="5.0" font-weight="normal" fill="#5c5ccc" text-anchor="middle" stroke="#5c5ccc" stroke-width="0.1" >N</text>
<text x="402.3919621780941" y="87.9975797386127" font-family="Liberation Sans" font-size="5.6" font-weight="normal" fill="#5c5ccc" text-anchor="middle" stroke="#5c5ccc" stroke-width="0.1" >X</text>
<circle cx="370.20" cy="73.11" r="1.5" fill="#fff" />
<text x="370.19562266371764" y="75.00631601080076" font-family="Liberation Sans" font-size="5.0" font-weight="normal" fill="#5c5ccc" text-anchor="middle" stroke="#5c5ccc" stroke-width="0.1" >N</text>
<circle cx="360.62" cy="68.10" r="1.5" fill="#fff" />
<text x="360.61927552610825" y="70.0" font-family="Liberation Sans" font-size="5.0" font-weight="normal" fill="#5c5ccc" text-anchor="middle" stroke="#5c5ccc" stroke-width="0.1" >N</text>
<text x="353.1893510227906" y="89.49947454185292" font-family="Liberation Sans" font-size="5.6" font-weight="normal" fill="#5c5ccc" text-anchor="middle" stroke="#5c5ccc" stroke-width="0.1" >X</text>
<circle cx="370.20" cy="63.09" r="1.5" fill="#fff" />
<text x="370.19562266371764" y="64.99368398919924" font-family="Liberation Sans" font-size="5.0" font-weight="normal" fill="#5c5ccc" text-anchor="middle" stroke="#5c5ccc" stroke-width="0.1" >N</text>
<circle cx="376.80" cy="55.83" r="1.5" fill="#fff" />
<text x="376.8" y="57.73452577353814" font-family="Liberation Sans" font-size="5.0" font-weight="normal" fill="#5c5ccc" text-anchor="middle" stroke="#5c5ccc" stroke-width="0.1" >N</text>
<text x="351.20803782190586" y="52.20242026138729" font-family="Liberation Sans" font-size="5.6" font-weight="normal" fill="#5c5ccc" text-anchor="middle" stroke="#5c5ccc" stroke-width="0.1" >X</text>
<circle cx="383.40" cy="63.09" r="1.5" fill="#fff" />
<text x="383.4043773362824" y="64.99368398919924" font-family="Liberation Sans" font-size="5.0" font-weight="normal" fill="#5c5ccc" text-anchor="middle" stroke="#5c5ccc" stroke-width="0.1" >N</text>
<circle cx="392.98" cy="68.10" r="1.5" fill="#fff" />
<text x="392.98072447389177" y="70.0" font-family="Liberation Sans" font-size="5.0" font-weight="normal" fill="#5c5ccc" text-anchor="middle" stroke="#5c5ccc" stroke-width="0.1" >N</text>
<text x="400.4106489772094" y="50.700525458147055" font-family="Liberation Sans" font-size="5.6" font-weight="normal" fill="#5c5ccc" text-anchor="middle" stroke="#5c5ccc" stroke-width="0.1" >X</text>
<circle cx="376.80" cy="68.10" r="2.4" fill="#fff" />
<text x="376.8" y="70.1" font-family="Liberation Sans" font-size="5.2" font-weight="normal" fill="#5c5ccc" text-anchor="middle" stroke="#5c5ccc" stroke-width="0.1" >Co</text>
<text x="352.5" y="96.8" font-family="Liberation Sans" font-size="6.6" font-weight="normal" fill="#333" text-anchor="start" stroke="#333" stroke-width="0.1" ><tspan font-weight='bold'>CoPc</tspan>: X = H</text>
<text x="352.5" y="104.3" font-family="Liberation Sans" font-size="6.6" font-weight="normal" fill="#333" text-anchor="start" stroke="#333" stroke-width="0.1" ><tspan font-weight='bold'>CoTAPc</tspan>: X = NH<tspan baseline-shift="-28%" font-size="68%">2</tspan></text>
<text x="352.5" y="111.3" font-family="Liberation Sans" font-size="6.6" font-weight="normal" fill="#333" text-anchor="start" textLength="56" lengthAdjust="spacingAndGlyphs" stroke="#333" stroke-width="0.1" ><tspan font-weight='bold'>CoTCPc</tspan>: X = COOH</text>
<g clip-path="url(#bclip)"><rect x="305" y="112" width="105" height="36" fill="#e07a2c"/><polygon points="304.0,114.6 305.5,118.0 307.0,121.4 303.0,118.0" fill="#f4a058"/><polygon points="304.0,114.6 308.0,118.0 307.0,121.4 305.5,118.0" fill="#c2601c"/><polygon points="308.9,114.6 310.4,118.0 311.9,121.4 307.9,118.0" fill="#f4a058"/><polygon points="308.9,114.6 312.9,118.0 311.9,121.4 310.4,118.0" fill="#c2601c"/><polygon points="313.8,114.6 315.2,118.0 316.8,121.4 312.8,118.0" fill="#f4a058"/><polygon points="313.8,114.6 317.8,118.0 316.8,121.4 315.2,118.0" fill="#c2601c"/><polygon points="318.7,114.6 320.2,118.0 321.7,121.4 317.7,118.0" fill="#f4a058"/><polygon points="318.7,114.6 322.7,118.0 321.7,121.4 320.2,118.0" fill="#c2601c"/><polygon points="323.6,114.6 325.1,118.0 326.6,121.4 322.6,118.0" fill="#f4a058"/><polygon points="323.6,114.6 327.6,118.0 326.6,121.4 325.1,118.0" fill="#c2601c"/><polygon points="328.5,114.6 330.0,118.0 331.5,121.4 327.5,118.0" fill="#f4a058"/><polygon points="328.5,114.6 332.5,118.0 331.5,121.4 330.0,118.0" fill="#c2601c"/><polygon points="333.4,114.6 334.9,118.0 336.4,121.4 332.4,118.0" fill="#f4a058"/><polygon points="333.4,114.6 337.4,118.0 336.4,121.4 334.9,118.0" fill="#c2601c"/><polygon points="338.2,114.6 339.8,118.0 341.2,121.4 337.2,118.0" fill="#f4a058"/><polygon points="338.2,114.6 342.2,118.0 341.2,121.4 339.8,118.0" fill="#c2601c"/><polygon points="343.2,114.6 344.7,118.0 346.2,121.4 342.2,118.0" fill="#f4a058"/><polygon points="343.2,114.6 347.2,118.0 346.2,121.4 344.7,118.0" fill="#c2601c"/><polygon points="348.1,114.6 349.6,118.0 351.1,121.4 347.1,118.0" fill="#f4a058"/><polygon points="348.1,114.6 352.1,118.0 351.1,121.4 349.6,118.0" fill="#c2601c"/><polygon points="353.0,114.6 354.5,118.0 356.0,121.4 352.0,118.0" fill="#f4a058"/><polygon points="353.0,114.6 357.0,118.0 356.0,121.4 354.5,118.0" fill="#c2601c"/><polygon points="357.9,114.6 359.4,118.0 360.9,121.4 356.9,118.0" fill="#f4a058"/><polygon points="357.9,114.6 361.9,118.0 360.9,121.4 359.4,118.0" fill="#c2601c"/><polygon points="362.8,114.6 364.2,118.0 365.8,121.4 361.8,118.0" fill="#f4a058"/><polygon points="362.8,114.6 366.8,118.0 365.8,121.4 364.2,118.0" fill="#c2601c"/><polygon points="367.7,114.6 369.2,118.0 370.7,121.4 366.7,118.0" fill="#f4a058"/><polygon points="367.7,114.6 371.7,118.0 370.7,121.4 369.2,118.0" fill="#c2601c"/><polygon points="372.6,114.6 374.1,118.0 375.6,121.4 371.6,118.0" fill="#f4a058"/><polygon points="372.6,114.6 376.6,118.0 375.6,121.4 374.1,118.0" fill="#c2601c"/><polygon points="377.5,114.6 379.0,118.0 380.5,121.4 376.5,118.0" fill="#f4a058"/><polygon points="377.5,114.6 381.5,118.0 380.5,121.4 379.0,118.0" fill="#c2601c"/><polygon points="382.4,114.6 383.9,118.0 385.4,121.4 381.4,118.0" fill="#f4a058"/><polygon points="382.4,114.6 386.4,118.0 385.4,121.4 383.9,118.0" fill="#c2601c"/><polygon points="387.2,114.6 388.8,118.0 390.2,121.4 386.2,118.0" fill="#f4a058"/><polygon points="387.2,114.6 391.2,118.0 390.2,121.4 388.8,118.0" fill="#c2601c"/><polygon points="392.2,114.6 393.7,118.0 395.2,121.4 391.2,118.0" fill="#f4a058"/><polygon points="392.2,114.6 396.2,118.0 395.2,121.4 393.7,118.0" fill="#c2601c"/><polygon points="397.1,114.6 398.6,118.0 400.1,121.4 396.1,118.0" fill="#f4a058"/><polygon points="397.1,114.6 401.1,118.0 400.1,121.4 398.6,118.0" fill="#c2601c"/><polygon points="306.7,120.7 308.2,124.1 309.7,127.5 305.7,124.1" fill="#f4a058"/><polygon points="306.7,120.7 310.7,124.1 309.7,127.5 308.2,124.1" fill="#c2601c"/><polygon points="311.6,120.7 313.1,124.1 314.6,127.5 310.6,124.1" fill="#f4a058"/><polygon points="311.6,120.7 315.6,124.1 314.6,127.5 313.1,124.1" fill="#c2601c"/><polygon points="316.5,120.7 318.0,124.1 319.5,127.5 315.5,124.1" fill="#f4a058"/><polygon points="316.5,120.7 320.5,124.1 319.5,127.5 318.0,124.1" fill="#c2601c"/><polygon points="321.4,120.7 322.9,124.1 324.4,127.5 320.4,124.1" fill="#f4a058"/><polygon points="321.4,120.7 325.4,124.1 324.4,127.5 322.9,124.1" fill="#c2601c"/><polygon points="326.3,120.7 327.8,124.1 329.3,127.5 325.3,124.1" fill="#f4a058"/><polygon points="326.3,120.7 330.3,124.1 329.3,127.5 327.8,124.1" fill="#c2601c"/><polygon points="331.2,120.7 332.7,124.1 334.2,127.5 330.2,124.1" fill="#f4a058"/><polygon points="331.2,120.7 335.2,124.1 334.2,127.5 332.7,124.1" fill="#c2601c"/><polygon points="336.1,120.7 337.6,124.1 339.1,127.5 335.1,124.1" fill="#f4a058"/><polygon points="336.1,120.7 340.1,124.1 339.1,127.5 337.6,124.1" fill="#c2601c"/><polygon points="341.0,120.7 342.5,124.1 344.0,127.5 340.0,124.1" fill="#f4a058"/><polygon points="341.0,120.7 345.0,124.1 344.0,127.5 342.5,124.1" fill="#c2601c"/><polygon points="345.9,120.7 347.4,124.1 348.9,127.5 344.9,124.1" fill="#f4a058"/><polygon points="345.9,120.7 349.9,124.1 348.9,127.5 347.4,124.1" fill="#c2601c"/><polygon points="350.8,120.7 352.3,124.1 353.8,127.5 349.8,124.1" fill="#f4a058"/><polygon points="350.8,120.7 354.8,124.1 353.8,127.5 352.3,124.1" fill="#c2601c"/><polygon points="355.7,120.7 357.2,124.1 358.7,127.5 354.7,124.1" fill="#f4a058"/><polygon points="355.7,120.7 359.7,124.1 358.7,127.5 357.2,124.1" fill="#c2601c"/><polygon points="360.6,120.7 362.1,124.1 363.6,127.5 359.6,124.1" fill="#f4a058"/><polygon points="360.6,120.7 364.6,124.1 363.6,127.5 362.1,124.1" fill="#c2601c"/><polygon points="365.5,120.7 367.0,124.1 368.5,127.5 364.5,124.1" fill="#f4a058"/><polygon points="365.5,120.7 369.5,124.1 368.5,127.5 367.0,124.1" fill="#c2601c"/><polygon points="370.4,120.7 371.9,124.1 373.4,127.5 369.4,124.1" fill="#f4a058"/><polygon points="370.4,120.7 374.4,124.1 373.4,127.5 371.9,124.1" fill="#c2601c"/><polygon points="375.3,120.7 376.8,124.1 378.3,127.5 374.3,124.1" fill="#f4a058"/><polygon points="375.3,120.7 379.3,124.1 378.3,127.5 376.8,124.1" fill="#c2601c"/><polygon points="380.2,120.7 381.7,124.1 383.2,127.5 379.2,124.1" fill="#f4a058"/><polygon points="380.2,120.7 384.2,124.1 383.2,127.5 381.7,124.1" fill="#c2601c"/><polygon points="385.1,120.7 386.6,124.1 388.1,127.5 384.1,124.1" fill="#f4a058"/><polygon points="385.1,120.7 389.1,124.1 388.1,127.5 386.6,124.1" fill="#c2601c"/><polygon points="390.0,120.7 391.5,124.1 393.0,127.5 389.0,124.1" fill="#f4a058"/><polygon points="390.0,120.7 394.0,124.1 393.0,127.5 391.5,124.1" fill="#c2601c"/><polygon points="394.9,120.7 396.4,124.1 397.9,127.5 393.9,124.1" fill="#f4a058"/><polygon points="394.9,120.7 398.9,124.1 397.9,127.5 396.4,124.1" fill="#c2601c"/><polygon points="399.8,120.7 401.3,124.1 402.8,127.5 398.8,124.1" fill="#f4a058"/><polygon points="399.8,120.7 403.8,124.1 402.8,127.5 401.3,124.1" fill="#c2601c"/><polygon points="309.4,126.8 310.9,130.2 312.4,133.6 308.4,130.2" fill="#f4a058"/><polygon points="309.4,126.8 313.4,130.2 312.4,133.6 310.9,130.2" fill="#c2601c"/><polygon points="314.3,126.8 315.8,130.2 317.3,133.6 313.3,130.2" fill="#f4a058"/><polygon points="314.3,126.8 318.3,130.2 317.3,133.6 315.8,130.2" fill="#c2601c"/><polygon points="319.2,126.8 320.7,130.2 322.2,133.6 318.2,130.2" fill="#f4a058"/><polygon points="319.2,126.8 323.2,130.2 322.2,133.6 320.7,130.2" fill="#c2601c"/><polygon points="324.1,126.8 325.6,130.2 327.1,133.6 323.1,130.2" fill="#f4a058"/><polygon points="324.1,126.8 328.1,130.2 327.1,133.6 325.6,130.2" fill="#c2601c"/><polygon points="329.0,126.8 330.5,130.2 332.0,133.6 328.0,130.2" fill="#f4a058"/><polygon points="329.0,126.8 333.0,130.2 332.0,133.6 330.5,130.2" fill="#c2601c"/><polygon points="333.9,126.8 335.4,130.2 336.9,133.6 332.9,130.2" fill="#f4a058"/><polygon points="333.9,126.8 337.9,130.2 336.9,133.6 335.4,130.2" fill="#c2601c"/><polygon points="338.8,126.8 340.3,130.2 341.8,133.6 337.8,130.2" fill="#f4a058"/><polygon points="338.8,126.8 342.8,130.2 341.8,133.6 340.3,130.2" fill="#c2601c"/><polygon points="343.7,126.8 345.2,130.2 346.7,133.6 342.7,130.2" fill="#f4a058"/><polygon points="343.7,126.8 347.7,130.2 346.7,133.6 345.2,130.2" fill="#c2601c"/><polygon points="348.6,126.8 350.1,130.2 351.6,133.6 347.6,130.2" fill="#f4a058"/><polygon points="348.6,126.8 352.6,130.2 351.6,133.6 350.1,130.2" fill="#c2601c"/><polygon points="353.5,126.8 355.0,130.2 356.5,133.6 352.5,130.2" fill="#f4a058"/><polygon points="353.5,126.8 357.5,130.2 356.5,133.6 355.0,130.2" fill="#c2601c"/><polygon points="358.4,126.8 359.9,130.2 361.4,133.6 357.4,130.2" fill="#f4a058"/><polygon points="358.4,126.8 362.4,130.2 361.4,133.6 359.9,130.2" fill="#c2601c"/><polygon points="363.3,126.8 364.8,130.2 366.3,133.6 362.3,130.2" fill="#f4a058"/><polygon points="363.3,126.8 367.3,130.2 366.3,133.6 364.8,130.2" fill="#c2601c"/><polygon points="368.2,126.8 369.7,130.2 371.2,133.6 367.2,130.2" fill="#f4a058"/><polygon points="368.2,126.8 372.2,130.2 371.2,133.6 369.7,130.2" fill="#c2601c"/><polygon points="373.1,126.8 374.6,130.2 376.1,133.6 372.1,130.2" fill="#f4a058"/><polygon points="373.1,126.8 377.1,130.2 376.1,133.6 374.6,130.2" fill="#c2601c"/><polygon points="378.0,126.8 379.5,130.2 381.0,133.6 377.0,130.2" fill="#f4a058"/><polygon points="378.0,126.8 382.0,130.2 381.0,133.6 379.5,130.2" fill="#c2601c"/><polygon points="382.9,126.8 384.4,130.2 385.9,133.6 381.9,130.2" fill="#f4a058"/><polygon points="382.9,126.8 386.9,130.2 385.9,133.6 384.4,130.2" fill="#c2601c"/><polygon points="387.8,126.8 389.3,130.2 390.8,133.6 386.8,130.2" fill="#f4a058"/><polygon points="387.8,126.8 391.8,130.2 390.8,133.6 389.3,130.2" fill="#c2601c"/><polygon points="392.7,126.8 394.2,130.2 395.7,133.6 391.7,130.2" fill="#f4a058"/><polygon points="392.7,126.8 396.7,130.2 395.7,133.6 394.2,130.2" fill="#c2601c"/><polygon points="397.6,126.8 399.1,130.2 400.6,133.6 396.6,130.2" fill="#f4a058"/><polygon points="397.6,126.8 401.6,130.2 400.6,133.6 399.1,130.2" fill="#c2601c"/><polygon points="402.5,126.8 404.0,130.2 405.5,133.6 401.5,130.2" fill="#f4a058"/><polygon points="402.5,126.8 406.5,130.2 405.5,133.6 404.0,130.2" fill="#c2601c"/><polygon points="312.2,132.9 313.7,136.3 315.2,139.7 311.2,136.3" fill="#f4a058"/><polygon points="312.2,132.9 316.2,136.3 315.2,139.7 313.7,136.3" fill="#c2601c"/><polygon points="317.1,132.9 318.6,136.3 320.1,139.7 316.1,136.3" fill="#f4a058"/><polygon points="317.1,132.9 321.1,136.3 320.1,139.7 318.6,136.3" fill="#c2601c"/><polygon points="322.0,132.9 323.5,136.3 325.0,139.7 321.0,136.3" fill="#f4a058"/><polygon points="322.0,132.9 326.0,136.3 325.0,139.7 323.5,136.3" fill="#c2601c"/><polygon points="326.9,132.9 328.4,136.3 329.9,139.7 325.9,136.3" fill="#f4a058"/><polygon points="326.9,132.9 330.9,136.3 329.9,139.7 328.4,136.3" fill="#c2601c"/><polygon points="331.8,132.9 333.3,136.3 334.8,139.7 330.8,136.3" fill="#f4a058"/><polygon points="331.8,132.9 335.8,136.3 334.8,139.7 333.3,136.3" fill="#c2601c"/><polygon points="336.7,132.9 338.2,136.3 339.7,139.7 335.7,136.3" fill="#f4a058"/><polygon points="336.7,132.9 340.7,136.3 339.7,139.7 338.2,136.3" fill="#c2601c"/><polygon points="341.6,132.9 343.1,136.3 344.6,139.7 340.6,136.3" fill="#f4a058"/><polygon points="341.6,132.9 345.6,136.3 344.6,139.7 343.1,136.3" fill="#c2601c"/><polygon points="346.5,132.9 348.0,136.3 349.5,139.7 345.5,136.3" fill="#f4a058"/><polygon points="346.5,132.9 350.5,136.3 349.5,139.7 348.0,136.3" fill="#c2601c"/><polygon points="351.4,132.9 352.9,136.3 354.4,139.7 350.4,136.3" fill="#f4a058"/><polygon points="351.4,132.9 355.4,136.3 354.4,139.7 352.9,136.3" fill="#c2601c"/><polygon points="356.3,132.9 357.8,136.3 359.3,139.7 355.3,136.3" fill="#f4a058"/><polygon points="356.3,132.9 360.3,136.3 359.3,139.7 357.8,136.3" fill="#c2601c"/><polygon points="361.2,132.9 362.7,136.3 364.2,139.7 360.2,136.3" fill="#f4a058"/><polygon points="361.2,132.9 365.2,136.3 364.2,139.7 362.7,136.3" fill="#c2601c"/><polygon points="366.1,132.9 367.6,136.3 369.1,139.7 365.1,136.3" fill="#f4a058"/><polygon points="366.1,132.9 370.1,136.3 369.1,139.7 367.6,136.3" fill="#c2601c"/><polygon points="371.0,132.9 372.5,136.3 374.0,139.7 370.0,136.3" fill="#f4a058"/><polygon points="371.0,132.9 375.0,136.3 374.0,139.7 372.5,136.3" fill="#c2601c"/><polygon points="375.9,132.9 377.4,136.3 378.9,139.7 374.9,136.3" fill="#f4a058"/><polygon points="375.9,132.9 379.9,136.3 378.9,139.7 377.4,136.3" fill="#c2601c"/><polygon points="380.8,132.9 382.3,136.3 383.8,139.7 379.8,136.3" fill="#f4a058"/><polygon points="380.8,132.9 384.8,136.3 383.8,139.7 382.3,136.3" fill="#c2601c"/><polygon points="385.7,132.9 387.2,136.3 388.7,139.7 384.7,136.3" fill="#f4a058"/><polygon points="385.7,132.9 389.7,136.3 388.7,139.7 387.2,136.3" fill="#c2601c"/><polygon points="390.6,132.9 392.1,136.3 393.6,139.7 389.6,136.3" fill="#f4a058"/><polygon points="390.6,132.9 394.6,136.3 393.6,139.7 392.1,136.3" fill="#c2601c"/><polygon points="395.5,132.9 397.0,136.3 398.5,139.7 394.5,136.3" fill="#f4a058"/><polygon points="395.5,132.9 399.5,136.3 398.5,139.7 397.0,136.3" fill="#c2601c"/><polygon points="400.4,132.9 401.9,136.3 403.4,139.7 399.4,136.3" fill="#f4a058"/><polygon points="400.4,132.9 404.4,136.3 403.4,139.7 401.9,136.3" fill="#c2601c"/><polygon points="405.3,132.9 406.8,136.3 408.3,139.7 404.3,136.3" fill="#f4a058"/><polygon points="405.3,132.9 409.3,136.3 408.3,139.7 406.8,136.3" fill="#c2601c"/><polygon points="314.9,139.0 316.4,142.4 317.9,145.8 313.9,142.4" fill="#f4a058"/><polygon points="314.9,139.0 318.9,142.4 317.9,145.8 316.4,142.4" fill="#c2601c"/><polygon points="319.8,139.0 321.3,142.4 322.8,145.8 318.8,142.4" fill="#f4a058"/><polygon points="319.8,139.0 323.8,142.4 322.8,145.8 321.3,142.4" fill="#c2601c"/><polygon points="324.7,139.0 326.2,142.4 327.7,145.8 323.7,142.4" fill="#f4a058"/><polygon points="324.7,139.0 328.7,142.4 327.7,145.8 326.2,142.4" fill="#c2601c"/><polygon points="329.6,139.0 331.1,142.4 332.6,145.8 328.6,142.4" fill="#f4a058"/><polygon points="329.6,139.0 333.6,142.4 332.6,145.8 331.1,142.4" fill="#c2601c"/><polygon points="334.5,139.0 336.0,142.4 337.5,145.8 333.5,142.4" fill="#f4a058"/><polygon points="334.5,139.0 338.5,142.4 337.5,145.8 336.0,142.4" fill="#c2601c"/><polygon points="339.4,139.0 340.9,142.4 342.4,145.8 338.4,142.4" fill="#f4a058"/><polygon points="339.4,139.0 343.4,142.4 342.4,145.8 340.9,142.4" fill="#c2601c"/><polygon points="344.3,139.0 345.8,142.4 347.3,145.8 343.3,142.4" fill="#f4a058"/><polygon points="344.3,139.0 348.3,142.4 347.3,145.8 345.8,142.4" fill="#c2601c"/><polygon points="349.2,139.0 350.7,142.4 352.2,145.8 348.2,142.4" fill="#f4a058"/><polygon points="349.2,139.0 353.2,142.4 352.2,145.8 350.7,142.4" fill="#c2601c"/><polygon points="354.1,139.0 355.6,142.4 357.1,145.8 353.1,142.4" fill="#f4a058"/><polygon points="354.1,139.0 358.1,142.4 357.1,145.8 355.6,142.4" fill="#c2601c"/><polygon points="359.0,139.0 360.5,142.4 362.0,145.8 358.0,142.4" fill="#f4a058"/><polygon points="359.0,139.0 363.0,142.4 362.0,145.8 360.5,142.4" fill="#c2601c"/><polygon points="363.9,139.0 365.4,142.4 366.9,145.8 362.9,142.4" fill="#f4a058"/><polygon points="363.9,139.0 367.9,142.4 366.9,145.8 365.4,142.4" fill="#c2601c"/><polygon points="368.8,139.0 370.3,142.4 371.8,145.8 367.8,142.4" fill="#f4a058"/><polygon points="368.8,139.0 372.8,142.4 371.8,145.8 370.3,142.4" fill="#c2601c"/><polygon points="373.7,139.0 375.2,142.4 376.7,145.8 372.7,142.4" fill="#f4a058"/><polygon points="373.7,139.0 377.7,142.4 376.7,145.8 375.2,142.4" fill="#c2601c"/><polygon points="378.6,139.0 380.1,142.4 381.6,145.8 377.6,142.4" fill="#f4a058"/><polygon points="378.6,139.0 382.6,142.4 381.6,145.8 380.1,142.4" fill="#c2601c"/><polygon points="383.5,139.0 385.0,142.4 386.5,145.8 382.5,142.4" fill="#f4a058"/><polygon points="383.5,139.0 387.5,142.4 386.5,145.8 385.0,142.4" fill="#c2601c"/><polygon points="388.4,139.0 389.9,142.4 391.4,145.8 387.4,142.4" fill="#f4a058"/><polygon points="388.4,139.0 392.4,142.4 391.4,145.8 389.9,142.4" fill="#c2601c"/><polygon points="393.3,139.0 394.8,142.4 396.3,145.8 392.3,142.4" fill="#f4a058"/><polygon points="393.3,139.0 397.3,142.4 396.3,145.8 394.8,142.4" fill="#c2601c"/><polygon points="398.2,139.0 399.7,142.4 401.2,145.8 397.2,142.4" fill="#f4a058"/><polygon points="398.2,139.0 402.2,142.4 401.2,145.8 399.7,142.4" fill="#c2601c"/><polygon points="403.1,139.0 404.6,142.4 406.1,145.8 402.1,142.4" fill="#f4a058"/><polygon points="403.1,139.0 407.1,142.4 406.1,145.8 404.6,142.4" fill="#c2601c"/><polygon points="408.0,139.0 409.5,142.4 411.0,145.8 407.0,142.4" fill="#f4a058"/><polygon points="408.0,139.0 412.0,142.4 411.0,145.8 409.5,142.4" fill="#c2601c"/><circle cx="314.2" cy="121.0" r="1.05" fill="#d4dc98"/><circle cx="319.1" cy="121.0" r="1.05" fill="#d4dc98"/><circle cx="324.0" cy="121.0" r="1.05" fill="#d4dc98"/><circle cx="328.9" cy="121.0" r="1.05" fill="#d4dc98"/><circle cx="333.8" cy="121.0" r="1.05" fill="#d4dc98"/><circle cx="338.7" cy="121.0" r="1.05" fill="#d4dc98"/><circle cx="343.6" cy="121.0" r="1.05" fill="#d4dc98"/><circle cx="348.5" cy="121.0" r="1.05" fill="#d4dc98"/><circle cx="353.4" cy="121.0" r="1.05" fill="#d4dc98"/><circle cx="358.3" cy="121.0" r="1.05" fill="#d4dc98"/><circle cx="363.2" cy="121.0" r="1.05" fill="#d4dc98"/><circle cx="368.1" cy="121.0" r="1.05" fill="#d4dc98"/><circle cx="373.0" cy="121.0" r="1.05" fill="#d4dc98"/><circle cx="377.9" cy="121.0" r="1.05" fill="#d4dc98"/><circle cx="382.8" cy="121.0" r="1.05" fill="#d4dc98"/><circle cx="387.7" cy="121.0" r="1.05" fill="#d4dc98"/><circle cx="392.6" cy="121.0" r="1.05" fill="#d4dc98"/><circle cx="397.5" cy="121.0" r="1.05" fill="#d4dc98"/><circle cx="316.9" cy="127.1" r="1.05" fill="#d4dc98"/><circle cx="321.8" cy="127.1" r="1.05" fill="#d4dc98"/><circle cx="326.7" cy="127.1" r="1.05" fill="#d4dc98"/><circle cx="331.6" cy="127.1" r="1.05" fill="#d4dc98"/><circle cx="336.5" cy="127.1" r="1.05" fill="#d4dc98"/><circle cx="341.4" cy="127.1" r="1.05" fill="#d4dc98"/><circle cx="346.3" cy="127.1" r="1.05" fill="#d4dc98"/><circle cx="351.2" cy="127.1" r="1.05" fill="#d4dc98"/><circle cx="356.1" cy="127.1" r="1.05" fill="#d4dc98"/><circle cx="361.0" cy="127.1" r="1.05" fill="#d4dc98"/><circle cx="365.9" cy="127.1" r="1.05" fill="#d4dc98"/><circle cx="370.8" cy="127.1" r="1.05" fill="#d4dc98"/><circle cx="375.7" cy="127.1" r="1.05" fill="#d4dc98"/><circle cx="380.6" cy="127.1" r="1.05" fill="#d4dc98"/><circle cx="385.5" cy="127.1" r="1.05" fill="#d4dc98"/><circle cx="390.4" cy="127.1" r="1.05" fill="#d4dc98"/><circle cx="395.3" cy="127.1" r="1.05" fill="#d4dc98"/><circle cx="400.2" cy="127.1" r="1.05" fill="#d4dc98"/><circle cx="319.7" cy="133.2" r="1.05" fill="#d4dc98"/><circle cx="324.6" cy="133.2" r="1.05" fill="#d4dc98"/><circle cx="329.5" cy="133.2" r="1.05" fill="#d4dc98"/><circle cx="334.4" cy="133.2" r="1.05" fill="#d4dc98"/><circle cx="339.3" cy="133.2" r="1.05" fill="#d4dc98"/><circle cx="344.2" cy="133.2" r="1.05" fill="#d4dc98"/><circle cx="349.1" cy="133.2" r="1.05" fill="#d4dc98"/><circle cx="354.0" cy="133.2" r="1.05" fill="#d4dc98"/><circle cx="358.9" cy="133.2" r="1.05" fill="#d4dc98"/><circle cx="363.8" cy="133.2" r="1.05" fill="#d4dc98"/><circle cx="368.7" cy="133.2" r="1.05" fill="#d4dc98"/><circle cx="373.6" cy="133.2" r="1.05" fill="#d4dc98"/><circle cx="378.5" cy="133.2" r="1.05" fill="#d4dc98"/><circle cx="383.4" cy="133.2" r="1.05" fill="#d4dc98"/><circle cx="388.3" cy="133.2" r="1.05" fill="#d4dc98"/><circle cx="393.2" cy="133.2" r="1.05" fill="#d4dc98"/><circle cx="398.1" cy="133.2" r="1.05" fill="#d4dc98"/><circle cx="403.0" cy="133.2" r="1.05" fill="#d4dc98"/><circle cx="322.4" cy="139.4" r="1.05" fill="#d4dc98"/><circle cx="327.3" cy="139.4" r="1.05" fill="#d4dc98"/><circle cx="332.2" cy="139.4" r="1.05" fill="#d4dc98"/><circle cx="337.1" cy="139.4" r="1.05" fill="#d4dc98"/><circle cx="342.0" cy="139.4" r="1.05" fill="#d4dc98"/><circle cx="346.9" cy="139.4" r="1.05" fill="#d4dc98"/><circle cx="351.8" cy="139.4" r="1.05" fill="#d4dc98"/><circle cx="356.7" cy="139.4" r="1.05" fill="#d4dc98"/><circle cx="361.6" cy="139.4" r="1.05" fill="#d4dc98"/><circle cx="366.5" cy="139.4" r="1.05" fill="#d4dc98"/><circle cx="371.4" cy="139.4" r="1.05" fill="#d4dc98"/><circle cx="376.3" cy="139.4" r="1.05" fill="#d4dc98"/><circle cx="381.2" cy="139.4" r="1.05" fill="#d4dc98"/><circle cx="386.1" cy="139.4" r="1.05" fill="#d4dc98"/><circle cx="391.0" cy="139.4" r="1.05" fill="#d4dc98"/><circle cx="395.9" cy="139.4" r="1.05" fill="#d4dc98"/><circle cx="400.8" cy="139.4" r="1.05" fill="#d4dc98"/><circle cx="405.7" cy="139.4" r="1.05" fill="#d4dc98"/></g>
<circle cx="343.00" cy="118.90" r="1.55" fill="#48c6ee" stroke="#bff0ff" stroke-width="0.5"/>
<circle cx="356.40" cy="119.70" r="1.55" fill="#48c6ee" stroke="#bff0ff" stroke-width="0.5"/>
<circle cx="342.00" cy="125.30" r="1.55" fill="#48c6ee" stroke="#bff0ff" stroke-width="0.5"/>
<circle cx="375.70" cy="124.10" r="1.55" fill="#48c6ee" stroke="#bff0ff" stroke-width="0.5"/>
<circle cx="389.10" cy="126.70" r="1.55" fill="#48c6ee" stroke="#bff0ff" stroke-width="0.5"/>
<circle cx="356.40" cy="131.30" r="1.55" fill="#48c6ee" stroke="#bff0ff" stroke-width="0.5"/>
<circle cx="356.40" cy="136.50" r="1.55" fill="#48c6ee" stroke="#bff0ff" stroke-width="0.5"/>
<circle cx="338.50" cy="140.20" r="1.55" fill="#48c6ee" stroke="#bff0ff" stroke-width="0.5"/>
<circle cx="368.70" cy="141.30" r="1.55" fill="#48c6ee" stroke="#bff0ff" stroke-width="0.5"/>
<circle cx="392.60" cy="139.30" r="1.55" fill="#48c6ee" stroke="#bff0ff" stroke-width="0.5"/>
<circle cx="331.50" cy="144.20" r="1.55" fill="#48c6ee" stroke="#bff0ff" stroke-width="0.5"/>
<rect x="338" y="149.6" width="71.5" height="4.2" fill="#ececec" />
<text x="364.5" y="157.2" font-family="Liberation Sans" font-size="8.6" font-weight="bold" fill="#111" text-anchor="middle" textLength="52.2" lengthAdjust="spacingAndGlyphs" stroke="#111" stroke-width="0.28" >CoXPc@CABB</text>
<g clip-path="url(#cclip)"><line x1="500.3" y1="51.5" x2="536.5" y2="122.6" stroke="#a6cae4" stroke-width="2.2" opacity="0.4" stroke-linecap="round"/><line x1="489.5" y1="59.3" x2="525.7" y2="130.4" stroke="#c07070" stroke-width="2.2" opacity="0.4" stroke-linecap="round"/><line x1="478.7" y1="67.0" x2="514.9" y2="138.1" stroke="#a6cae4" stroke-width="2.2" opacity="0.4" stroke-linecap="round"/><line x1="467.9" y1="74.8" x2="504.1" y2="145.9" stroke="#c07070" stroke-width="2.2" opacity="0.4" stroke-linecap="round"/><line x1="457.1" y1="82.6" x2="493.3" y2="153.7" stroke="#a6cae4" stroke-width="2.2" opacity="0.4" stroke-linecap="round"/><line x1="446.3" y1="90.3" x2="482.5" y2="161.4" stroke="#c07070" stroke-width="2.2" opacity="0.4" stroke-linecap="round"/><line x1="500.3" y1="51.5" x2="446.3" y2="90.3" stroke="#c07070" stroke-width="2.2" opacity="0.4" stroke-linecap="round"/><line x1="506.3" y1="63.4" x2="452.3" y2="102.2" stroke="#9a5cc4" stroke-width="2.2" opacity="0.4" stroke-linecap="round"/><line x1="512.4" y1="75.2" x2="458.4" y2="114.0" stroke="#c07070" stroke-width="2.2" opacity="0.4" stroke-linecap="round"/><line x1="518.4" y1="87.1" x2="464.4" y2="125.9" stroke="#9a5cc4" stroke-width="2.2" opacity="0.4" stroke-linecap="round"/><line x1="524.5" y1="98.9" x2="470.5" y2="137.7" stroke="#c07070" stroke-width="2.2" opacity="0.4" stroke-linecap="round"/><line x1="530.5" y1="110.8" x2="476.5" y2="149.6" stroke="#9a5cc4" stroke-width="2.2" opacity="0.4" stroke-linecap="round"/><line x1="536.5" y1="122.6" x2="482.5" y2="161.4" stroke="#c07070" stroke-width="2.2" opacity="0.4" stroke-linecap="round"/><circle cx="494.9" cy="55.4" r="2.3" fill="url(#bR)" opacity="0.4"/><circle cx="484.1" cy="63.2" r="2.3" fill="url(#bR)" opacity="0.4"/><circle cx="492.5" cy="65.2" r="2.3" fill="url(#bR)" opacity="0.4"/><circle cx="473.3" cy="70.9" r="2.3" fill="url(#bR)" opacity="0.4"/><circle cx="462.5" cy="78.7" r="2.3" fill="url(#bR)" opacity="0.4"/><circle cx="470.9" cy="80.7" r="2.3" fill="url(#bR)" opacity="0.4"/><circle cx="451.7" cy="86.5" r="2.3" fill="url(#bR)" opacity="0.4"/><circle cx="449.3" cy="96.3" r="2.3" fill="url(#bR)" opacity="0.4"/><circle cx="500.9" cy="67.2" r="2.3" fill="url(#bR)" opacity="0.4"/><circle cx="490.1" cy="75.0" r="2.3" fill="url(#bR)" opacity="0.4"/><circle cx="498.6" cy="77.0" r="2.3" fill="url(#bR)" opacity="0.4"/><circle cx="479.3" cy="82.8" r="2.3" fill="url(#bR)" opacity="0.4"/><circle cx="468.5" cy="90.5" r="2.3" fill="url(#bR)" opacity="0.4"/><circle cx="477.0" cy="92.6" r="2.3" fill="url(#bR)" opacity="0.4"/><circle cx="457.7" cy="98.3" r="2.3" fill="url(#bR)" opacity="0.4"/><circle cx="455.4" cy="108.1" r="2.3" fill="url(#bR)" opacity="0.4"/><circle cx="507.0" cy="79.1" r="2.3" fill="url(#bR)" opacity="0.4"/><circle cx="496.2" cy="86.9" r="2.3" fill="url(#bR)" opacity="0.4"/><circle cx="504.6" cy="88.9" r="2.3" fill="url(#bR)" opacity="0.4"/><circle cx="485.4" cy="94.6" r="2.3" fill="url(#bR)" opacity="0.4"/><circle cx="474.6" cy="102.4" r="2.3" fill="url(#bR)" opacity="0.4"/><circle cx="483.0" cy="104.4" r="2.3" fill="url(#bR)" opacity="0.4"/><circle cx="463.8" cy="110.2" r="2.3" fill="url(#bR)" opacity="0.4"/><circle cx="461.4" cy="120.0" r="2.3" fill="url(#bR)" opacity="0.4"/><circle cx="513.0" cy="90.9" r="2.3" fill="url(#bR)" opacity="0.4"/><circle cx="502.2" cy="98.7" r="2.3" fill="url(#bR)" opacity="0.4"/><circle cx="510.6" cy="100.7" r="2.3" fill="url(#bR)" opacity="0.4"/><circle cx="491.4" cy="106.5" r="2.3" fill="url(#bR)" opacity="0.4"/><circle cx="480.6" cy="114.2" r="2.3" fill="url(#bR)" opacity="0.4"/><circle cx="489.0" cy="116.3" r="2.3" fill="url(#bR)" opacity="0.4"/><circle cx="469.8" cy="122.0" r="2.3" fill="url(#bR)" opacity="0.4"/><circle cx="467.4" cy="131.8" r="2.3" fill="url(#bR)" opacity="0.4"/><circle cx="519.1" cy="102.8" r="2.3" fill="url(#bR)" opacity="0.4"/><circle cx="508.3" cy="110.6" r="2.3" fill="url(#bR)" opacity="0.4"/><circle cx="516.7" cy="112.6" r="2.3" fill="url(#bR)" opacity="0.4"/><circle cx="497.5" cy="118.3" r="2.3" fill="url(#bR)" opacity="0.4"/><circle cx="486.7" cy="126.1" r="2.3" fill="url(#bR)" opacity="0.4"/><circle cx="495.1" cy="128.1" r="2.3" fill="url(#bR)" opacity="0.4"/><circle cx="475.9" cy="133.9" r="2.3" fill="url(#bR)" opacity="0.4"/><circle cx="473.5" cy="143.7" r="2.3" fill="url(#bR)" opacity="0.4"/><circle cx="525.1" cy="114.6" r="2.3" fill="url(#bR)" opacity="0.4"/><circle cx="514.3" cy="122.4" r="2.3" fill="url(#bR)" opacity="0.4"/><circle cx="522.7" cy="124.4" r="2.3" fill="url(#bR)" opacity="0.4"/><circle cx="503.5" cy="130.2" r="2.3" fill="url(#bR)" opacity="0.4"/><circle cx="492.7" cy="137.9" r="2.3" fill="url(#bR)" opacity="0.4"/><circle cx="501.1" cy="140.0" r="2.3" fill="url(#bR)" opacity="0.4"/><circle cx="481.9" cy="145.7" r="2.3" fill="url(#bR)" opacity="0.4"/><circle cx="479.5" cy="155.5" r="2.3" fill="url(#bR)" opacity="0.4"/><circle cx="531.1" cy="126.5" r="2.3" fill="url(#bR)" opacity="0.4"/><circle cx="520.3" cy="134.3" r="2.3" fill="url(#bR)" opacity="0.4"/><circle cx="509.5" cy="142.0" r="2.3" fill="url(#bR)" opacity="0.4"/><circle cx="498.7" cy="149.8" r="2.3" fill="url(#bR)" opacity="0.4"/><circle cx="487.9" cy="157.6" r="2.3" fill="url(#bR)" opacity="0.4"/><line x1="505.8" y1="45.5" x2="542.0" y2="116.6" stroke="#a6cae4" stroke-width="2.2" opacity="1.0" stroke-linecap="round"/><line x1="495.0" y1="53.3" x2="531.2" y2="124.4" stroke="#c07070" stroke-width="2.2" opacity="1.0" stroke-linecap="round"/><line x1="484.2" y1="61.0" x2="520.4" y2="132.1" stroke="#a6cae4" stroke-width="2.2" opacity="1.0" stroke-linecap="round"/><line x1="473.4" y1="68.8" x2="509.6" y2="139.9" stroke="#c07070" stroke-width="2.2" opacity="1.0" stroke-linecap="round"/><line x1="462.6" y1="76.6" x2="498.8" y2="147.7" stroke="#a6cae4" stroke-width="2.2" opacity="1.0" stroke-linecap="round"/><line x1="451.8" y1="84.3" x2="488.0" y2="155.4" stroke="#c07070" stroke-width="2.2" opacity="1.0" stroke-linecap="round"/><line x1="505.8" y1="45.5" x2="451.8" y2="84.3" stroke="#c07070" stroke-width="2.2" opacity="1.0" stroke-linecap="round"/><line x1="511.8" y1="57.4" x2="457.8" y2="96.2" stroke="#9a5cc4" stroke-width="2.2" opacity="1.0" stroke-linecap="round"/><line x1="517.9" y1="69.2" x2="463.9" y2="108.0" stroke="#c07070" stroke-width="2.2" opacity="1.0" stroke-linecap="round"/><line x1="523.9" y1="81.1" x2="469.9" y2="119.9" stroke="#9a5cc4" stroke-width="2.2" opacity="1.0" stroke-linecap="round"/><line x1="530.0" y1="92.9" x2="476.0" y2="131.7" stroke="#c07070" stroke-width="2.2" opacity="1.0" stroke-linecap="round"/><line x1="536.0" y1="104.8" x2="482.0" y2="143.6" stroke="#9a5cc4" stroke-width="2.2" opacity="1.0" stroke-linecap="round"/><line x1="542.0" y1="116.6" x2="488.0" y2="155.4" stroke="#c07070" stroke-width="2.2" opacity="1.0" stroke-linecap="round"/><circle cx="500.4" cy="49.4" r="2.3" fill="url(#bR)" opacity="1.0"/><circle cx="489.6" cy="57.2" r="2.3" fill="url(#bR)" opacity="1.0"/><circle cx="498.0" cy="59.2" r="2.3" fill="url(#bR)" opacity="1.0"/><circle cx="478.8" cy="64.9" r="2.3" fill="url(#bR)" opacity="1.0"/><circle cx="468.0" cy="72.7" r="2.3" fill="url(#bR)" opacity="1.0"/><circle cx="476.4" cy="74.7" r="2.3" fill="url(#bR)" opacity="1.0"/><circle cx="457.2" cy="80.5" r="2.3" fill="url(#bR)" opacity="1.0"/><circle cx="454.8" cy="90.3" r="2.3" fill="url(#bR)" opacity="1.0"/><circle cx="506.4" cy="61.2" r="2.3" fill="url(#bR)" opacity="1.0"/><circle cx="495.6" cy="69.0" r="2.3" fill="url(#bR)" opacity="1.0"/><circle cx="504.1" cy="71.0" r="2.3" fill="url(#bR)" opacity="1.0"/><circle cx="484.8" cy="76.8" r="2.3" fill="url(#bR)" opacity="1.0"/><circle cx="474.0" cy="84.5" r="2.3" fill="url(#bR)" opacity="1.0"/><circle cx="482.5" cy="86.6" r="2.3" fill="url(#bR)" opacity="1.0"/><circle cx="463.2" cy="92.3" r="2.3" fill="url(#bR)" opacity="1.0"/><circle cx="460.9" cy="102.1" r="2.3" fill="url(#bR)" opacity="1.0"/><circle cx="512.5" cy="73.1" r="2.3" fill="url(#bR)" opacity="1.0"/><circle cx="501.7" cy="80.9" r="2.3" fill="url(#bR)" opacity="1.0"/><circle cx="510.1" cy="82.9" r="2.3" fill="url(#bR)" opacity="1.0"/><circle cx="490.9" cy="88.6" r="2.3" fill="url(#bR)" opacity="1.0"/><circle cx="480.1" cy="96.4" r="2.3" fill="url(#bR)" opacity="1.0"/><circle cx="488.5" cy="98.4" r="2.3" fill="url(#bR)" opacity="1.0"/><circle cx="469.3" cy="104.2" r="2.3" fill="url(#bR)" opacity="1.0"/><circle cx="466.9" cy="114.0" r="2.3" fill="url(#bR)" opacity="1.0"/><circle cx="518.5" cy="84.9" r="2.3" fill="url(#bR)" opacity="1.0"/><circle cx="507.7" cy="92.7" r="2.3" fill="url(#bR)" opacity="1.0"/><circle cx="516.1" cy="94.7" r="2.3" fill="url(#bR)" opacity="1.0"/><circle cx="496.9" cy="100.5" r="2.3" fill="url(#bR)" opacity="1.0"/><circle cx="486.1" cy="108.2" r="2.3" fill="url(#bR)" opacity="1.0"/><circle cx="494.5" cy="110.3" r="2.3" fill="url(#bR)" opacity="1.0"/><circle cx="475.3" cy="116.0" r="2.3" fill="url(#bR)" opacity="1.0"/><circle cx="472.9" cy="125.8" r="2.3" fill="url(#bR)" opacity="1.0"/><circle cx="524.6" cy="96.8" r="2.3" fill="url(#bR)" opacity="1.0"/><circle cx="513.8" cy="104.6" r="2.3" fill="url(#bR)" opacity="1.0"/><circle cx="522.2" cy="106.6" r="2.3" fill="url(#bR)" opacity="1.0"/><circle cx="503.0" cy="112.3" r="2.3" fill="url(#bR)" opacity="1.0"/><circle cx="492.2" cy="120.1" r="2.3" fill="url(#bR)" opacity="1.0"/><circle cx="500.6" cy="122.1" r="2.3" fill="url(#bR)" opacity="1.0"/><circle cx="481.4" cy="127.9" r="2.3" fill="url(#bR)" opacity="1.0"/><circle cx="479.0" cy="137.7" r="2.3" fill="url(#bR)" opacity="1.0"/><circle cx="530.6" cy="108.6" r="2.3" fill="url(#bR)" opacity="1.0"/><circle cx="519.8" cy="116.4" r="2.3" fill="url(#bR)" opacity="1.0"/><circle cx="528.2" cy="118.4" r="2.3" fill="url(#bR)" opacity="1.0"/><circle cx="509.0" cy="124.2" r="2.3" fill="url(#bR)" opacity="1.0"/><circle cx="498.2" cy="131.9" r="2.3" fill="url(#bR)" opacity="1.0"/><circle cx="506.6" cy="134.0" r="2.3" fill="url(#bR)" opacity="1.0"/><circle cx="487.4" cy="139.7" r="2.3" fill="url(#bR)" opacity="1.0"/><circle cx="485.0" cy="149.5" r="2.3" fill="url(#bR)" opacity="1.0"/><circle cx="536.6" cy="120.5" r="2.3" fill="url(#bR)" opacity="1.0"/><circle cx="525.8" cy="128.3" r="2.3" fill="url(#bR)" opacity="1.0"/><circle cx="515.0" cy="136.0" r="2.3" fill="url(#bR)" opacity="1.0"/><circle cx="504.2" cy="143.8" r="2.3" fill="url(#bR)" opacity="1.0"/><circle cx="493.4" cy="151.6" r="2.3" fill="url(#bR)" opacity="1.0"/><line x1="505.8" y1="45.5" x2="500.3" y2="51.5" stroke="#8a3c3c" stroke-width="1.6" opacity="0.8" stroke-linecap="round"/><circle cx="503.1" cy="48.5" r="2.3" fill="url(#bRd)" opacity="1"/><circle cx="495.0" cy="53.3" r="2.3" fill="url(#bP)" opacity="1"/><line x1="484.2" y1="61.0" x2="478.7" y2="67.0" stroke="#8a3c3c" stroke-width="1.6" opacity="0.8" stroke-linecap="round"/><circle cx="481.5" cy="64.0" r="2.3" fill="url(#bRd)" opacity="1"/><line x1="462.6" y1="76.6" x2="457.1" y2="82.6" stroke="#8a3c3c" stroke-width="1.6" opacity="0.8" stroke-linecap="round"/><circle cx="459.9" cy="79.6" r="2.3" fill="url(#bRd)" opacity="1"/><circle cx="451.8" cy="84.3" r="2.3" fill="url(#bP)" opacity="1"/><line x1="501.0" y1="65.1" x2="495.5" y2="71.1" stroke="#8a3c3c" stroke-width="1.6" opacity="0.8" stroke-linecap="round"/><circle cx="498.3" cy="68.1" r="2.3" fill="url(#bRd)" opacity="1"/><line x1="479.4" y1="80.7" x2="473.9" y2="86.7" stroke="#8a3c3c" stroke-width="1.6" opacity="0.8" stroke-linecap="round"/><circle cx="476.7" cy="83.7" r="2.3" fill="url(#bRd)" opacity="1"/><circle cx="479.4" cy="80.7" r="2.3" fill="url(#bP)" opacity="1"/><line x1="457.8" y1="96.2" x2="452.3" y2="102.2" stroke="#8a3c3c" stroke-width="1.6" opacity="0.8" stroke-linecap="round"/><circle cx="455.1" cy="99.2" r="2.3" fill="url(#bRd)" opacity="1"/><line x1="517.9" y1="69.2" x2="512.4" y2="75.2" stroke="#8a3c3c" stroke-width="1.6" opacity="0.8" stroke-linecap="round"/><circle cx="515.1" cy="72.2" r="2.3" fill="url(#bRd)" opacity="1"/><circle cx="507.1" cy="77.0" r="2.3" fill="url(#bP)" opacity="1"/><line x1="496.3" y1="84.7" x2="490.8" y2="90.7" stroke="#8a3c3c" stroke-width="1.6" opacity="0.8" stroke-linecap="round"/><circle cx="493.5" cy="87.7" r="2.3" fill="url(#bRd)" opacity="1"/><line x1="474.7" y1="100.3" x2="469.2" y2="106.3" stroke="#8a3c3c" stroke-width="1.6" opacity="0.8" stroke-linecap="round"/><circle cx="471.9" cy="103.3" r="2.3" fill="url(#bRd)" opacity="1"/><circle cx="463.9" cy="108.0" r="2.3" fill="url(#bP)" opacity="1"/><line x1="513.1" y1="88.8" x2="507.6" y2="94.8" stroke="#8a3c3c" stroke-width="1.6" opacity="0.8" stroke-linecap="round"/><circle cx="510.4" cy="91.8" r="2.3" fill="url(#bRd)" opacity="1"/><line x1="491.5" y1="104.4" x2="486.0" y2="110.4" stroke="#8a3c3c" stroke-width="1.6" opacity="0.8" stroke-linecap="round"/><circle cx="488.8" cy="107.4" r="2.3" fill="url(#bRd)" opacity="1"/><circle cx="491.5" cy="104.4" r="2.3" fill="url(#bP)" opacity="1"/><line x1="469.9" y1="119.9" x2="464.4" y2="125.9" stroke="#8a3c3c" stroke-width="1.6" opacity="0.8" stroke-linecap="round"/><circle cx="467.2" cy="122.9" r="2.3" fill="url(#bRd)" opacity="1"/><line x1="530.0" y1="92.9" x2="524.5" y2="98.9" stroke="#8a3c3c" stroke-width="1.6" opacity="0.8" stroke-linecap="round"/><circle cx="527.2" cy="95.9" r="2.3" fill="url(#bRd)" opacity="1"/><circle cx="519.2" cy="100.7" r="2.3" fill="url(#bP)" opacity="1"/><line x1="508.4" y1="108.4" x2="502.9" y2="114.4" stroke="#8a3c3c" stroke-width="1.6" opacity="0.8" stroke-linecap="round"/><circle cx="505.6" cy="111.4" r="2.3" fill="url(#bRd)" opacity="1"/><line x1="486.8" y1="124.0" x2="481.3" y2="130.0" stroke="#8a3c3c" stroke-width="1.6" opacity="0.8" stroke-linecap="round"/><circle cx="484.0" cy="127.0" r="2.3" fill="url(#bRd)" opacity="1"/><circle cx="476.0" cy="131.7" r="2.3" fill="url(#bP)" opacity="1"/><line x1="525.2" y1="112.5" x2="519.7" y2="118.5" stroke="#8a3c3c" stroke-width="1.6" opacity="0.8" stroke-linecap="round"/><circle cx="522.4" cy="115.5" r="2.3" fill="url(#bRd)" opacity="1"/><line x1="503.6" y1="128.1" x2="498.1" y2="134.1" stroke="#8a3c3c" stroke-width="1.6" opacity="0.8" stroke-linecap="round"/><circle cx="500.8" cy="131.1" r="2.3" fill="url(#bRd)" opacity="1"/><circle cx="503.6" cy="128.1" r="2.3" fill="url(#bP)" opacity="1"/><line x1="482.0" y1="143.6" x2="476.5" y2="149.6" stroke="#8a3c3c" stroke-width="1.6" opacity="0.8" stroke-linecap="round"/><circle cx="479.2" cy="146.6" r="2.3" fill="url(#bRd)" opacity="1"/><line x1="542.0" y1="116.6" x2="536.5" y2="122.6" stroke="#8a3c3c" stroke-width="1.6" opacity="0.8" stroke-linecap="round"/><circle cx="539.3" cy="119.6" r="2.3" fill="url(#bRd)" opacity="1"/><circle cx="531.2" cy="124.4" r="2.3" fill="url(#bP)" opacity="1"/><line x1="520.4" y1="132.1" x2="514.9" y2="138.1" stroke="#8a3c3c" stroke-width="1.6" opacity="0.8" stroke-linecap="round"/><circle cx="517.7" cy="135.1" r="2.3" fill="url(#bRd)" opacity="1"/><line x1="498.8" y1="147.7" x2="493.3" y2="153.7" stroke="#8a3c3c" stroke-width="1.6" opacity="0.8" stroke-linecap="round"/><circle cx="496.1" cy="150.7" r="2.3" fill="url(#bRd)" opacity="1"/><circle cx="488.0" cy="155.4" r="2.3" fill="url(#bP)" opacity="1"/><rect x="430" y="30" width="130" height="115" fill="url(#cfade)"/><rect x="430" y="30" width="130" height="115" fill="url(#cfade2)"/></g>
<text x="463.0" y="41.3" font-family="Liberation Serif" font-size="7.2" font-weight="normal" fill="#333" text-anchor="start" transform="rotate(-33 463.0 41.3)" textLength="30" lengthAdjust="spacingAndGlyphs" stroke="#333" stroke-width="0.1" >Visible light</text>
<g transform="translate(475.4,35.3) rotate(-37.9)"><rect x="-8.60" y="0" width="2.60" height="10" fill="#ff1a1a"/><polygon points="-9.50,10 -5.25,10 -7.38,15" fill="#ff1a1a"/><rect x="-6.15" y="0" width="2.60" height="10" fill="#ff7a1a"/><polygon points="-7.05,10 -2.80,10 -4.92,15" fill="#ff7a1a"/><rect x="-3.70" y="0" width="2.60" height="10" fill="#ffe01a"/><polygon points="-4.60,10 -0.35,10 -2.47,15" fill="#ffe01a"/><rect x="-1.25" y="0" width="2.60" height="10" fill="#3ce83c"/><polygon points="-2.15,10 2.10,10 -0.02,15" fill="#3ce83c"/><rect x="1.20" y="0" width="2.60" height="10" fill="#3ca0ff"/><polygon points="0.30,10 4.55,10 2.43,15" fill="#3ca0ff"/><rect x="3.65" y="0" width="2.60" height="10" fill="#2828ff"/><polygon points="2.75,10 7.00,10 4.88,15" fill="#2828ff"/><rect x="6.10" y="0" width="2.60" height="10" fill="#9a1aff"/><polygon points="5.20,10 9.45,10 7.33,15" fill="#9a1aff"/></g>
<rect x="524.3" y="55.9" width="35.3" height="10.4" rx="5.2" fill="#f3f58e"/>
<text x="541.9" y="63.9" font-family="Liberation Serif" font-size="8.4" font-weight="normal" fill="#222" text-anchor="middle" textLength="30" lengthAdjust="spacingAndGlyphs" stroke="#222" stroke-width="0.1" >e<tspan baseline-shift="38%" font-size="68%">-</tspan> via Bi-O</text>
<circle cx="546.5" cy="83.5" r="8" fill="#eef27a" opacity="0.75"/>
<path d="M587.6,67.7L593.0,62.3M587.6,67.7L580.7,64.7M593.0,62.3L589.2,54.9M580.7,64.7L581.4,56.4M589.2,54.9L581.4,56.4M589.2,54.9L591.8,47.4M591.8,47.4L586.6,41.4M586.6,41.4L578.7,42.9M578.7,42.9L576.1,50.4M576.1,50.4L581.4,56.4M593.0,62.3L600.8,62.5M591.8,47.4L598.0,46.2M578.7,42.9L574.6,38.3M576.1,50.4L570.0,51.6M586.6,41.4L588.4,32.7M588.4,32.7L594.8,29.7M588.4,32.7L582.9,28.6M594.8,29.7L596.6,24.2M589.8,78.9L587.6,67.7M601.0,76.7L606.4,82.1M601.0,76.7L604.0,69.8M606.4,82.1L613.8,78.3M604.0,69.8L612.3,70.5M613.8,78.3L612.3,70.5M613.8,78.3L621.3,80.9M621.3,80.9L627.3,75.7M627.3,75.7L625.8,67.8M625.8,67.8L618.3,65.2M618.3,65.2L612.3,70.5M606.4,82.1L606.2,89.9M621.3,80.9L622.5,87.1M625.8,67.8L630.4,63.7M618.3,65.2L617.1,59.1M627.3,75.7L636.0,77.5M636.0,77.5L639.0,83.9M636.0,77.5L640.1,72.0M639.0,83.9L644.5,85.7M589.8,78.9L601.0,76.7M592.0,90.1L586.6,95.5M592.0,90.1L598.9,93.1M586.6,95.5L590.4,102.9M598.9,93.1L598.2,101.4M590.4,102.9L598.2,101.4M590.4,102.9L587.8,110.4M587.8,110.4L593.0,116.4M593.0,116.4L600.9,114.9M600.9,114.9L603.5,107.4M603.5,107.4L598.2,101.4M586.6,95.5L578.8,95.3M587.8,110.4L581.6,111.6M600.9,114.9L605.0,119.5M603.5,107.4L609.6,106.2M593.0,116.4L591.2,125.1M591.2,125.1L584.8,128.1M591.2,125.1L596.7,129.2M584.8,128.1L583.0,133.6M589.8,78.9L592.0,90.1M578.6,81.1L573.2,75.7M578.6,81.1L575.6,88.0M573.2,75.7L565.8,79.5M575.6,88.0L567.3,87.3M565.8,79.5L567.3,87.3M565.8,79.5L558.3,76.9M558.3,76.9L552.3,82.1M552.3,82.1L553.8,90.0M553.8,90.0L561.3,92.6M561.3,92.6L567.3,87.3M573.2,75.7L573.4,67.9M558.3,76.9L557.1,70.7M553.8,90.0L549.2,94.1M561.3,92.6L562.5,98.7M589.8,78.9L578.6,81.1M580.7,64.7L573.4,67.9M604.0,69.8L600.8,62.5M598.9,93.1L606.2,89.9M575.6,88.0L578.8,95.3" fill="none" stroke="#858585" stroke-width="2.3" stroke-linecap="round"/>
<circle cx="587.62" cy="67.71" r="2.6" fill="url(#bN)" />
<circle cx="600.84" cy="62.53" r="2.6" fill="url(#bN)" />
<circle cx="592.96" cy="62.32" r="2.5" fill="url(#bC)" />
<circle cx="580.65" cy="64.71" r="2.5" fill="url(#bC)" />
<circle cx="589.20" cy="54.92" r="2.5" fill="url(#bC)" />
<circle cx="581.37" cy="56.44" r="2.5" fill="url(#bC)" />
<circle cx="591.80" cy="47.39" r="2.5" fill="url(#bC)" />
<circle cx="586.57" cy="41.38" r="2.5" fill="url(#bC)" />
<circle cx="578.74" cy="42.90" r="2.5" fill="url(#bC)" />
<circle cx="576.14" cy="50.43" r="2.5" fill="url(#bC)" />
<circle cx="597.96" cy="46.19" r="2.0" fill="url(#bH)" />
<circle cx="574.65" cy="38.29" r="2.0" fill="url(#bH)" />
<circle cx="569.98" cy="51.63" r="2.0" fill="url(#bH)" />
<circle cx="588.37" cy="32.72" r="2.5" fill="url(#bC)" />
<circle cx="594.76" cy="29.74" r="2.6" fill="url(#bO)" />
<circle cx="582.92" cy="28.56" r="2.6" fill="url(#bO)" />
<circle cx="596.58" cy="24.16" r="1.9" fill="url(#bH)" />
<circle cx="600.99" cy="76.72" r="2.6" fill="url(#bN)" />
<circle cx="606.17" cy="89.94" r="2.6" fill="url(#bN)" />
<circle cx="606.38" cy="82.06" r="2.5" fill="url(#bC)" />
<circle cx="603.99" cy="69.75" r="2.5" fill="url(#bC)" />
<circle cx="613.78" cy="78.30" r="2.5" fill="url(#bC)" />
<circle cx="612.26" cy="70.47" r="2.5" fill="url(#bC)" />
<circle cx="621.31" cy="80.90" r="2.5" fill="url(#bC)" />
<circle cx="627.32" cy="75.67" r="2.5" fill="url(#bC)" />
<circle cx="625.80" cy="67.84" r="2.5" fill="url(#bC)" />
<circle cx="618.27" cy="65.24" r="2.5" fill="url(#bC)" />
<circle cx="622.51" cy="87.06" r="2.0" fill="url(#bH)" />
<circle cx="630.41" cy="63.75" r="2.0" fill="url(#bH)" />
<circle cx="617.07" cy="59.08" r="2.0" fill="url(#bH)" />
<circle cx="635.98" cy="77.47" r="2.5" fill="url(#bC)" />
<circle cx="638.96" cy="83.86" r="2.6" fill="url(#bO)" />
<circle cx="640.14" cy="72.02" r="2.6" fill="url(#bO)" />
<circle cx="644.54" cy="85.68" r="1.9" fill="url(#bH)" />
<circle cx="591.98" cy="90.09" r="2.6" fill="url(#bN)" />
<circle cx="578.76" cy="95.27" r="2.6" fill="url(#bN)" />
<circle cx="586.64" cy="95.48" r="2.5" fill="url(#bC)" />
<circle cx="598.95" cy="93.09" r="2.5" fill="url(#bC)" />
<circle cx="590.40" cy="102.88" r="2.5" fill="url(#bC)" />
<circle cx="598.23" cy="101.36" r="2.5" fill="url(#bC)" />
<circle cx="587.80" cy="110.41" r="2.5" fill="url(#bC)" />
<circle cx="593.03" cy="116.42" r="2.5" fill="url(#bC)" />
<circle cx="600.86" cy="114.90" r="2.5" fill="url(#bC)" />
<circle cx="603.46" cy="107.37" r="2.5" fill="url(#bC)" />
<circle cx="581.64" cy="111.61" r="2.0" fill="url(#bH)" />
<circle cx="604.95" cy="119.51" r="2.0" fill="url(#bH)" />
<circle cx="609.62" cy="106.17" r="2.0" fill="url(#bH)" />
<circle cx="591.23" cy="125.08" r="2.5" fill="url(#bC)" />
<circle cx="584.84" cy="128.06" r="2.6" fill="url(#bO)" />
<circle cx="596.68" cy="129.24" r="2.6" fill="url(#bO)" />
<circle cx="583.02" cy="133.64" r="1.9" fill="url(#bH)" />
<circle cx="578.61" cy="81.08" r="2.6" fill="url(#bN)" />
<circle cx="573.43" cy="67.86" r="2.6" fill="url(#bN)" />
<circle cx="573.22" cy="75.74" r="2.5" fill="url(#bC)" />
<circle cx="575.61" cy="88.05" r="2.5" fill="url(#bC)" />
<circle cx="565.82" cy="79.50" r="2.5" fill="url(#bC)" />
<circle cx="567.34" cy="87.33" r="2.5" fill="url(#bC)" />
<circle cx="558.29" cy="76.90" r="2.5" fill="url(#bC)" />
<circle cx="552.28" cy="82.13" r="2.5" fill="url(#bC)" />
<circle cx="553.80" cy="89.96" r="2.5" fill="url(#bC)" />
<circle cx="561.33" cy="92.56" r="2.5" fill="url(#bC)" />
<circle cx="557.09" cy="70.74" r="2.0" fill="url(#bH)" />
<circle cx="549.19" cy="94.05" r="2.0" fill="url(#bH)" />
<circle cx="562.53" cy="98.72" r="2.0" fill="url(#bH)" />
<circle cx="589.80" cy="78.90" r="3.0" fill="url(#bCo)" />
<rect x="518.5" y="81.5" width="19" height="5.2" fill="url(#yarr)" />
<polygon points="537.50,79.50 542.50,84.10 537.50,88.70" fill="#e89418" stroke="none" stroke-width="1" />
<text x="539.0" y="87.0" font-family="Liberation Serif" font-size="6.0" font-weight="bold" fill="#222" text-anchor="middle" stroke="#222" stroke-width="0.28" >O</text>
<text x="530.6" y="90.6" font-family="Liberation Serif" font-size="6.0" font-weight="bold" fill="#222" text-anchor="middle" stroke="#222" stroke-width="0.28" >Bi</text>
<text x="545.0" y="75.0" font-family="Liberation Serif" font-size="6.0" font-weight="bold" fill="#222" text-anchor="middle" stroke="#222" stroke-width="0.28" >C</text>
<circle cx="538.40" cy="72.40" r="2.3" fill="url(#bO)" />
<text x="507.6" y="153.5" font-family="Liberation Serif" font-size="9.4" font-weight="bold" fill="#222" text-anchor="middle" textLength="22.3" lengthAdjust="spacingAndGlyphs" stroke="#222" stroke-width="0.28" >CABB</text>
<text x="590.2" y="153.5" font-family="Liberation Serif" font-size="9.4" font-weight="bold" fill="#222" text-anchor="middle" textLength="30" lengthAdjust="spacingAndGlyphs" stroke="#222" stroke-width="0.28" >CoTCPc</text>
<line x1="254.4" y1="362" x2="254.4" y2="502.5" stroke="#111" stroke-width="1.2" />
<polygon points="254.40,356.90 251.90,364.00 256.90,364.00" fill="#111" stroke="none" stroke-width="1" />
<line x1="251.4" y1="382.5" x2="254.4" y2="382.5" stroke="#111" stroke-width="1" />
<line x1="251.4" y1="415.5" x2="254.4" y2="415.5" stroke="#111" stroke-width="1" />
<line x1="251.4" y1="448.5" x2="254.4" y2="448.5" stroke="#111" stroke-width="1" />
<line x1="251.4" y1="481.5" x2="254.4" y2="481.5" stroke="#111" stroke-width="1" />
<line x1="252.6" y1="366.0" x2="254.4" y2="366.0" stroke="#111" stroke-width="0.9" />
<line x1="252.6" y1="399.0" x2="254.4" y2="399.0" stroke="#111" stroke-width="0.9" />
<line x1="252.6" y1="432.0" x2="254.4" y2="432.0" stroke="#111" stroke-width="0.9" />
<line x1="252.6" y1="465.0" x2="254.4" y2="465.0" stroke="#111" stroke-width="0.9" />
<line x1="252.6" y1="498.0" x2="254.4" y2="498.0" stroke="#111" stroke-width="0.9" />
<text x="250.3" y="385.9" font-family="Liberation Serif" font-size="9.8" font-weight="normal" fill="#222" text-anchor="end" stroke="#222" stroke-width="0.1" >-1</text>
<text x="250.3" y="418.9" font-family="Liberation Serif" font-size="9.8" font-weight="normal" fill="#222" text-anchor="end" stroke="#222" stroke-width="0.1" >0</text>
<text x="250.3" y="451.9" font-family="Liberation Serif" font-size="9.8" font-weight="normal" fill="#222" text-anchor="end" stroke="#222" stroke-width="0.1" >1</text>
<text x="250.3" y="484.9" font-family="Liberation Serif" font-size="9.8" font-weight="normal" fill="#222" text-anchor="end" stroke="#222" stroke-width="0.1" >2</text>
<text x="243.9" y="430" font-family="Liberation Serif" font-size="10.0" font-weight="normal" fill="#222" text-anchor="middle" transform="rotate(-90 243.9 430)" textLength="80.6" lengthAdjust="spacingAndGlyphs" stroke="#222" stroke-width="0.1" >Potential (V <tspan font-style='italic'>vs.</tspan> NHE)</text>
<line x1="256" y1="398.4" x2="370" y2="398.4" stroke="#e03a3a" stroke-width="0.9" stroke-dasharray="3,1.2,0.8,1.2"/>
<line x1="256" y1="407.4" x2="370" y2="407.4" stroke="#4a4ae8" stroke-width="0.9" stroke-dasharray="3,1.2,0.8,1.2"/>
<line x1="256" y1="442.9" x2="370" y2="442.9" stroke="#40d040" stroke-width="0.9" stroke-dasharray="3,1.2,0.8,1.2"/>
<text x="371.2" y="400.6" font-family="Liberation Serif" font-size="9.8" font-weight="normal" fill="#e03030" text-anchor="start" textLength="65" lengthAdjust="spacingAndGlyphs" stroke="#e03030" stroke-width="0.1" >CO<tspan baseline-shift="-28%" font-size="68%">2</tspan>/CO (-0.52 V)</text>
<text x="371.2" y="411.5" font-family="Liberation Serif" font-size="9.8" font-weight="normal" fill="#3a3ae0" text-anchor="start" textLength="68" lengthAdjust="spacingAndGlyphs" stroke="#3a3ae0" stroke-width="0.1" >CO<tspan baseline-shift="-28%" font-size="68%">2</tspan>/CH<tspan baseline-shift="-28%" font-size="68%">4</tspan> (-0.24 V)</text>
<text x="371.2" y="445.4" font-family="Liberation Serif" font-size="9.8" font-weight="normal" fill="#3ccc3c" text-anchor="start" textLength="61.5" lengthAdjust="spacingAndGlyphs" stroke="#3ccc3c" stroke-width="0.1" >H<tspan baseline-shift="-28%" font-size="68%">2</tspan>O/O<tspan baseline-shift="-28%" font-size="68%">2</tspan> (0.82 V)</text>
<polyline points="265.6,392.8 294.2,392.8 296.8,396" fill="none" stroke="#f08a30" stroke-width="1.6"/>
<polyline points="265.6,485.5 294.2,485.5 296.8,488.6" fill="none" stroke="#f08a30" stroke-width="1.6"/>
<polyline points="316.3,380 319.4,383.1 348,383.1" fill="none" stroke="#9a2af0" stroke-width="1.6"/>
<polyline points="316.3,442.8 319.4,445.8 348,445.8" fill="none" stroke="#9a2af0" stroke-width="1.6"/>
<text x="280.6" y="391.3" font-family="Liberation Serif" font-size="10" font-weight="normal" fill="#222" text-anchor="middle" textLength="21.8" lengthAdjust="spacingAndGlyphs" stroke="#222" stroke-width="0.1" >e<tspan baseline-shift="38%" font-size="68%">-</tspan> e<tspan baseline-shift="38%" font-size="68%">-</tspan> e<tspan baseline-shift="38%" font-size="68%">-</tspan></text>
<text x="334.3" y="381.9" font-family="Liberation Serif" font-size="10" font-weight="normal" fill="#222" text-anchor="middle" textLength="23.5" lengthAdjust="spacingAndGlyphs" stroke="#222" stroke-width="0.1" >e<tspan baseline-shift="38%" font-size="68%">-</tspan> e<tspan baseline-shift="38%" font-size="68%">-</tspan> e<tspan baseline-shift="38%" font-size="68%">-</tspan></text>
<text x="334.2" y="457.2" font-family="Liberation Serif" font-size="10" font-weight="normal" fill="#222" text-anchor="middle" textLength="27.6" lengthAdjust="spacingAndGlyphs" stroke="#222" stroke-width="0.1" >h<tspan baseline-shift="38%" font-size="68%">+</tspan> h<tspan baseline-shift="38%" font-size="68%">+</tspan> h<tspan baseline-shift="38%" font-size="68%">+</tspan></text>
<text x="280.8" y="496.4" font-family="Liberation Serif" font-size="10" font-weight="normal" fill="#222" text-anchor="middle" textLength="28.3" lengthAdjust="spacingAndGlyphs" stroke="#222" stroke-width="0.1" >h<tspan baseline-shift="38%" font-size="68%">+</tspan> h<tspan baseline-shift="38%" font-size="68%">+</tspan> h<tspan baseline-shift="38%" font-size="68%">+</tspan></text>
<line x1="280.2" y1="481" x2="280.2" y2="401" stroke="#60f0f6" stroke-width="0.9" stroke-dasharray="1,1"/>
<polygon points="280.20,396.50 278.20,401.50 282.20,401.50" fill="#60f0f6" stroke="none" stroke-width="1" />
<line x1="332.3" y1="443" x2="332.3" y2="390" stroke="#60f0f6" stroke-width="0.9" stroke-dasharray="1,1"/>
<polygon points="332.30,385.80 330.30,390.80 334.30,390.80" fill="#60f0f6" stroke="none" stroke-width="1" />
<path d="M291,389 C305,383 318,398 328.5,437" fill="none" stroke="#60f0f6" stroke-width="0.9" stroke-dasharray="1,1"/>
<polygon points="329.80,441.50 326.20,436.40 331.00,435.60" fill="#60f0f6" stroke="none" stroke-width="1" />
<text x="290.6" y="441.2" font-family="Liberation Serif" font-size="9.8" font-weight="normal" fill="#f08a30" text-anchor="middle" transform="rotate(-90 290.6 441.2)" stroke="#f08a30" stroke-width="0.1" >CeO<tspan baseline-shift="-28%" font-size="68%">2</tspan></text>
<text x="327.8" y="414.2" font-family="Liberation Serif" font-size="9.8" font-weight="normal" fill="#9a2af0" text-anchor="middle" transform="rotate(-90 327.8 414.2)" stroke="#9a2af0" stroke-width="0.1" >Cs<tspan baseline-shift="-28%" font-size="68%">3</tspan>Bi<tspan baseline-shift="-28%" font-size="68%">2</tspan>I<tspan baseline-shift="-28%" font-size="68%">9</tspan></text>
<polygon points="266.30,418.80 258.20,426.80 264.50,437.00 262.50,441.00 270.50,449.20 279.60,464.00 274.30,448.00 276.00,445.50 270.20,431.00 272.20,429.00" fill="url(#bolt1)" stroke="none" stroke-width="1" />
<polygon points="352.20,395.50 357.50,403.20 350.50,413.50 351.50,416.80 345.20,425.50 333.80,437.80 340.20,421.00 338.40,419.00 345.50,408.00 343.60,406.00" fill="url(#bolt2)" stroke="none" stroke-width="1" />
<rect x="15.8" y="355.8" width="212.2" height="144.4" fill="#f7f7f7" />
<polygon points="22.00,367.50 36.00,361.60 94.00,361.40 82.00,374.50" fill="url(#pTopRed)" stroke="none" stroke-width="1" />
<polygon points="22.00,367.50 82.00,374.50 88.50,394.50 23.80,381.50" fill="url(#pFront)" stroke="none" stroke-width="1" />
<polygon points="82.00,374.50 94.00,361.40 96.00,380.50 88.50,394.50" fill="url(#pSide)" stroke="none" stroke-width="1" />
<text x="56.8" y="400.8" font-family="Liberation Serif" font-size="7.6" font-weight="normal" fill="#333" text-anchor="middle" textLength="34" lengthAdjust="spacingAndGlyphs" stroke="#333" stroke-width="0.1" >BiOI/Bi<tspan baseline-shift="-28%" font-size="68%">2</tspan>O<tspan baseline-shift="-28%" font-size="68%">2.7</tspan></text>
<rect x="107" y="371.7" width="27" height="3.4" fill="url(#oarrH)" />
<polygon points="133.00,368.60 141.00,373.40 133.00,378.20" fill="#f07820" stroke="none" stroke-width="1" />
<text x="123.4" y="370.4" font-family="Liberation Serif" font-size="7.6" font-weight="normal" fill="#333" text-anchor="middle" stroke="#333" stroke-width="0.1" >CsI</text>
<text x="123.4" y="383.0" font-family="Liberation Serif" font-size="7.6" font-weight="normal" fill="#333" text-anchor="middle" stroke="#333" stroke-width="0.1" >HI</text>
<polygon points="148.00,366.00 157.00,359.60 226.00,359.80 217.00,366.50" fill="url(#pCsBiTop)" stroke="none" stroke-width="1" />
<polygon points="148.00,366.00 217.00,366.50 219.00,394.40 150.00,389.50" fill="url(#pCsBi)" stroke="none" stroke-width="1" />
<polygon points="217.00,366.50 226.00,359.80 226.50,386.00 219.00,394.40" fill="url(#pCsBi)" stroke="none" stroke-width="1" />
<polygon points="217.00,366.50 226.00,359.80 226.50,386.00 219.00,394.40" fill="rgba(60,0,0,0.25)" stroke="none" stroke-width="1" />
<text x="187.3" y="401.8" font-family="Liberation Serif" font-size="7.6" font-weight="normal" fill="#333" text-anchor="middle" textLength="21" lengthAdjust="spacingAndGlyphs" stroke="#333" stroke-width="0.1" >Cs<tspan baseline-shift="-28%" font-size="68%">3</tspan>Bi<tspan baseline-shift="-28%" font-size="68%">2</tspan>I<tspan baseline-shift="-28%" font-size="68%">9</tspan></text>
<polygon points="18.20,422.50 78.50,419.00 100.20,428.10 98.10,434.40 22.40,442.10" fill="url(#pCeO)" stroke="none" stroke-width="1" />
<text x="53.6" y="453.8" font-family="Liberation Serif" font-size="7.6" font-weight="normal" fill="#333" text-anchor="middle" stroke="#333" stroke-width="0.1" >CeO<tspan baseline-shift="-28%" font-size="68%">2</tspan></text>
<text x="144.5" y="414.8" font-family="Liberation Serif" font-size="7.6" font-weight="normal" fill="#333" text-anchor="middle" textLength="37" lengthAdjust="spacingAndGlyphs" stroke="#333" stroke-width="0.1" >Electrostatic</text>
<text x="144.5" y="422.2" font-family="Liberation Serif" font-size="7.6" font-weight="normal" fill="#333" text-anchor="middle" textLength="37" lengthAdjust="spacingAndGlyphs" stroke="#333" stroke-width="0.1" >self-assembly</text>
<rect x="111.4" y="423.6" width="76" height="3.2" fill="url(#oarrH)" />
<rect x="185.5" y="423.6" width="3.4" height="7.5" fill="url(#oarrV)" />
<polygon points="182.70,430.50 191.70,430.50 187.20,438.60" fill="#f07820" stroke="none" stroke-width="1" />
<polygon points="142.00,452.00 190.50,440.40 225.80,455.50 174.00,474.50" fill="url(#pBig)" stroke="none" stroke-width="1" />
<polygon points="142.00,452.00 174.00,474.50 171.00,486.80 143.00,461.00" fill="url(#pBigSide)" stroke="none" stroke-width="1" />
<polygon points="174.00,474.50 225.80,455.50 222.60,467.50 171.00,486.80" fill="url(#pBigSide)" stroke="none" stroke-width="1" />
<polygon points="174.00,474.50 225.80,455.50 222.60,467.50 171.00,486.80" fill="rgba(60,0,20,0.18)" stroke="none" stroke-width="1" />
<polygon points="142.60,455.00 148.90,446.00 171.10,445.30 168.30,458.40" fill="url(#pTan)" stroke="none" stroke-width="1" />
<polygon points="173.80,445.30 190.50,441.10 207.10,447.30 196.00,454.30" fill="url(#pTan)" stroke="none" stroke-width="1" />
<polygon points="168.30,455.70 196.00,455.70 203.00,459.10 201.60,469.50 169.00,467.40" fill="url(#pTan)" stroke="none" stroke-width="1" />
<text x="188.6" y="496.9" font-family="Liberation Serif" font-size="7.6" font-weight="normal" fill="#333" text-anchor="middle" textLength="37" lengthAdjust="spacingAndGlyphs" stroke="#333" stroke-width="0.1" >Cs<tspan baseline-shift="-28%" font-size="68%">3</tspan>Bi<tspan baseline-shift="-28%" font-size="68%">2</tspan>I<tspan baseline-shift="-28%" font-size="68%">9</tspan>/CeO<tspan baseline-shift="-28%" font-size="68%">2</tspan></text>
<ellipse cx="32.6" cy="472.3" rx="4.2" ry="3.3" fill="url(#sCs)"/>
<text x="39.2" y="474.8" font-family="Liberation Serif" font-size="7.6" font-weight="normal" fill="#333" text-anchor="start" stroke="#333" stroke-width="0.1" >Cs</text>
<ellipse cx="71.6" cy="472.3" rx="4.2" ry="3.3" fill="url(#sBi)"/>
<text x="78.19999999999999" y="474.8" font-family="Liberation Serif" font-size="7.6" font-weight="normal" fill="#333" text-anchor="start" stroke="#333" stroke-width="0.1" >Bi</text>
<ellipse cx="117.2" cy="472.3" rx="4.2" ry="3.3" fill="url(#sI)"/>
<text x="123.8" y="474.8" font-family="Liberation Serif" font-size="7.6" font-weight="normal" fill="#333" text-anchor="start" stroke="#333" stroke-width="0.1" >I</text>
<ellipse cx="32.6" cy="493.5" rx="4.2" ry="3.3" fill="url(#sCe)"/>
<text x="39.2" y="496.0" font-family="Liberation Serif" font-size="7.6" font-weight="normal" fill="#333" text-anchor="start" stroke="#333" stroke-width="0.1" >Ce</text>
<ellipse cx="71.6" cy="493.5" rx="4.2" ry="3.3" fill="url(#sO)"/>
<text x="78.19999999999999" y="496.0" font-family="Liberation Serif" font-size="7.6" font-weight="normal" fill="#333" text-anchor="start" stroke="#333" stroke-width="0.1" >O</text>
<g stroke="#c8c8c8" stroke-width="0.6">
<g transform="rotate(-27 43.0 540.5)"><rect x="38.7" y="528.0" width="8.6" height="15.5" fill="#f4f4f4"/><rect x="38.2" y="527.2" width="9.6" height="4.4" fill="#9a8c74"/></g>
<g transform="rotate(27 67.8 540.5)"><rect x="63.5" y="528.0" width="8.6" height="15.5" fill="#f4f4f4"/><rect x="63.0" y="527.2" width="9.6" height="4.4" fill="#9a8c74"/></g>
<rect x="50.6" y="525.6" width="9.6" height="14.399999999999977" fill="#f6f6f6"/>
<rect x="50.199999999999996" y="525.1" width="10.4" height="5" fill="#9a8c74"/>
</g>
<circle cx="55.4" cy="555.3" r="19.3" fill="#f7f7f7"/>
<g clip-path="url(#fl55)"><rect x="36.099999999999994" y="551.2" width="38.6" height="38.6" fill="#b2eaee"/><ellipse cx="55.4" cy="551.2" rx="19.3" ry="2.6" fill="#cdf4f6"/></g>
<circle cx="55.4" cy="555.3" r="19.3" fill="none" stroke="#cfcfcf" stroke-width="0.9"/>
<path d="M48.4,555.6 q2,-1.2 4,0 t4,0.4 M56.9,554.2 q2,-1.2 4,0 t4,0.4 M53.9,559.2 q2,-1.2 4,0 t4,0.4 M41.5,561.6 q2,-1.2 4,0 t4,0.4 M41.0,560.4 q2,-1.2 4,0 t4,0.4 M41.8,554.5 q2,-1.2 4,0 t4,0.4 M51.0,567.1 q2,-1.2 4,0 t4,0.4 M43.2,556.8 q2,-1.2 4,0 t4,0.4 M56.3,569.1 q2,-1.2 4,0 t4,0.4 " fill="none" stroke="#5a7890" stroke-width="0.45" />
<circle cx="43.50" cy="558.00" r="1.7" fill="#3a6a1a" />
<circle cx="48.70" cy="556.50" r="1.7" fill="#50e850" />
<circle cx="52.00" cy="559.70" r="1.7" fill="#3a6a1a" />
<circle cx="56.00" cy="561.00" r="1.7" fill="#50e850" />
<circle cx="63.50" cy="560.00" r="1.7" fill="#3a6a1a" />
<circle cx="65.50" cy="556.00" r="1.7" fill="#50e850" />
<circle cx="47.80" cy="563.00" r="1.7" fill="#50e850" />
<circle cx="56.70" cy="564.50" r="1.7" fill="#50e850" />
<circle cx="65.90" cy="563.00" r="1.7" fill="#3a6a1a" />
<circle cx="49.50" cy="570.20" r="1.7" fill="#3a6a1a" />
<circle cx="57.30" cy="571.00" r="1.7" fill="#3a6a1a" />
<circle cx="62.50" cy="568.30" r="1.7" fill="#50e850" />
<circle cx="45.50" cy="565.50" r="1.7" fill="#3a6a1a" />
<circle cx="53.00" cy="563.50" r="0.7" fill="#9aa" />
<circle cx="60.00" cy="565.50" r="0.7" fill="#9aa" />
<circle cx="46.00" cy="567.50" r="0.7" fill="#9aa" />
<circle cx="69.00" cy="559.00" r="0.7" fill="#9aa" />
<rect x="92.3" y="517.4" width="6.3" height="1.2" fill="#b8b8b8" />
<rect x="94.8" y="518.5" width="1.2" height="4" fill="#c8c8c8" />
<rect x="92.3" y="522" width="6.3" height="1" fill="#b0b0b0" />
<rect x="92.9" y="523" width="5.0" height="19.5" fill="#f4f4f4" stroke="#b8b8b8" stroke-width="0.5"/>
<rect x="93.2" y="534.3" width="4.4" height="8.0" fill="#e8dc8a" />
<line x1="95.4" y1="542.5" x2="95.4" y2="553" stroke="#aaa" stroke-width="0.7" />
<text x="102.8" y="533.5" font-family="Liberation Serif" font-size="6.6" font-weight="bold" fill="#333" text-anchor="middle" transform="rotate(-90 102.8 533.5)" textLength="21" lengthAdjust="spacingAndGlyphs" font-style="italic" stroke="#333" stroke-width="0.28" >Cs-oleate</text>
<line x1="77.8" y1="555.5" x2="118" y2="555.5" stroke="#111" stroke-width="1.9" />
<polygon points="121.80,555.50 116.50,553.00 116.50,558.00" fill="#111" stroke="none" stroke-width="1" />
<text x="102.5" y="563.8" font-family="Liberation Serif" font-size="7.4" font-weight="bold" fill="#222" text-anchor="middle" textLength="54" lengthAdjust="spacingAndGlyphs" stroke="#222" stroke-width="0.28" >Room-Temperature</text>
<text x="102.3" y="571.0" font-family="Liberation Serif" font-size="7.4" font-weight="bold" fill="#222" text-anchor="middle" textLength="53.5" lengthAdjust="spacingAndGlyphs" stroke="#222" stroke-width="0.28" >Precursor Injection</text>
<circle cx="38.40" cy="582.50" r="0.6" fill="#888" />
<text x="42.7" y="585.4" font-family="Liberation Serif" font-size="7.2" font-weight="bold" fill="#222" text-anchor="start" textLength="12.3" lengthAdjust="spacingAndGlyphs" stroke="#222" stroke-width="0.28" >HBr</text>
<circle cx="65.50" cy="582.20" r="1.9" fill="#3a6a1a" />
<text x="70.2" y="585.4" font-family="Liberation Serif" font-size="7.2" font-weight="bold" fill="#222" text-anchor="start" textLength="19" lengthAdjust="spacingAndGlyphs" stroke="#222" stroke-width="0.28" >AgNO<tspan baseline-shift="-28%" font-size="68%">3</tspan></text>
<path d="M35,591 q2,-1 3.5,0.4 t3,0.6" fill="none" stroke="#334" stroke-width="0.6" />
<text x="41.2" y="594.8" font-family="Liberation Serif" font-size="7.2" font-weight="bold" fill="#222" text-anchor="start" textLength="22.4" lengthAdjust="spacingAndGlyphs" stroke="#222" stroke-width="0.28" >Ligands</text>
<circle cx="66.40" cy="591.70" r="1.9" fill="#50e850" />
<text x="70.6" y="594.8" font-family="Liberation Serif" font-size="7.2" font-weight="bold" fill="#222" text-anchor="start" textLength="15" lengthAdjust="spacingAndGlyphs" stroke="#222" stroke-width="0.28" >BiBr<tspan baseline-shift="-28%" font-size="68%">3</tspan></text>
<g stroke="#c8c8c8" stroke-width="0.6">
<g transform="rotate(-27 135.7 541.4)"><rect x="131.4" y="528.9" width="8.6" height="15.5" fill="#f4f4f4"/><rect x="130.9" y="528.1" width="9.6" height="4.4" fill="#9a8c74"/></g>
<g transform="rotate(27 159.5 541.4)"><rect x="155.2" y="528.9" width="8.6" height="15.5" fill="#f4f4f4"/><rect x="154.7" y="528.1" width="9.6" height="4.4" fill="#9a8c74"/></g>
<rect x="142.79999999999998" y="524.2" width="9.6" height="16.899999999999977" fill="#f6f6f6"/>
<rect x="142.4" y="523.7" width="10.4" height="5" fill="#9a8c74"/>
</g>
<circle cx="147.6" cy="555.6" r="18.5" fill="#f7f7f7"/>
<g clip-path="url(#fl147)"><rect x="129.1" y="549.7" width="37.0" height="37.0" fill="#f2df7e"/><ellipse cx="147.6" cy="549.7" rx="18.5" ry="2.6" fill="#e4a232"/></g>
<circle cx="147.6" cy="555.6" r="18.5" fill="none" stroke="#cfcfcf" stroke-width="0.9"/>
<line x1="168.3" y1="556.4" x2="208" y2="556.4" stroke="#111" stroke-width="1.9" />
<polygon points="212.00,556.40 206.70,553.90 206.70,558.90" fill="#111" stroke="none" stroke-width="1" />
<text x="191.6" y="552.8" font-family="Liberation Serif" font-size="7.4" font-weight="bold" fill="#222" text-anchor="middle" textLength="45" lengthAdjust="spacingAndGlyphs" stroke="#222" stroke-width="0.28" >Centrifugation</text>
<text x="192.8" y="567.6" font-family="Liberation Serif" font-size="7.4" font-weight="bold" fill="#222" text-anchor="middle" textLength="51.5" lengthAdjust="spacingAndGlyphs" stroke="#222" stroke-width="0.28" >Washing, Drying</text>
<g><polygon points="222.3,539.9 222.3,548.5 217.7,544.2" fill="#2a9a80"/><polygon points="222.3,539.9 226.9,544.2 222.3,548.5" fill="#166c5a"/><polygon points="230.0,539.9 230.0,548.5 225.4,544.2" fill="#cfd040"/><polygon points="230.0,539.9 234.6,544.2 230.0,548.5" fill="#98a018"/><polygon points="237.7,539.9 237.7,548.5 233.1,544.2" fill="#2a9a80"/><polygon points="237.7,539.9 242.3,544.2 237.7,548.5" fill="#166c5a"/><polygon points="245.4,539.9 245.4,548.5 240.8,544.2" fill="#cfd040"/><polygon points="245.4,539.9 250.0,544.2 245.4,548.5" fill="#98a018"/><polygon points="253.1,539.9 253.1,548.5 248.5,544.2" fill="#2a9a80"/><polygon points="253.1,539.9 257.7,544.2 253.1,548.5" fill="#166c5a"/><polygon points="260.8,539.9 260.8,548.5 256.2,544.2" fill="#cfd040"/><polygon points="260.8,539.9 265.4,544.2 260.8,548.5" fill="#98a018"/><polygon points="222.3,547.5 222.3,556.1 217.7,551.8" fill="#cfd040"/><polygon points="222.3,547.5 226.9,551.8 222.3,556.1" fill="#98a018"/><polygon points="230.0,547.5 230.0,556.1 225.4,551.8" fill="#2a9a80"/><polygon points="230.0,547.5 234.6,551.8 230.0,556.1" fill="#166c5a"/><polygon points="237.7,547.5 237.7,556.1 233.1,551.8" fill="#cfd040"/><polygon points="237.7,547.5 242.3,551.8 237.7,556.1" fill="#98a018"/><polygon points="245.4,547.5 245.4,556.1 240.8,551.8" fill="#2a9a80"/><polygon points="245.4,547.5 250.0,551.8 245.4,556.1" fill="#166c5a"/><polygon points="253.1,547.5 253.1,556.1 248.5,551.8" fill="#cfd040"/><polygon points="253.1,547.5 257.7,551.8 253.1,556.1" fill="#98a018"/><polygon points="260.8,547.5 260.8,556.1 256.2,551.8" fill="#2a9a80"/><polygon points="260.8,547.5 265.4,551.8 260.8,556.1" fill="#166c5a"/><polygon points="222.3,555.1 222.3,563.7 217.7,559.4" fill="#2a9a80"/><polygon points="222.3,555.1 226.9,559.4 222.3,563.7" fill="#166c5a"/><polygon points="230.0,555.1 230.0,563.7 225.4,559.4" fill="#cfd040"/><polygon points="230.0,555.1 234.6,559.4 230.0,563.7" fill="#98a018"/><polygon points="237.7,555.1 237.7,563.7 233.1,559.4" fill="#2a9a80"/><polygon points="237.7,555.1 242.3,559.4 237.7,563.7" fill="#166c5a"/><polygon points="245.4,555.1 245.4,563.7 240.8,559.4" fill="#cfd040"/><polygon points="245.4,555.1 250.0,559.4 245.4,563.7" fill="#98a018"/><polygon points="253.1,555.1 253.1,563.7 248.5,559.4" fill="#2a9a80"/><polygon points="253.1,555.1 257.7,559.4 253.1,563.7" fill="#166c5a"/><polygon points="260.8,555.1 260.8,563.7 256.2,559.4" fill="#cfd040"/><polygon points="260.8,555.1 265.4,559.4 260.8,563.7" fill="#98a018"/><circle cx="226.2" cy="548.0" r="1.5" fill="#40e040"/><circle cx="233.9" cy="548.0" r="1.5" fill="#40e040"/><circle cx="241.6" cy="548.0" r="1.5" fill="#40e040"/><circle cx="249.2" cy="548.0" r="1.5" fill="#40e040"/><circle cx="256.9" cy="548.0" r="1.5" fill="#40e040"/><circle cx="226.2" cy="555.6" r="1.5" fill="#40e040"/><circle cx="233.9" cy="555.6" r="1.5" fill="#40e040"/><circle cx="241.6" cy="555.6" r="1.5" fill="#40e040"/><circle cx="249.2" cy="555.6" r="1.5" fill="#40e040"/><circle cx="256.9" cy="555.6" r="1.5" fill="#40e040"/></g>
<text x="244.0" y="579.6" font-family="Liberation Serif" font-size="7.4" font-weight="bold" fill="#222" text-anchor="middle" textLength="34.5" lengthAdjust="spacingAndGlyphs" stroke="#222" stroke-width="0.28" >CABB NSs</text>
<text x="249.9" y="597.0" font-family="Liberation Serif" font-size="7.4" font-weight="bold" fill="#222" text-anchor="middle" textLength="37.8" lengthAdjust="spacingAndGlyphs" stroke="#222" stroke-width="0.28" >Electrostatic</text>
<text x="251.7" y="605.6" font-family="Liberation Serif" font-size="7.4" font-weight="bold" fill="#222" text-anchor="middle" textLength="41.5" lengthAdjust="spacingAndGlyphs" stroke="#222" stroke-width="0.28" >Self-assembly</text>
<polyline points="266,556.1 276.4,556.1 276.4,649.2 218.8,649.2" fill="none" stroke="#111" stroke-width="1.6"/>
<circle cx="53.60" cy="614.20" r="4.0" fill="url(#sNi)" />
<text x="55.2" y="628.4" font-family="Liberation Serif" font-size="7.8" font-weight="bold" fill="#222" text-anchor="middle" stroke="#222" stroke-width="0.28" >Ni<tspan baseline-shift="38%" font-size="68%">2+</tspan></text>
<rect x="49.9" y="635.0" width="7" height="1.3" fill="#111" />
<rect x="52.75" y="632.1" width="1.3" height="7" fill="#111" />
<polygon points="53.7,657.6 59.9,661.2 59.9,669.8 53.7,673.5 47.3,669.8 47.3,661.2" fill="none" stroke="#3a8cb4" stroke-width="2.0"/>
<line x1="53.7" y1="657.6" x2="53.7" y2="650.7" stroke="#3a8cb4" stroke-width="1.6" />
<line x1="53.7" y1="673.5" x2="53.7" y2="678.6" stroke="#3a8cb4" stroke-width="1.6" />
<line x1="53.7" y1="650.7" x2="47.6" y2="646.6" stroke="#d8c048" stroke-width="1.6" />
<line x1="53.7" y1="650.7" x2="59.9" y2="646.6" stroke="#d8c048" stroke-width="1.6" />
<line x1="53.7" y1="678.6" x2="47.6" y2="681.0" stroke="#d8c048" stroke-width="1.6" />
<line x1="53.7" y1="678.6" x2="59.9" y2="681.0" stroke="#d8c048" stroke-width="1.6" />
<line x1="47.6" y1="646.6" x2="47.4" y2="643.6" stroke="#ccc" stroke-width="1.6" />
<line x1="59.9" y1="681.0" x2="60.6" y2="684.6" stroke="#ccc" stroke-width="1.6" />
<line x1="47.3" y1="661.2" x2="42.2" y2="659.0" stroke="#bbb" stroke-width="1.6" />
<line x1="59.9" y1="661.2" x2="65.0" y2="659.0" stroke="#bbb" stroke-width="1.6" />
<line x1="47.3" y1="669.8" x2="42.2" y2="671.5" stroke="#bbb" stroke-width="1.6" />
<line x1="59.9" y1="669.8" x2="65.0" y2="671.5" stroke="#bbb" stroke-width="1.6" />
<circle cx="53.70" cy="657.60" r="1.55" fill="url(#sBz)" />
<circle cx="59.90" cy="661.20" r="1.55" fill="url(#sBz)" />
<circle cx="59.90" cy="669.80" r="1.55" fill="url(#sBz)" />
<circle cx="53.70" cy="673.50" r="1.55" fill="url(#sBz)" />
<circle cx="47.30" cy="669.80" r="1.55" fill="url(#sBz)" />
<circle cx="47.30" cy="661.20" r="1.55" fill="url(#sBz)" />
<circle cx="53.70" cy="650.70" r="1.55" fill="url(#sBz)" />
<circle cx="53.70" cy="678.60" r="1.55" fill="url(#sBz)" />
<circle cx="47.60" cy="646.60" r="2.0" fill="url(#sOy)" />
<circle cx="59.90" cy="646.60" r="2.0" fill="url(#sOy)" />
<circle cx="47.60" cy="681.00" r="2.0" fill="url(#sOy)" />
<circle cx="59.90" cy="681.00" r="2.0" fill="url(#sOy)" />
<circle cx="47.40" cy="643.40" r="0.85" fill="#e4e4e4" />
<circle cx="60.70" cy="684.80" r="0.85" fill="#e4e4e4" />
<circle cx="42.00" cy="658.90" r="0.85" fill="#e4e4e4" />
<circle cx="65.20" cy="658.90" r="0.85" fill="#e4e4e4" />
<circle cx="42.00" cy="671.60" r="0.85" fill="#e4e4e4" />
<circle cx="65.20" cy="671.60" r="0.85" fill="#e4e4e4" />
<text x="53.7" y="699.2" font-family="Liberation Serif" font-size="7.6" font-weight="bold" fill="#222" text-anchor="middle" textLength="23.5" lengthAdjust="spacingAndGlyphs" stroke="#222" stroke-width="0.28" >H<tspan baseline-shift="-28%" font-size="68%">2</tspan>BDC</text>
<line x1="70" y1="646" x2="117" y2="646" stroke="#111" stroke-width="1.9" />
<polygon points="120.80,646.00 115.50,643.50 115.50,648.50" fill="#111" stroke="none" stroke-width="1" />
<text x="94.2" y="643.0" font-family="Liberation Serif" font-size="7.4" font-weight="bold" fill="#222" text-anchor="middle" textLength="33" lengthAdjust="spacingAndGlyphs" stroke="#222" stroke-width="0.28" >Nucleation</text>
<text x="94.5" y="655.6" font-family="Liberation Serif" font-size="7.4" font-weight="bold" fill="#222" text-anchor="middle" textLength="33.5" lengthAdjust="spacingAndGlyphs" stroke="#222" stroke-width="0.28" >Exfoliation</text>
<g><line x1="137.5" y1="628.1" x2="137.5" y2="632.3" stroke="#3f96bf" stroke-width="1.2"/><line x1="137.5" y1="640.3" x2="137.5" y2="644.5" stroke="#3f96bf" stroke-width="1.2"/><polygon points="137.50,640.30 134.56,638.30 134.56,634.30 137.50,632.30 140.44,634.30 140.44,638.30" fill="none" stroke="#3f96bf" stroke-width="1.5"/><circle cx="137.50" cy="640.30" r="1.0" fill="#5ab0d8"/><circle cx="134.56" cy="638.30" r="1.0" fill="#5ab0d8"/><circle cx="134.56" cy="634.30" r="1.0" fill="#5ab0d8"/><circle cx="137.50" cy="632.30" r="1.0" fill="#5ab0d8"/><circle cx="140.44" cy="634.30" r="1.0" fill="#5ab0d8"/><circle cx="140.44" cy="638.30" r="1.0" fill="#5ab0d8"/><circle cx="142.35" cy="638.90" r="0.7" fill="#c0d4de"/><circle cx="132.65" cy="638.90" r="0.7" fill="#c0d4de"/><circle cx="132.65" cy="633.70" r="0.7" fill="#c0d4de"/><circle cx="142.35" cy="633.70" r="0.7" fill="#c0d4de"/><line x1="152.9" y1="628.1" x2="152.9" y2="632.3" stroke="#3f96bf" stroke-width="1.2"/><line x1="152.9" y1="640.3" x2="152.9" y2="644.5" stroke="#3f96bf" stroke-width="1.2"/><polygon points="152.90,640.30 149.96,638.30 149.96,634.30 152.90,632.30 155.84,634.30 155.84,638.30" fill="none" stroke="#3f96bf" stroke-width="1.5"/><circle cx="152.90" cy="640.30" r="1.0" fill="#5ab0d8"/><circle cx="149.96" cy="638.30" r="1.0" fill="#5ab0d8"/><circle cx="149.96" cy="634.30" r="1.0" fill="#5ab0d8"/><circle cx="152.90" cy="632.30" r="1.0" fill="#5ab0d8"/><circle cx="155.84" cy="634.30" r="1.0" fill="#5ab0d8"/><circle cx="155.84" cy="638.30" r="1.0" fill="#5ab0d8"/><circle cx="157.75" cy="638.90" r="0.7" fill="#c0d4de"/><circle cx="148.05" cy="638.90" r="0.7" fill="#c0d4de"/><circle cx="148.05" cy="633.70" r="0.7" fill="#c0d4de"/><circle cx="157.75" cy="633.70" r="0.7" fill="#c0d4de"/><line x1="168.3" y1="628.1" x2="168.3" y2="632.3" stroke="#3f96bf" stroke-width="1.2"/><line x1="168.3" y1="640.3" x2="168.3" y2="644.5" stroke="#3f96bf" stroke-width="1.2"/><polygon points="168.30,640.30 165.36,638.30 165.36,634.30 168.30,632.30 171.24,634.30 171.24,638.30" fill="none" stroke="#3f96bf" stroke-width="1.5"/><circle cx="168.30" cy="640.30" r="1.0" fill="#5ab0d8"/><circle cx="165.36" cy="638.30" r="1.0" fill="#5ab0d8"/><circle cx="165.36" cy="634.30" r="1.0" fill="#5ab0d8"/><circle cx="168.30" cy="632.30" r="1.0" fill="#5ab0d8"/><circle cx="171.24" cy="634.30" r="1.0" fill="#5ab0d8"/><circle cx="171.24" cy="638.30" r="1.0" fill="#5ab0d8"/><circle cx="173.15" cy="638.90" r="0.7" fill="#c0d4de"/><circle cx="163.45" cy="638.90" r="0.7" fill="#c0d4de"/><circle cx="163.45" cy="633.70" r="0.7" fill="#c0d4de"/><circle cx="173.15" cy="633.70" r="0.7" fill="#c0d4de"/><line x1="183.7" y1="628.1" x2="183.7" y2="632.3" stroke="#3f96bf" stroke-width="1.2"/><line x1="183.7" y1="640.3" x2="183.7" y2="644.5" stroke="#3f96bf" stroke-width="1.2"/><polygon points="183.70,640.30 180.76,638.30 180.76,634.30 183.70,632.30 186.64,634.30 186.64,638.30" fill="none" stroke="#3f96bf" stroke-width="1.5"/><circle cx="183.70" cy="640.30" r="1.0" fill="#5ab0d8"/><circle cx="180.76" cy="638.30" r="1.0" fill="#5ab0d8"/><circle cx="180.76" cy="634.30" r="1.0" fill="#5ab0d8"/><circle cx="183.70" cy="632.30" r="1.0" fill="#5ab0d8"/><circle cx="186.64" cy="634.30" r="1.0" fill="#5ab0d8"/><circle cx="186.64" cy="638.30" r="1.0" fill="#5ab0d8"/><circle cx="188.55" cy="638.90" r="0.7" fill="#c0d4de"/><circle cx="178.85" cy="638.90" r="0.7" fill="#c0d4de"/><circle cx="178.85" cy="633.70" r="0.7" fill="#c0d4de"/><circle cx="188.55" cy="633.70" r="0.7" fill="#c0d4de"/><line x1="199.1" y1="628.1" x2="199.1" y2="632.3" stroke="#3f96bf" stroke-width="1.2"/><line x1="199.1" y1="640.3" x2="199.1" y2="644.5" stroke="#3f96bf" stroke-width="1.2"/><polygon points="199.10,640.30 196.16,638.30 196.16,634.30 199.10,632.30 202.04,634.30 202.04,638.30" fill="none" stroke="#3f96bf" stroke-width="1.5"/><circle cx="199.10" cy="640.30" r="1.0" fill="#5ab0d8"/><circle cx="196.16" cy="638.30" r="1.0" fill="#5ab0d8"/><circle cx="196.16" cy="634.30" r="1.0" fill="#5ab0d8"/><circle cx="199.10" cy="632.30" r="1.0" fill="#5ab0d8"/><circle cx="202.04" cy="634.30" r="1.0" fill="#5ab0d8"/><circle cx="202.04" cy="638.30" r="1.0" fill="#5ab0d8"/><circle cx="203.95" cy="638.90" r="0.7" fill="#c0d4de"/><circle cx="194.25" cy="638.90" r="0.7" fill="#c0d4de"/><circle cx="194.25" cy="633.70" r="0.7" fill="#c0d4de"/><circle cx="203.95" cy="633.70" r="0.7" fill="#c0d4de"/><line x1="145.2" y1="650.5" x2="145.2" y2="655.6" stroke="#3f96bf" stroke-width="1.2"/><line x1="145.2" y1="663.6" x2="145.2" y2="668.8" stroke="#3f96bf" stroke-width="1.2"/><polygon points="145.20,663.65 142.26,661.65 142.26,657.65 145.20,655.65 148.14,657.65 148.14,661.65" fill="none" stroke="#3f96bf" stroke-width="1.5"/><circle cx="145.20" cy="663.65" r="1.0" fill="#5ab0d8"/><circle cx="142.26" cy="661.65" r="1.0" fill="#5ab0d8"/><circle cx="142.26" cy="657.65" r="1.0" fill="#5ab0d8"/><circle cx="145.20" cy="655.65" r="1.0" fill="#5ab0d8"/><circle cx="148.14" cy="657.65" r="1.0" fill="#5ab0d8"/><circle cx="148.14" cy="661.65" r="1.0" fill="#5ab0d8"/><circle cx="150.05" cy="662.25" r="0.7" fill="#c0d4de"/><circle cx="140.35" cy="662.25" r="0.7" fill="#c0d4de"/><circle cx="140.35" cy="657.05" r="0.7" fill="#c0d4de"/><circle cx="150.05" cy="657.05" r="0.7" fill="#c0d4de"/><line x1="160.6" y1="650.5" x2="160.6" y2="655.6" stroke="#3f96bf" stroke-width="1.2"/><line x1="160.6" y1="663.6" x2="160.6" y2="668.8" stroke="#3f96bf" stroke-width="1.2"/><polygon points="160.60,663.65 157.66,661.65 157.66,657.65 160.60,655.65 163.54,657.65 163.54,661.65" fill="none" stroke="#3f96bf" stroke-width="1.5"/><circle cx="160.60" cy="663.65" r="1.0" fill="#5ab0d8"/><circle cx="157.66" cy="661.65" r="1.0" fill="#5ab0d8"/><circle cx="157.66" cy="657.65" r="1.0" fill="#5ab0d8"/><circle cx="160.60" cy="655.65" r="1.0" fill="#5ab0d8"/><circle cx="163.54" cy="657.65" r="1.0" fill="#5ab0d8"/><circle cx="163.54" cy="661.65" r="1.0" fill="#5ab0d8"/><circle cx="165.45" cy="662.25" r="0.7" fill="#c0d4de"/><circle cx="155.75" cy="662.25" r="0.7" fill="#c0d4de"/><circle cx="155.75" cy="657.05" r="0.7" fill="#c0d4de"/><circle cx="165.45" cy="657.05" r="0.7" fill="#c0d4de"/><line x1="176.0" y1="650.5" x2="176.0" y2="655.6" stroke="#3f96bf" stroke-width="1.2"/><line x1="176.0" y1="663.6" x2="176.0" y2="668.8" stroke="#3f96bf" stroke-width="1.2"/><polygon points="176.00,663.65 173.06,661.65 173.06,657.65 176.00,655.65 178.94,657.65 178.94,661.65" fill="none" stroke="#3f96bf" stroke-width="1.5"/><circle cx="176.00" cy="663.65" r="1.0" fill="#5ab0d8"/><circle cx="173.06" cy="661.65" r="1.0" fill="#5ab0d8"/><circle cx="173.06" cy="657.65" r="1.0" fill="#5ab0d8"/><circle cx="176.00" cy="655.65" r="1.0" fill="#5ab0d8"/><circle cx="178.94" cy="657.65" r="1.0" fill="#5ab0d8"/><circle cx="178.94" cy="661.65" r="1.0" fill="#5ab0d8"/><circle cx="180.85" cy="662.25" r="0.7" fill="#c0d4de"/><circle cx="171.15" cy="662.25" r="0.7" fill="#c0d4de"/><circle cx="171.15" cy="657.05" r="0.7" fill="#c0d4de"/><circle cx="180.85" cy="657.05" r="0.7" fill="#c0d4de"/><line x1="191.4" y1="650.5" x2="191.4" y2="655.6" stroke="#3f96bf" stroke-width="1.2"/><line x1="191.4" y1="663.6" x2="191.4" y2="668.8" stroke="#3f96bf" stroke-width="1.2"/><polygon points="191.40,663.65 188.46,661.65 188.46,657.65 191.40,655.65 194.34,657.65 194.34,661.65" fill="none" stroke="#3f96bf" stroke-width="1.5"/><circle cx="191.40" cy="663.65" r="1.0" fill="#5ab0d8"/><circle cx="188.46" cy="661.65" r="1.0" fill="#5ab0d8"/><circle cx="188.46" cy="657.65" r="1.0" fill="#5ab0d8"/><circle cx="191.40" cy="655.65" r="1.0" fill="#5ab0d8"/><circle cx="194.34" cy="657.65" r="1.0" fill="#5ab0d8"/><circle cx="194.34" cy="661.65" r="1.0" fill="#5ab0d8"/><circle cx="196.25" cy="662.25" r="0.7" fill="#c0d4de"/><circle cx="186.55" cy="662.25" r="0.7" fill="#c0d4de"/><circle cx="186.55" cy="657.05" r="0.7" fill="#c0d4de"/><circle cx="196.25" cy="657.05" r="0.7" fill="#c0d4de"/><line x1="206.8" y1="650.5" x2="206.8" y2="655.6" stroke="#3f96bf" stroke-width="1.2"/><line x1="206.8" y1="663.6" x2="206.8" y2="668.8" stroke="#3f96bf" stroke-width="1.2"/><polygon points="206.80,663.65 203.86,661.65 203.86,657.65 206.80,655.65 209.74,657.65 209.74,661.65" fill="none" stroke="#3f96bf" stroke-width="1.5"/><circle cx="206.80" cy="663.65" r="1.0" fill="#5ab0d8"/><circle cx="203.86" cy="661.65" r="1.0" fill="#5ab0d8"/><circle cx="203.86" cy="657.65" r="1.0" fill="#5ab0d8"/><circle cx="206.80" cy="655.65" r="1.0" fill="#5ab0d8"/><circle cx="209.74" cy="657.65" r="1.0" fill="#5ab0d8"/><circle cx="209.74" cy="661.65" r="1.0" fill="#5ab0d8"/><circle cx="211.65" cy="662.25" r="0.7" fill="#c0d4de"/><circle cx="201.95" cy="662.25" r="0.7" fill="#c0d4de"/><circle cx="201.95" cy="657.05" r="0.7" fill="#c0d4de"/><circle cx="211.65" cy="657.05" r="0.7" fill="#c0d4de"/><circle cx="138.8" cy="625.1" r="3.6" fill="#fff" stroke="#e6d488" stroke-width="0.7"/><circle cx="141.11" cy="627.86" r="0.9" fill="#e8d058"/><circle cx="136.49" cy="627.86" r="0.9" fill="#e8d058"/><circle cx="136.49" cy="622.34" r="0.9" fill="#e8d058"/><circle cx="141.11" cy="622.34" r="0.9" fill="#e8d058"/><line x1="134.9" y1="625.1" x2="132.3" y2="622.5" stroke="#e0c850" stroke-width="0.9"/><circle cx="132.3" cy="622.5" r="1.0" fill="#e8d058"/><line x1="134.9" y1="625.1" x2="132.3" y2="627.7" stroke="#e0c850" stroke-width="0.9"/><circle cx="132.3" cy="627.7" r="1.0" fill="#e8d058"/><circle cx="134.9" cy="625.1" r="1.5" fill="#a838b0"/><line x1="142.7" y1="625.1" x2="145.3" y2="622.5" stroke="#e0c850" stroke-width="0.9"/><circle cx="145.3" cy="622.5" r="1.0" fill="#e8d058"/><line x1="142.7" y1="625.1" x2="145.3" y2="627.7" stroke="#e0c850" stroke-width="0.9"/><circle cx="145.3" cy="627.7" r="1.0" fill="#e8d058"/><circle cx="142.7" cy="625.1" r="1.5" fill="#a838b0"/><circle cx="154.2" cy="625.1" r="3.6" fill="#fff" stroke="#e6d488" stroke-width="0.7"/><circle cx="156.51" cy="627.86" r="0.9" fill="#e8d058"/><circle cx="151.89" cy="627.86" r="0.9" fill="#e8d058"/><circle cx="151.89" cy="622.34" r="0.9" fill="#e8d058"/><circle cx="156.51" cy="622.34" r="0.9" fill="#e8d058"/><line x1="150.3" y1="625.1" x2="147.7" y2="622.5" stroke="#e0c850" stroke-width="0.9"/><circle cx="147.7" cy="622.5" r="1.0" fill="#e8d058"/><line x1="150.3" y1="625.1" x2="147.7" y2="627.7" stroke="#e0c850" stroke-width="0.9"/><circle cx="147.7" cy="627.7" r="1.0" fill="#e8d058"/><circle cx="150.3" cy="625.1" r="1.5" fill="#a838b0"/><line x1="158.1" y1="625.1" x2="160.7" y2="622.5" stroke="#e0c850" stroke-width="0.9"/><circle cx="160.7" cy="622.5" r="1.0" fill="#e8d058"/><line x1="158.1" y1="625.1" x2="160.7" y2="627.7" stroke="#e0c850" stroke-width="0.9"/><circle cx="160.7" cy="627.7" r="1.0" fill="#e8d058"/><circle cx="158.1" cy="625.1" r="1.5" fill="#a838b0"/><circle cx="169.6" cy="625.1" r="3.6" fill="#fff" stroke="#e6d488" stroke-width="0.7"/><circle cx="171.91" cy="627.86" r="0.9" fill="#e8d058"/><circle cx="167.29" cy="627.86" r="0.9" fill="#e8d058"/><circle cx="167.29" cy="622.34" r="0.9" fill="#e8d058"/><circle cx="171.91" cy="622.34" r="0.9" fill="#e8d058"/><line x1="165.7" y1="625.1" x2="163.1" y2="622.5" stroke="#e0c850" stroke-width="0.9"/><circle cx="163.1" cy="622.5" r="1.0" fill="#e8d058"/><line x1="165.7" y1="625.1" x2="163.1" y2="627.7" stroke="#e0c850" stroke-width="0.9"/><circle cx="163.1" cy="627.7" r="1.0" fill="#e8d058"/><circle cx="165.7" cy="625.1" r="1.5" fill="#a838b0"/><line x1="173.5" y1="625.1" x2="176.1" y2="622.5" stroke="#e0c850" stroke-width="0.9"/><circle cx="176.1" cy="622.5" r="1.0" fill="#e8d058"/><line x1="173.5" y1="625.1" x2="176.1" y2="627.7" stroke="#e0c850" stroke-width="0.9"/><circle cx="176.1" cy="627.7" r="1.0" fill="#e8d058"/><circle cx="173.5" cy="625.1" r="1.5" fill="#a838b0"/><circle cx="185.0" cy="625.1" r="3.6" fill="#fff" stroke="#e6d488" stroke-width="0.7"/><circle cx="187.31" cy="627.86" r="0.9" fill="#e8d058"/><circle cx="182.69" cy="627.86" r="0.9" fill="#e8d058"/><circle cx="182.69" cy="622.34" r="0.9" fill="#e8d058"/><circle cx="187.31" cy="622.34" r="0.9" fill="#e8d058"/><line x1="181.1" y1="625.1" x2="178.5" y2="622.5" stroke="#e0c850" stroke-width="0.9"/><circle cx="178.5" cy="622.5" r="1.0" fill="#e8d058"/><line x1="181.1" y1="625.1" x2="178.5" y2="627.7" stroke="#e0c850" stroke-width="0.9"/><circle cx="178.5" cy="627.7" r="1.0" fill="#e8d058"/><circle cx="181.1" cy="625.1" r="1.5" fill="#a838b0"/><line x1="188.9" y1="625.1" x2="191.5" y2="622.5" stroke="#e0c850" stroke-width="0.9"/><circle cx="191.5" cy="622.5" r="1.0" fill="#e8d058"/><line x1="188.9" y1="625.1" x2="191.5" y2="627.7" stroke="#e0c850" stroke-width="0.9"/><circle cx="191.5" cy="627.7" r="1.0" fill="#e8d058"/><circle cx="188.9" cy="625.1" r="1.5" fill="#a838b0"/><circle cx="200.4" cy="625.1" r="3.6" fill="#fff" stroke="#e6d488" stroke-width="0.7"/><circle cx="202.71" cy="627.86" r="0.9" fill="#e8d058"/><circle cx="198.09" cy="627.86" r="0.9" fill="#e8d058"/><circle cx="198.09" cy="622.34" r="0.9" fill="#e8d058"/><circle cx="202.71" cy="622.34" r="0.9" fill="#e8d058"/><line x1="196.5" y1="625.1" x2="193.9" y2="622.5" stroke="#e0c850" stroke-width="0.9"/><circle cx="193.9" cy="622.5" r="1.0" fill="#e8d058"/><line x1="196.5" y1="625.1" x2="193.9" y2="627.7" stroke="#e0c850" stroke-width="0.9"/><circle cx="193.9" cy="627.7" r="1.0" fill="#e8d058"/><circle cx="196.5" cy="625.1" r="1.5" fill="#a838b0"/><line x1="204.3" y1="625.1" x2="206.9" y2="622.5" stroke="#e0c850" stroke-width="0.9"/><circle cx="206.9" cy="622.5" r="1.0" fill="#e8d058"/><line x1="204.3" y1="625.1" x2="206.9" y2="627.7" stroke="#e0c850" stroke-width="0.9"/><circle cx="206.9" cy="627.7" r="1.0" fill="#e8d058"/><circle cx="204.3" cy="625.1" r="1.5" fill="#a838b0"/><circle cx="131.1" cy="647.5" r="3.6" fill="#fff" stroke="#e6d488" stroke-width="0.7"/><circle cx="133.41" cy="650.26" r="0.9" fill="#e8d058"/><circle cx="128.79" cy="650.26" r="0.9" fill="#e8d058"/><circle cx="128.79" cy="644.74" r="0.9" fill="#e8d058"/><circle cx="133.41" cy="644.74" r="0.9" fill="#e8d058"/><line x1="127.2" y1="647.5" x2="124.6" y2="644.9" stroke="#e0c850" stroke-width="0.9"/><circle cx="124.6" cy="644.9" r="1.0" fill="#e8d058"/><line x1="127.2" y1="647.5" x2="124.6" y2="650.1" stroke="#e0c850" stroke-width="0.9"/><circle cx="124.6" cy="650.1" r="1.0" fill="#e8d058"/><circle cx="127.2" cy="647.5" r="1.5" fill="#a838b0"/><line x1="135.0" y1="647.5" x2="137.6" y2="644.9" stroke="#e0c850" stroke-width="0.9"/><circle cx="137.6" cy="644.9" r="1.0" fill="#e8d058"/><line x1="135.0" y1="647.5" x2="137.6" y2="650.1" stroke="#e0c850" stroke-width="0.9"/><circle cx="137.6" cy="650.1" r="1.0" fill="#e8d058"/><circle cx="135.0" cy="647.5" r="1.5" fill="#a838b0"/><circle cx="146.5" cy="647.5" r="3.6" fill="#fff" stroke="#e6d488" stroke-width="0.7"/><circle cx="148.81" cy="650.26" r="0.9" fill="#e8d058"/><circle cx="144.19" cy="650.26" r="0.9" fill="#e8d058"/><circle cx="144.19" cy="644.74" r="0.9" fill="#e8d058"/><circle cx="148.81" cy="644.74" r="0.9" fill="#e8d058"/><line x1="142.6" y1="647.5" x2="140.0" y2="644.9" stroke="#e0c850" stroke-width="0.9"/><circle cx="140.0" cy="644.9" r="1.0" fill="#e8d058"/><line x1="142.6" y1="647.5" x2="140.0" y2="650.1" stroke="#e0c850" stroke-width="0.9"/><circle cx="140.0" cy="650.1" r="1.0" fill="#e8d058"/><circle cx="142.6" cy="647.5" r="1.5" fill="#a838b0"/><line x1="150.4" y1="647.5" x2="153.0" y2="644.9" stroke="#e0c850" stroke-width="0.9"/><circle cx="153.0" cy="644.9" r="1.0" fill="#e8d058"/><line x1="150.4" y1="647.5" x2="153.0" y2="650.1" stroke="#e0c850" stroke-width="0.9"/><circle cx="153.0" cy="650.1" r="1.0" fill="#e8d058"/><circle cx="150.4" cy="647.5" r="1.5" fill="#a838b0"/><circle cx="161.9" cy="647.5" r="3.6" fill="#fff" stroke="#e6d488" stroke-width="0.7"/><circle cx="164.21" cy="650.26" r="0.9" fill="#e8d058"/><circle cx="159.59" cy="650.26" r="0.9" fill="#e8d058"/><circle cx="159.59" cy="644.74" r="0.9" fill="#e8d058"/><circle cx="164.21" cy="644.74" r="0.9" fill="#e8d058"/><line x1="158.0" y1="647.5" x2="155.4" y2="644.9" stroke="#e0c850" stroke-width="0.9"/><circle cx="155.4" cy="644.9" r="1.0" fill="#e8d058"/><line x1="158.0" y1="647.5" x2="155.4" y2="650.1" stroke="#e0c850" stroke-width="0.9"/><circle cx="155.4" cy="650.1" r="1.0" fill="#e8d058"/><circle cx="158.0" cy="647.5" r="1.5" fill="#a838b0"/><line x1="165.8" y1="647.5" x2="168.4" y2="644.9" stroke="#e0c850" stroke-width="0.9"/><circle cx="168.4" cy="644.9" r="1.0" fill="#e8d058"/><line x1="165.8" y1="647.5" x2="168.4" y2="650.1" stroke="#e0c850" stroke-width="0.9"/><circle cx="168.4" cy="650.1" r="1.0" fill="#e8d058"/><circle cx="165.8" cy="647.5" r="1.5" fill="#a838b0"/><circle cx="177.3" cy="647.5" r="3.6" fill="#fff" stroke="#e6d488" stroke-width="0.7"/><circle cx="179.61" cy="650.26" r="0.9" fill="#e8d058"/><circle cx="174.99" cy="650.26" r="0.9" fill="#e8d058"/><circle cx="174.99" cy="644.74" r="0.9" fill="#e8d058"/><circle cx="179.61" cy="644.74" r="0.9" fill="#e8d058"/><line x1="173.4" y1="647.5" x2="170.8" y2="644.9" stroke="#e0c850" stroke-width="0.9"/><circle cx="170.8" cy="644.9" r="1.0" fill="#e8d058"/><line x1="173.4" y1="647.5" x2="170.8" y2="650.1" stroke="#e0c850" stroke-width="0.9"/><circle cx="170.8" cy="650.1" r="1.0" fill="#e8d058"/><circle cx="173.4" cy="647.5" r="1.5" fill="#a838b0"/><line x1="181.2" y1="647.5" x2="183.8" y2="644.9" stroke="#e0c850" stroke-width="0.9"/><circle cx="183.8" cy="644.9" r="1.0" fill="#e8d058"/><line x1="181.2" y1="647.5" x2="183.8" y2="650.1" stroke="#e0c850" stroke-width="0.9"/><circle cx="183.8" cy="650.1" r="1.0" fill="#e8d058"/><circle cx="181.2" cy="647.5" r="1.5" fill="#a838b0"/><circle cx="192.7" cy="647.5" r="3.6" fill="#fff" stroke="#e6d488" stroke-width="0.7"/><circle cx="195.01" cy="650.26" r="0.9" fill="#e8d058"/><circle cx="190.39" cy="650.26" r="0.9" fill="#e8d058"/><circle cx="190.39" cy="644.74" r="0.9" fill="#e8d058"/><circle cx="195.01" cy="644.74" r="0.9" fill="#e8d058"/><line x1="188.8" y1="647.5" x2="186.2" y2="644.9" stroke="#e0c850" stroke-width="0.9"/><circle cx="186.2" cy="644.9" r="1.0" fill="#e8d058"/><line x1="188.8" y1="647.5" x2="186.2" y2="650.1" stroke="#e0c850" stroke-width="0.9"/><circle cx="186.2" cy="650.1" r="1.0" fill="#e8d058"/><circle cx="188.8" cy="647.5" r="1.5" fill="#a838b0"/><line x1="196.6" y1="647.5" x2="199.2" y2="644.9" stroke="#e0c850" stroke-width="0.9"/><circle cx="199.2" cy="644.9" r="1.0" fill="#e8d058"/><line x1="196.6" y1="647.5" x2="199.2" y2="650.1" stroke="#e0c850" stroke-width="0.9"/><circle cx="199.2" cy="650.1" r="1.0" fill="#e8d058"/><circle cx="196.6" cy="647.5" r="1.5" fill="#a838b0"/><circle cx="208.1" cy="647.5" r="3.6" fill="#fff" stroke="#e6d488" stroke-width="0.7"/><circle cx="210.41" cy="650.26" r="0.9" fill="#e8d058"/><circle cx="205.79" cy="650.26" r="0.9" fill="#e8d058"/><circle cx="205.79" cy="644.74" r="0.9" fill="#e8d058"/><circle cx="210.41" cy="644.74" r="0.9" fill="#e8d058"/><line x1="204.2" y1="647.5" x2="201.6" y2="644.9" stroke="#e0c850" stroke-width="0.9"/><circle cx="201.6" cy="644.9" r="1.0" fill="#e8d058"/><line x1="204.2" y1="647.5" x2="201.6" y2="650.1" stroke="#e0c850" stroke-width="0.9"/><circle cx="201.6" cy="650.1" r="1.0" fill="#e8d058"/><circle cx="204.2" cy="647.5" r="1.5" fill="#a838b0"/><line x1="212.0" y1="647.5" x2="214.6" y2="644.9" stroke="#e0c850" stroke-width="0.9"/><circle cx="214.6" cy="644.9" r="1.0" fill="#e8d058"/><line x1="212.0" y1="647.5" x2="214.6" y2="650.1" stroke="#e0c850" stroke-width="0.9"/><circle cx="214.6" cy="650.1" r="1.0" fill="#e8d058"/><circle cx="212.0" cy="647.5" r="1.5" fill="#a838b0"/><circle cx="138.8" cy="671.8" r="3.6" fill="#fff" stroke="#e6d488" stroke-width="0.7"/><circle cx="141.11" cy="674.56" r="0.9" fill="#e8d058"/><circle cx="136.49" cy="674.56" r="0.9" fill="#e8d058"/><circle cx="136.49" cy="669.04" r="0.9" fill="#e8d058"/><circle cx="141.11" cy="669.04" r="0.9" fill="#e8d058"/><line x1="134.9" y1="671.8" x2="132.3" y2="669.2" stroke="#e0c850" stroke-width="0.9"/><circle cx="132.3" cy="669.2" r="1.0" fill="#e8d058"/><line x1="134.9" y1="671.8" x2="132.3" y2="674.4" stroke="#e0c850" stroke-width="0.9"/><circle cx="132.3" cy="674.4" r="1.0" fill="#e8d058"/><circle cx="134.9" cy="671.8" r="1.5" fill="#a838b0"/><line x1="142.7" y1="671.8" x2="145.3" y2="669.2" stroke="#e0c850" stroke-width="0.9"/><circle cx="145.3" cy="669.2" r="1.0" fill="#e8d058"/><line x1="142.7" y1="671.8" x2="145.3" y2="674.4" stroke="#e0c850" stroke-width="0.9"/><circle cx="145.3" cy="674.4" r="1.0" fill="#e8d058"/><circle cx="142.7" cy="671.8" r="1.5" fill="#a838b0"/><circle cx="154.2" cy="671.8" r="3.6" fill="#fff" stroke="#e6d488" stroke-width="0.7"/><circle cx="156.51" cy="674.56" r="0.9" fill="#e8d058"/><circle cx="151.89" cy="674.56" r="0.9" fill="#e8d058"/><circle cx="151.89" cy="669.04" r="0.9" fill="#e8d058"/><circle cx="156.51" cy="669.04" r="0.9" fill="#e8d058"/><line x1="150.3" y1="671.8" x2="147.7" y2="669.2" stroke="#e0c850" stroke-width="0.9"/><circle cx="147.7" cy="669.2" r="1.0" fill="#e8d058"/><line x1="150.3" y1="671.8" x2="147.7" y2="674.4" stroke="#e0c850" stroke-width="0.9"/><circle cx="147.7" cy="674.4" r="1.0" fill="#e8d058"/><circle cx="150.3" cy="671.8" r="1.5" fill="#a838b0"/><line x1="158.1" y1="671.8" x2="160.7" y2="669.2" stroke="#e0c850" stroke-width="0.9"/><circle cx="160.7" cy="669.2" r="1.0" fill="#e8d058"/><line x1="158.1" y1="671.8" x2="160.7" y2="674.4" stroke="#e0c850" stroke-width="0.9"/><circle cx="160.7" cy="674.4" r="1.0" fill="#e8d058"/><circle cx="158.1" cy="671.8" r="1.5" fill="#a838b0"/><circle cx="169.6" cy="671.8" r="3.6" fill="#fff" stroke="#e6d488" stroke-width="0.7"/><circle cx="171.91" cy="674.56" r="0.9" fill="#e8d058"/><circle cx="167.29" cy="674.56" r="0.9" fill="#e8d058"/><circle cx="167.29" cy="669.04" r="0.9" fill="#e8d058"/><circle cx="171.91" cy="669.04" r="0.9" fill="#e8d058"/><line x1="165.7" y1="671.8" x2="163.1" y2="669.2" stroke="#e0c850" stroke-width="0.9"/><circle cx="163.1" cy="669.2" r="1.0" fill="#e8d058"/><line x1="165.7" y1="671.8" x2="163.1" y2="674.4" stroke="#e0c850" stroke-width="0.9"/><circle cx="163.1" cy="674.4" r="1.0" fill="#e8d058"/><circle cx="165.7" cy="671.8" r="1.5" fill="#a838b0"/><line x1="173.5" y1="671.8" x2="176.1" y2="669.2" stroke="#e0c850" stroke-width="0.9"/><circle cx="176.1" cy="669.2" r="1.0" fill="#e8d058"/><line x1="173.5" y1="671.8" x2="176.1" y2="674.4" stroke="#e0c850" stroke-width="0.9"/><circle cx="176.1" cy="674.4" r="1.0" fill="#e8d058"/><circle cx="173.5" cy="671.8" r="1.5" fill="#a838b0"/><circle cx="185.0" cy="671.8" r="3.6" fill="#fff" stroke="#e6d488" stroke-width="0.7"/><circle cx="187.31" cy="674.56" r="0.9" fill="#e8d058"/><circle cx="182.69" cy="674.56" r="0.9" fill="#e8d058"/><circle cx="182.69" cy="669.04" r="0.9" fill="#e8d058"/><circle cx="187.31" cy="669.04" r="0.9" fill="#e8d058"/><line x1="181.1" y1="671.8" x2="178.5" y2="669.2" stroke="#e0c850" stroke-width="0.9"/><circle cx="178.5" cy="669.2" r="1.0" fill="#e8d058"/><line x1="181.1" y1="671.8" x2="178.5" y2="674.4" stroke="#e0c850" stroke-width="0.9"/><circle cx="178.5" cy="674.4" r="1.0" fill="#e8d058"/><circle cx="181.1" cy="671.8" r="1.5" fill="#a838b0"/><line x1="188.9" y1="671.8" x2="191.5" y2="669.2" stroke="#e0c850" stroke-width="0.9"/><circle cx="191.5" cy="669.2" r="1.0" fill="#e8d058"/><line x1="188.9" y1="671.8" x2="191.5" y2="674.4" stroke="#e0c850" stroke-width="0.9"/><circle cx="191.5" cy="674.4" r="1.0" fill="#e8d058"/><circle cx="188.9" cy="671.8" r="1.5" fill="#a838b0"/><circle cx="200.4" cy="671.8" r="3.6" fill="#fff" stroke="#e6d488" stroke-width="0.7"/><circle cx="202.71" cy="674.56" r="0.9" fill="#e8d058"/><circle cx="198.09" cy="674.56" r="0.9" fill="#e8d058"/><circle cx="198.09" cy="669.04" r="0.9" fill="#e8d058"/><circle cx="202.71" cy="669.04" r="0.9" fill="#e8d058"/><line x1="196.5" y1="671.8" x2="193.9" y2="669.2" stroke="#e0c850" stroke-width="0.9"/><circle cx="193.9" cy="669.2" r="1.0" fill="#e8d058"/><line x1="196.5" y1="671.8" x2="193.9" y2="674.4" stroke="#e0c850" stroke-width="0.9"/><circle cx="193.9" cy="674.4" r="1.0" fill="#e8d058"/><circle cx="196.5" cy="671.8" r="1.5" fill="#a838b0"/><line x1="204.3" y1="671.8" x2="206.9" y2="669.2" stroke="#e0c850" stroke-width="0.9"/><circle cx="206.9" cy="669.2" r="1.0" fill="#e8d058"/><line x1="204.3" y1="671.8" x2="206.9" y2="674.4" stroke="#e0c850" stroke-width="0.9"/><circle cx="206.9" cy="674.4" r="1.0" fill="#e8d058"/><circle cx="204.3" cy="671.8" r="1.5" fill="#a838b0"/></g>
<text x="169.2" y="691.4" font-family="Liberation Serif" font-size="7.4" font-weight="bold" fill="#222" text-anchor="middle" textLength="39.5" lengthAdjust="spacingAndGlyphs" stroke="#222" stroke-width="0.28" >Ni-MOF NSs</text>
<g transform="translate(306,557) rotate(10)"><line x1="5.7" y1="3.0" x2="5.7" y2="6.5" stroke="#3f96bf" stroke-width="1.2"/><line x1="5.7" y1="14.5" x2="5.7" y2="18.0" stroke="#3f96bf" stroke-width="1.2"/><polygon points="5.70,14.50 2.76,12.50 2.76,8.50 5.70,6.50 8.64,8.50 8.64,12.50" fill="none" stroke="#3f96bf" stroke-width="1.5"/><circle cx="5.70" cy="14.50" r="1.0" fill="#5ab0d8"/><circle cx="2.76" cy="12.50" r="1.0" fill="#5ab0d8"/><circle cx="2.76" cy="8.50" r="1.0" fill="#5ab0d8"/><circle cx="5.70" cy="6.50" r="1.0" fill="#5ab0d8"/><circle cx="8.64" cy="8.50" r="1.0" fill="#5ab0d8"/><circle cx="8.64" cy="12.50" r="1.0" fill="#5ab0d8"/><circle cx="10.55" cy="13.10" r="0.7" fill="#c0d4de"/><circle cx="0.85" cy="13.10" r="0.7" fill="#c0d4de"/><circle cx="0.85" cy="7.90" r="0.7" fill="#c0d4de"/><circle cx="10.55" cy="7.90" r="0.7" fill="#c0d4de"/><line x1="21.1" y1="3.0" x2="21.1" y2="6.5" stroke="#3f96bf" stroke-width="1.2"/><line x1="21.1" y1="14.5" x2="21.1" y2="18.0" stroke="#3f96bf" stroke-width="1.2"/><polygon points="21.10,14.50 18.16,12.50 18.16,8.50 21.10,6.50 24.04,8.50 24.04,12.50" fill="none" stroke="#3f96bf" stroke-width="1.5"/><circle cx="21.10" cy="14.50" r="1.0" fill="#5ab0d8"/><circle cx="18.16" cy="12.50" r="1.0" fill="#5ab0d8"/><circle cx="18.16" cy="8.50" r="1.0" fill="#5ab0d8"/><circle cx="21.10" cy="6.50" r="1.0" fill="#5ab0d8"/><circle cx="24.04" cy="8.50" r="1.0" fill="#5ab0d8"/><circle cx="24.04" cy="12.50" r="1.0" fill="#5ab0d8"/><circle cx="25.95" cy="13.10" r="0.7" fill="#c0d4de"/><circle cx="16.25" cy="13.10" r="0.7" fill="#c0d4de"/><circle cx="16.25" cy="7.90" r="0.7" fill="#c0d4de"/><circle cx="25.95" cy="7.90" r="0.7" fill="#c0d4de"/><line x1="36.5" y1="3.0" x2="36.5" y2="6.5" stroke="#3f96bf" stroke-width="1.2"/><line x1="36.5" y1="14.5" x2="36.5" y2="18.0" stroke="#3f96bf" stroke-width="1.2"/><polygon points="36.50,14.50 33.56,12.50 33.56,8.50 36.50,6.50 39.44,8.50 39.44,12.50" fill="none" stroke="#3f96bf" stroke-width="1.5"/><circle cx="36.50" cy="14.50" r="1.0" fill="#5ab0d8"/><circle cx="33.56" cy="12.50" r="1.0" fill="#5ab0d8"/><circle cx="33.56" cy="8.50" r="1.0" fill="#5ab0d8"/><circle cx="36.50" cy="6.50" r="1.0" fill="#5ab0d8"/><circle cx="39.44" cy="8.50" r="1.0" fill="#5ab0d8"/><circle cx="39.44" cy="12.50" r="1.0" fill="#5ab0d8"/><circle cx="41.35" cy="13.10" r="0.7" fill="#c0d4de"/><circle cx="31.65" cy="13.10" r="0.7" fill="#c0d4de"/><circle cx="31.65" cy="7.90" r="0.7" fill="#c0d4de"/><circle cx="41.35" cy="7.90" r="0.7" fill="#c0d4de"/><line x1="51.9" y1="3.0" x2="51.9" y2="6.5" stroke="#3f96bf" stroke-width="1.2"/><line x1="51.9" y1="14.5" x2="51.9" y2="18.0" stroke="#3f96bf" stroke-width="1.2"/><polygon points="51.90,14.50 48.96,12.50 48.96,8.50 51.90,6.50 54.84,8.50 54.84,12.50" fill="none" stroke="#3f96bf" stroke-width="1.5"/><circle cx="51.90" cy="14.50" r="1.0" fill="#5ab0d8"/><circle cx="48.96" cy="12.50" r="1.0" fill="#5ab0d8"/><circle cx="48.96" cy="8.50" r="1.0" fill="#5ab0d8"/><circle cx="51.90" cy="6.50" r="1.0" fill="#5ab0d8"/><circle cx="54.84" cy="8.50" r="1.0" fill="#5ab0d8"/><circle cx="54.84" cy="12.50" r="1.0" fill="#5ab0d8"/><circle cx="56.75" cy="13.10" r="0.7" fill="#c0d4de"/><circle cx="47.05" cy="13.10" r="0.7" fill="#c0d4de"/><circle cx="47.05" cy="7.90" r="0.7" fill="#c0d4de"/><circle cx="56.75" cy="7.90" r="0.7" fill="#c0d4de"/><line x1="67.3" y1="3.0" x2="67.3" y2="6.5" stroke="#3f96bf" stroke-width="1.2"/><line x1="67.3" y1="14.5" x2="67.3" y2="18.0" stroke="#3f96bf" stroke-width="1.2"/><polygon points="67.30,14.50 64.36,12.50 64.36,8.50 67.30,6.50 70.24,8.50 70.24,12.50" fill="none" stroke="#3f96bf" stroke-width="1.5"/><circle cx="67.30" cy="14.50" r="1.0" fill="#5ab0d8"/><circle cx="64.36" cy="12.50" r="1.0" fill="#5ab0d8"/><circle cx="64.36" cy="8.50" r="1.0" fill="#5ab0d8"/><circle cx="67.30" cy="6.50" r="1.0" fill="#5ab0d8"/><circle cx="70.24" cy="8.50" r="1.0" fill="#5ab0d8"/><circle cx="70.24" cy="12.50" r="1.0" fill="#5ab0d8"/><circle cx="72.15" cy="13.10" r="0.7" fill="#c0d4de"/><circle cx="62.45" cy="13.10" r="0.7" fill="#c0d4de"/><circle cx="62.45" cy="7.90" r="0.7" fill="#c0d4de"/><circle cx="72.15" cy="7.90" r="0.7" fill="#c0d4de"/><line x1="3.7" y1="24.0" x2="3.7" y2="27.5" stroke="#3f96bf" stroke-width="1.2"/><line x1="3.7" y1="35.5" x2="3.7" y2="39.0" stroke="#3f96bf" stroke-width="1.2"/><polygon points="3.70,35.50 0.76,33.50 0.76,29.50 3.70,27.50 6.64,29.50 6.64,33.50" fill="none" stroke="#3f96bf" stroke-width="1.5"/><circle cx="3.70" cy="35.50" r="1.0" fill="#5ab0d8"/><circle cx="0.76" cy="33.50" r="1.0" fill="#5ab0d8"/><circle cx="0.76" cy="29.50" r="1.0" fill="#5ab0d8"/><circle cx="3.70" cy="27.50" r="1.0" fill="#5ab0d8"/><circle cx="6.64" cy="29.50" r="1.0" fill="#5ab0d8"/><circle cx="6.64" cy="33.50" r="1.0" fill="#5ab0d8"/><circle cx="8.55" cy="34.10" r="0.7" fill="#c0d4de"/><circle cx="-1.15" cy="34.10" r="0.7" fill="#c0d4de"/><circle cx="-1.15" cy="28.90" r="0.7" fill="#c0d4de"/><circle cx="8.55" cy="28.90" r="0.7" fill="#c0d4de"/><line x1="19.1" y1="24.0" x2="19.1" y2="27.5" stroke="#3f96bf" stroke-width="1.2"/><line x1="19.1" y1="35.5" x2="19.1" y2="39.0" stroke="#3f96bf" stroke-width="1.2"/><polygon points="19.10,35.50 16.16,33.50 16.16,29.50 19.10,27.50 22.04,29.50 22.04,33.50" fill="none" stroke="#3f96bf" stroke-width="1.5"/><circle cx="19.10" cy="35.50" r="1.0" fill="#5ab0d8"/><circle cx="16.16" cy="33.50" r="1.0" fill="#5ab0d8"/><circle cx="16.16" cy="29.50" r="1.0" fill="#5ab0d8"/><circle cx="19.10" cy="27.50" r="1.0" fill="#5ab0d8"/><circle cx="22.04" cy="29.50" r="1.0" fill="#5ab0d8"/><circle cx="22.04" cy="33.50" r="1.0" fill="#5ab0d8"/><circle cx="23.95" cy="34.10" r="0.7" fill="#c0d4de"/><circle cx="14.25" cy="34.10" r="0.7" fill="#c0d4de"/><circle cx="14.25" cy="28.90" r="0.7" fill="#c0d4de"/><circle cx="23.95" cy="28.90" r="0.7" fill="#c0d4de"/><line x1="34.5" y1="24.0" x2="34.5" y2="27.5" stroke="#3f96bf" stroke-width="1.2"/><line x1="34.5" y1="35.5" x2="34.5" y2="39.0" stroke="#3f96bf" stroke-width="1.2"/><polygon points="34.50,35.50 31.56,33.50 31.56,29.50 34.50,27.50 37.44,29.50 37.44,33.50" fill="none" stroke="#3f96bf" stroke-width="1.5"/><circle cx="34.50" cy="35.50" r="1.0" fill="#5ab0d8"/><circle cx="31.56" cy="33.50" r="1.0" fill="#5ab0d8"/><circle cx="31.56" cy="29.50" r="1.0" fill="#5ab0d8"/><circle cx="34.50" cy="27.50" r="1.0" fill="#5ab0d8"/><circle cx="37.44" cy="29.50" r="1.0" fill="#5ab0d8"/><circle cx="37.44" cy="33.50" r="1.0" fill="#5ab0d8"/><circle cx="39.35" cy="34.10" r="0.7" fill="#c0d4de"/><circle cx="29.65" cy="34.10" r="0.7" fill="#c0d4de"/><circle cx="29.65" cy="28.90" r="0.7" fill="#c0d4de"/><circle cx="39.35" cy="28.90" r="0.7" fill="#c0d4de"/><line x1="49.9" y1="24.0" x2="49.9" y2="27.5" stroke="#3f96bf" stroke-width="1.2"/><line x1="49.9" y1="35.5" x2="49.9" y2="39.0" stroke="#3f96bf" stroke-width="1.2"/><polygon points="49.90,35.50 46.96,33.50 46.96,29.50 49.90,27.50 52.84,29.50 52.84,33.50" fill="none" stroke="#3f96bf" stroke-width="1.5"/><circle cx="49.90" cy="35.50" r="1.0" fill="#5ab0d8"/><circle cx="46.96" cy="33.50" r="1.0" fill="#5ab0d8"/><circle cx="46.96" cy="29.50" r="1.0" fill="#5ab0d8"/><circle cx="49.90" cy="27.50" r="1.0" fill="#5ab0d8"/><circle cx="52.84" cy="29.50" r="1.0" fill="#5ab0d8"/><circle cx="52.84" cy="33.50" r="1.0" fill="#5ab0d8"/><circle cx="54.75" cy="34.10" r="0.7" fill="#c0d4de"/><circle cx="45.05" cy="34.10" r="0.7" fill="#c0d4de"/><circle cx="45.05" cy="28.90" r="0.7" fill="#c0d4de"/><circle cx="54.75" cy="28.90" r="0.7" fill="#c0d4de"/><line x1="65.3" y1="24.0" x2="65.3" y2="27.5" stroke="#3f96bf" stroke-width="1.2"/><line x1="65.3" y1="35.5" x2="65.3" y2="39.0" stroke="#3f96bf" stroke-width="1.2"/><polygon points="65.30,35.50 62.36,33.50 62.36,29.50 65.30,27.50 68.24,29.50 68.24,33.50" fill="none" stroke="#3f96bf" stroke-width="1.5"/><circle cx="65.30" cy="35.50" r="1.0" fill="#5ab0d8"/><circle cx="62.36" cy="33.50" r="1.0" fill="#5ab0d8"/><circle cx="62.36" cy="29.50" r="1.0" fill="#5ab0d8"/><circle cx="65.30" cy="27.50" r="1.0" fill="#5ab0d8"/><circle cx="68.24" cy="29.50" r="1.0" fill="#5ab0d8"/><circle cx="68.24" cy="33.50" r="1.0" fill="#5ab0d8"/><circle cx="70.15" cy="34.10" r="0.7" fill="#c0d4de"/><circle cx="60.45" cy="34.10" r="0.7" fill="#c0d4de"/><circle cx="60.45" cy="28.90" r="0.7" fill="#c0d4de"/><circle cx="70.15" cy="28.90" r="0.7" fill="#c0d4de"/><line x1="80.7" y1="24.0" x2="80.7" y2="27.5" stroke="#3f96bf" stroke-width="1.2"/><line x1="80.7" y1="35.5" x2="80.7" y2="39.0" stroke="#3f96bf" stroke-width="1.2"/><polygon points="80.70,35.50 77.76,33.50 77.76,29.50 80.70,27.50 83.64,29.50 83.64,33.50" fill="none" stroke="#3f96bf" stroke-width="1.5"/><circle cx="80.70" cy="35.50" r="1.0" fill="#5ab0d8"/><circle cx="77.76" cy="33.50" r="1.0" fill="#5ab0d8"/><circle cx="77.76" cy="29.50" r="1.0" fill="#5ab0d8"/><circle cx="80.70" cy="27.50" r="1.0" fill="#5ab0d8"/><circle cx="83.64" cy="29.50" r="1.0" fill="#5ab0d8"/><circle cx="83.64" cy="33.50" r="1.0" fill="#5ab0d8"/><circle cx="85.55" cy="34.10" r="0.7" fill="#c0d4de"/><circle cx="75.85" cy="34.10" r="0.7" fill="#c0d4de"/><circle cx="75.85" cy="28.90" r="0.7" fill="#c0d4de"/><circle cx="85.55" cy="28.90" r="0.7" fill="#c0d4de"/><line x1="96.1" y1="24.0" x2="96.1" y2="27.5" stroke="#3f96bf" stroke-width="1.2"/><line x1="96.1" y1="35.5" x2="96.1" y2="39.0" stroke="#3f96bf" stroke-width="1.2"/><polygon points="96.10,35.50 93.16,33.50 93.16,29.50 96.10,27.50 99.04,29.50 99.04,33.50" fill="none" stroke="#3f96bf" stroke-width="1.5"/><circle cx="96.10" cy="35.50" r="1.0" fill="#5ab0d8"/><circle cx="93.16" cy="33.50" r="1.0" fill="#5ab0d8"/><circle cx="93.16" cy="29.50" r="1.0" fill="#5ab0d8"/><circle cx="96.10" cy="27.50" r="1.0" fill="#5ab0d8"/><circle cx="99.04" cy="29.50" r="1.0" fill="#5ab0d8"/><circle cx="99.04" cy="33.50" r="1.0" fill="#5ab0d8"/><circle cx="100.95" cy="34.10" r="0.7" fill="#c0d4de"/><circle cx="91.25" cy="34.10" r="0.7" fill="#c0d4de"/><circle cx="91.25" cy="28.90" r="0.7" fill="#c0d4de"/><circle cx="100.95" cy="28.90" r="0.7" fill="#c0d4de"/><line x1="-0.3" y1="45.0" x2="-0.3" y2="48.5" stroke="#3f96bf" stroke-width="1.2"/><line x1="-0.3" y1="56.5" x2="-0.3" y2="60.0" stroke="#3f96bf" stroke-width="1.2"/><polygon points="-0.30,56.50 -3.24,54.50 -3.24,50.50 -0.30,48.50 2.64,50.50 2.64,54.50" fill="none" stroke="#3f96bf" stroke-width="1.5"/><circle cx="-0.30" cy="56.50" r="1.0" fill="#5ab0d8"/><circle cx="-3.24" cy="54.50" r="1.0" fill="#5ab0d8"/><circle cx="-3.24" cy="50.50" r="1.0" fill="#5ab0d8"/><circle cx="-0.30" cy="48.50" r="1.0" fill="#5ab0d8"/><circle cx="2.64" cy="50.50" r="1.0" fill="#5ab0d8"/><circle cx="2.64" cy="54.50" r="1.0" fill="#5ab0d8"/><circle cx="4.55" cy="55.10" r="0.7" fill="#c0d4de"/><circle cx="-5.15" cy="55.10" r="0.7" fill="#c0d4de"/><circle cx="-5.15" cy="49.90" r="0.7" fill="#c0d4de"/><circle cx="4.55" cy="49.90" r="0.7" fill="#c0d4de"/><line x1="15.1" y1="45.0" x2="15.1" y2="48.5" stroke="#3f96bf" stroke-width="1.2"/><line x1="15.1" y1="56.5" x2="15.1" y2="60.0" stroke="#3f96bf" stroke-width="1.2"/><polygon points="15.10,56.50 12.16,54.50 12.16,50.50 15.10,48.50 18.04,50.50 18.04,54.50" fill="none" stroke="#3f96bf" stroke-width="1.5"/><circle cx="15.10" cy="56.50" r="1.0" fill="#5ab0d8"/><circle cx="12.16" cy="54.50" r="1.0" fill="#5ab0d8"/><circle cx="12.16" cy="50.50" r="1.0" fill="#5ab0d8"/><circle cx="15.10" cy="48.50" r="1.0" fill="#5ab0d8"/><circle cx="18.04" cy="50.50" r="1.0" fill="#5ab0d8"/><circle cx="18.04" cy="54.50" r="1.0" fill="#5ab0d8"/><circle cx="19.95" cy="55.10" r="0.7" fill="#c0d4de"/><circle cx="10.25" cy="55.10" r="0.7" fill="#c0d4de"/><circle cx="10.25" cy="49.90" r="0.7" fill="#c0d4de"/><circle cx="19.95" cy="49.90" r="0.7" fill="#c0d4de"/><line x1="30.5" y1="45.0" x2="30.5" y2="48.5" stroke="#3f96bf" stroke-width="1.2"/><line x1="30.5" y1="56.5" x2="30.5" y2="60.0" stroke="#3f96bf" stroke-width="1.2"/><polygon points="30.50,56.50 27.56,54.50 27.56,50.50 30.50,48.50 33.44,50.50 33.44,54.50" fill="none" stroke="#3f96bf" stroke-width="1.5"/><circle cx="30.50" cy="56.50" r="1.0" fill="#5ab0d8"/><circle cx="27.56" cy="54.50" r="1.0" fill="#5ab0d8"/><circle cx="27.56" cy="50.50" r="1.0" fill="#5ab0d8"/><circle cx="30.50" cy="48.50" r="1.0" fill="#5ab0d8"/><circle cx="33.44" cy="50.50" r="1.0" fill="#5ab0d8"/><circle cx="33.44" cy="54.50" r="1.0" fill="#5ab0d8"/><circle cx="35.35" cy="55.10" r="0.7" fill="#c0d4de"/><circle cx="25.65" cy="55.10" r="0.7" fill="#c0d4de"/><circle cx="25.65" cy="49.90" r="0.7" fill="#c0d4de"/><circle cx="35.35" cy="49.90" r="0.7" fill="#c0d4de"/><line x1="45.9" y1="45.0" x2="45.9" y2="48.5" stroke="#3f96bf" stroke-width="1.2"/><line x1="45.9" y1="56.5" x2="45.9" y2="60.0" stroke="#3f96bf" stroke-width="1.2"/><polygon points="45.90,56.50 42.96,54.50 42.96,50.50 45.90,48.50 48.84,50.50 48.84,54.50" fill="none" stroke="#3f96bf" stroke-width="1.5"/><circle cx="45.90" cy="56.50" r="1.0" fill="#5ab0d8"/><circle cx="42.96" cy="54.50" r="1.0" fill="#5ab0d8"/><circle cx="42.96" cy="50.50" r="1.0" fill="#5ab0d8"/><circle cx="45.90" cy="48.50" r="1.0" fill="#5ab0d8"/><circle cx="48.84" cy="50.50" r="1.0" fill="#5ab0d8"/><circle cx="48.84" cy="54.50" r="1.0" fill="#5ab0d8"/><circle cx="50.75" cy="55.10" r="0.7" fill="#c0d4de"/><circle cx="41.05" cy="55.10" r="0.7" fill="#c0d4de"/><circle cx="41.05" cy="49.90" r="0.7" fill="#c0d4de"/><circle cx="50.75" cy="49.90" r="0.7" fill="#c0d4de"/><line x1="61.3" y1="45.0" x2="61.3" y2="48.5" stroke="#3f96bf" stroke-width="1.2"/><line x1="61.3" y1="56.5" x2="61.3" y2="60.0" stroke="#3f96bf" stroke-width="1.2"/><polygon points="61.30,56.50 58.36,54.50 58.36,50.50 61.30,48.50 64.24,50.50 64.24,54.50" fill="none" stroke="#3f96bf" stroke-width="1.5"/><circle cx="61.30" cy="56.50" r="1.0" fill="#5ab0d8"/><circle cx="58.36" cy="54.50" r="1.0" fill="#5ab0d8"/><circle cx="58.36" cy="50.50" r="1.0" fill="#5ab0d8"/><circle cx="61.30" cy="48.50" r="1.0" fill="#5ab0d8"/><circle cx="64.24" cy="50.50" r="1.0" fill="#5ab0d8"/><circle cx="64.24" cy="54.50" r="1.0" fill="#5ab0d8"/><circle cx="66.15" cy="55.10" r="0.7" fill="#c0d4de"/><circle cx="56.45" cy="55.10" r="0.7" fill="#c0d4de"/><circle cx="56.45" cy="49.90" r="0.7" fill="#c0d4de"/><circle cx="66.15" cy="49.90" r="0.7" fill="#c0d4de"/><line x1="76.7" y1="45.0" x2="76.7" y2="48.5" stroke="#3f96bf" stroke-width="1.2"/><line x1="76.7" y1="56.5" x2="76.7" y2="60.0" stroke="#3f96bf" stroke-width="1.2"/><polygon points="76.70,56.50 73.76,54.50 73.76,50.50 76.70,48.50 79.64,50.50 79.64,54.50" fill="none" stroke="#3f96bf" stroke-width="1.5"/><circle cx="76.70" cy="56.50" r="1.0" fill="#5ab0d8"/><circle cx="73.76" cy="54.50" r="1.0" fill="#5ab0d8"/><circle cx="73.76" cy="50.50" r="1.0" fill="#5ab0d8"/><circle cx="76.70" cy="48.50" r="1.0" fill="#5ab0d8"/><circle cx="79.64" cy="50.50" r="1.0" fill="#5ab0d8"/><circle cx="79.64" cy="54.50" r="1.0" fill="#5ab0d8"/><circle cx="81.55" cy="55.10" r="0.7" fill="#c0d4de"/><circle cx="71.85" cy="55.10" r="0.7" fill="#c0d4de"/><circle cx="71.85" cy="49.90" r="0.7" fill="#c0d4de"/><circle cx="81.55" cy="49.90" r="0.7" fill="#c0d4de"/><line x1="92.1" y1="45.0" x2="92.1" y2="48.5" stroke="#3f96bf" stroke-width="1.2"/><line x1="92.1" y1="56.5" x2="92.1" y2="60.0" stroke="#3f96bf" stroke-width="1.2"/><polygon points="92.10,56.50 89.16,54.50 89.16,50.50 92.10,48.50 95.04,50.50 95.04,54.50" fill="none" stroke="#3f96bf" stroke-width="1.5"/><circle cx="92.10" cy="56.50" r="1.0" fill="#5ab0d8"/><circle cx="89.16" cy="54.50" r="1.0" fill="#5ab0d8"/><circle cx="89.16" cy="50.50" r="1.0" fill="#5ab0d8"/><circle cx="92.10" cy="48.50" r="1.0" fill="#5ab0d8"/><circle cx="95.04" cy="50.50" r="1.0" fill="#5ab0d8"/><circle cx="95.04" cy="54.50" r="1.0" fill="#5ab0d8"/><circle cx="96.95" cy="55.10" r="0.7" fill="#c0d4de"/><circle cx="87.25" cy="55.10" r="0.7" fill="#c0d4de"/><circle cx="87.25" cy="49.90" r="0.7" fill="#c0d4de"/><circle cx="96.95" cy="49.90" r="0.7" fill="#c0d4de"/><circle cx="0.0" cy="0.0" r="3.6" fill="#fff" stroke="#e6d488" stroke-width="0.7"/><circle cx="2.31" cy="2.76" r="0.9" fill="#e8d058"/><circle cx="-2.31" cy="2.76" r="0.9" fill="#e8d058"/><circle cx="-2.31" cy="-2.76" r="0.9" fill="#e8d058"/><circle cx="2.31" cy="-2.76" r="0.9" fill="#e8d058"/><line x1="-3.9" y1="0.0" x2="-6.5" y2="-2.6" stroke="#e0c850" stroke-width="0.9"/><circle cx="-6.5" cy="-2.6" r="1.0" fill="#e8d058"/><line x1="-3.9" y1="0.0" x2="-6.5" y2="2.6" stroke="#e0c850" stroke-width="0.9"/><circle cx="-6.5" cy="2.6" r="1.0" fill="#e8d058"/><circle cx="-3.9" cy="0.0" r="1.5" fill="#a838b0"/><line x1="3.9" y1="0.0" x2="6.5" y2="-2.6" stroke="#e0c850" stroke-width="0.9"/><circle cx="6.5" cy="-2.6" r="1.0" fill="#e8d058"/><line x1="3.9" y1="0.0" x2="6.5" y2="2.6" stroke="#e0c850" stroke-width="0.9"/><circle cx="6.5" cy="2.6" r="1.0" fill="#e8d058"/><circle cx="3.9" cy="0.0" r="1.5" fill="#a838b0"/><circle cx="15.4" cy="0.0" r="3.6" fill="#fff" stroke="#e6d488" stroke-width="0.7"/><circle cx="17.71" cy="2.76" r="0.9" fill="#e8d058"/><circle cx="13.09" cy="2.76" r="0.9" fill="#e8d058"/><circle cx="13.09" cy="-2.76" r="0.9" fill="#e8d058"/><circle cx="17.71" cy="-2.76" r="0.9" fill="#e8d058"/><line x1="11.5" y1="0.0" x2="8.9" y2="-2.6" stroke="#e0c850" stroke-width="0.9"/><circle cx="8.9" cy="-2.6" r="1.0" fill="#e8d058"/><line x1="11.5" y1="0.0" x2="8.9" y2="2.6" stroke="#e0c850" stroke-width="0.9"/><circle cx="8.9" cy="2.6" r="1.0" fill="#e8d058"/><circle cx="11.5" cy="0.0" r="1.5" fill="#a838b0"/><line x1="19.3" y1="0.0" x2="21.9" y2="-2.6" stroke="#e0c850" stroke-width="0.9"/><circle cx="21.9" cy="-2.6" r="1.0" fill="#e8d058"/><line x1="19.3" y1="0.0" x2="21.9" y2="2.6" stroke="#e0c850" stroke-width="0.9"/><circle cx="21.9" cy="2.6" r="1.0" fill="#e8d058"/><circle cx="19.3" cy="0.0" r="1.5" fill="#a838b0"/><circle cx="30.8" cy="0.0" r="3.6" fill="#fff" stroke="#e6d488" stroke-width="0.7"/><circle cx="33.11" cy="2.76" r="0.9" fill="#e8d058"/><circle cx="28.49" cy="2.76" r="0.9" fill="#e8d058"/><circle cx="28.49" cy="-2.76" r="0.9" fill="#e8d058"/><circle cx="33.11" cy="-2.76" r="0.9" fill="#e8d058"/><line x1="26.9" y1="0.0" x2="24.3" y2="-2.6" stroke="#e0c850" stroke-width="0.9"/><circle cx="24.3" cy="-2.6" r="1.0" fill="#e8d058"/><line x1="26.9" y1="0.0" x2="24.3" y2="2.6" stroke="#e0c850" stroke-width="0.9"/><circle cx="24.3" cy="2.6" r="1.0" fill="#e8d058"/><circle cx="26.9" cy="0.0" r="1.5" fill="#a838b0"/><line x1="34.7" y1="0.0" x2="37.3" y2="-2.6" stroke="#e0c850" stroke-width="0.9"/><circle cx="37.3" cy="-2.6" r="1.0" fill="#e8d058"/><line x1="34.7" y1="0.0" x2="37.3" y2="2.6" stroke="#e0c850" stroke-width="0.9"/><circle cx="37.3" cy="2.6" r="1.0" fill="#e8d058"/><circle cx="34.7" cy="0.0" r="1.5" fill="#a838b0"/><circle cx="46.2" cy="0.0" r="3.6" fill="#fff" stroke="#e6d488" stroke-width="0.7"/><circle cx="48.51" cy="2.76" r="0.9" fill="#e8d058"/><circle cx="43.89" cy="2.76" r="0.9" fill="#e8d058"/><circle cx="43.89" cy="-2.76" r="0.9" fill="#e8d058"/><circle cx="48.51" cy="-2.76" r="0.9" fill="#e8d058"/><line x1="42.3" y1="0.0" x2="39.7" y2="-2.6" stroke="#e0c850" stroke-width="0.9"/><circle cx="39.7" cy="-2.6" r="1.0" fill="#e8d058"/><line x1="42.3" y1="0.0" x2="39.7" y2="2.6" stroke="#e0c850" stroke-width="0.9"/><circle cx="39.7" cy="2.6" r="1.0" fill="#e8d058"/><circle cx="42.3" cy="0.0" r="1.5" fill="#a838b0"/><line x1="50.1" y1="0.0" x2="52.7" y2="-2.6" stroke="#e0c850" stroke-width="0.9"/><circle cx="52.7" cy="-2.6" r="1.0" fill="#e8d058"/><line x1="50.1" y1="0.0" x2="52.7" y2="2.6" stroke="#e0c850" stroke-width="0.9"/><circle cx="52.7" cy="2.6" r="1.0" fill="#e8d058"/><circle cx="50.1" cy="0.0" r="1.5" fill="#a838b0"/><circle cx="61.6" cy="0.0" r="3.6" fill="#fff" stroke="#e6d488" stroke-width="0.7"/><circle cx="63.91" cy="2.76" r="0.9" fill="#e8d058"/><circle cx="59.29" cy="2.76" r="0.9" fill="#e8d058"/><circle cx="59.29" cy="-2.76" r="0.9" fill="#e8d058"/><circle cx="63.91" cy="-2.76" r="0.9" fill="#e8d058"/><line x1="57.7" y1="0.0" x2="55.1" y2="-2.6" stroke="#e0c850" stroke-width="0.9"/><circle cx="55.1" cy="-2.6" r="1.0" fill="#e8d058"/><line x1="57.7" y1="0.0" x2="55.1" y2="2.6" stroke="#e0c850" stroke-width="0.9"/><circle cx="55.1" cy="2.6" r="1.0" fill="#e8d058"/><circle cx="57.7" cy="0.0" r="1.5" fill="#a838b0"/><line x1="65.5" y1="0.0" x2="68.1" y2="-2.6" stroke="#e0c850" stroke-width="0.9"/><circle cx="68.1" cy="-2.6" r="1.0" fill="#e8d058"/><line x1="65.5" y1="0.0" x2="68.1" y2="2.6" stroke="#e0c850" stroke-width="0.9"/><circle cx="68.1" cy="2.6" r="1.0" fill="#e8d058"/><circle cx="65.5" cy="0.0" r="1.5" fill="#a838b0"/><circle cx="77.0" cy="0.0" r="3.6" fill="#fff" stroke="#e6d488" stroke-width="0.7"/><circle cx="79.31" cy="2.76" r="0.9" fill="#e8d058"/><circle cx="74.69" cy="2.76" r="0.9" fill="#e8d058"/><circle cx="74.69" cy="-2.76" r="0.9" fill="#e8d058"/><circle cx="79.31" cy="-2.76" r="0.9" fill="#e8d058"/><line x1="73.1" y1="0.0" x2="70.5" y2="-2.6" stroke="#e0c850" stroke-width="0.9"/><circle cx="70.5" cy="-2.6" r="1.0" fill="#e8d058"/><line x1="73.1" y1="0.0" x2="70.5" y2="2.6" stroke="#e0c850" stroke-width="0.9"/><circle cx="70.5" cy="2.6" r="1.0" fill="#e8d058"/><circle cx="73.1" cy="0.0" r="1.5" fill="#a838b0"/><line x1="80.9" y1="0.0" x2="83.5" y2="-2.6" stroke="#e0c850" stroke-width="0.9"/><circle cx="83.5" cy="-2.6" r="1.0" fill="#e8d058"/><line x1="80.9" y1="0.0" x2="83.5" y2="2.6" stroke="#e0c850" stroke-width="0.9"/><circle cx="83.5" cy="2.6" r="1.0" fill="#e8d058"/><circle cx="80.9" cy="0.0" r="1.5" fill="#a838b0"/><circle cx="-6.0" cy="21.0" r="3.6" fill="#fff" stroke="#e6d488" stroke-width="0.7"/><circle cx="-3.69" cy="23.76" r="0.9" fill="#e8d058"/><circle cx="-8.31" cy="23.76" r="0.9" fill="#e8d058"/><circle cx="-8.31" cy="18.24" r="0.9" fill="#e8d058"/><circle cx="-3.69" cy="18.24" r="0.9" fill="#e8d058"/><line x1="-9.9" y1="21.0" x2="-12.5" y2="18.4" stroke="#e0c850" stroke-width="0.9"/><circle cx="-12.5" cy="18.4" r="1.0" fill="#e8d058"/><line x1="-9.9" y1="21.0" x2="-12.5" y2="23.6" stroke="#e0c850" stroke-width="0.9"/><circle cx="-12.5" cy="23.6" r="1.0" fill="#e8d058"/><circle cx="-9.9" cy="21.0" r="1.5" fill="#a838b0"/><line x1="-2.1" y1="21.0" x2="0.5" y2="18.4" stroke="#e0c850" stroke-width="0.9"/><circle cx="0.5" cy="18.4" r="1.0" fill="#e8d058"/><line x1="-2.1" y1="21.0" x2="0.5" y2="23.6" stroke="#e0c850" stroke-width="0.9"/><circle cx="0.5" cy="23.6" r="1.0" fill="#e8d058"/><circle cx="-2.1" cy="21.0" r="1.5" fill="#a838b0"/><circle cx="9.4" cy="21.0" r="3.6" fill="#fff" stroke="#e6d488" stroke-width="0.7"/><circle cx="11.71" cy="23.76" r="0.9" fill="#e8d058"/><circle cx="7.09" cy="23.76" r="0.9" fill="#e8d058"/><circle cx="7.09" cy="18.24" r="0.9" fill="#e8d058"/><circle cx="11.71" cy="18.24" r="0.9" fill="#e8d058"/><line x1="5.5" y1="21.0" x2="2.9" y2="18.4" stroke="#e0c850" stroke-width="0.9"/><circle cx="2.9" cy="18.4" r="1.0" fill="#e8d058"/><line x1="5.5" y1="21.0" x2="2.9" y2="23.6" stroke="#e0c850" stroke-width="0.9"/><circle cx="2.9" cy="23.6" r="1.0" fill="#e8d058"/><circle cx="5.5" cy="21.0" r="1.5" fill="#a838b0"/><line x1="13.3" y1="21.0" x2="15.9" y2="18.4" stroke="#e0c850" stroke-width="0.9"/><circle cx="15.9" cy="18.4" r="1.0" fill="#e8d058"/><line x1="13.3" y1="21.0" x2="15.9" y2="23.6" stroke="#e0c850" stroke-width="0.9"/><circle cx="15.9" cy="23.6" r="1.0" fill="#e8d058"/><circle cx="13.3" cy="21.0" r="1.5" fill="#a838b0"/><circle cx="24.8" cy="21.0" r="3.6" fill="#fff" stroke="#e6d488" stroke-width="0.7"/><circle cx="27.11" cy="23.76" r="0.9" fill="#e8d058"/><circle cx="22.49" cy="23.76" r="0.9" fill="#e8d058"/><circle cx="22.49" cy="18.24" r="0.9" fill="#e8d058"/><circle cx="27.11" cy="18.24" r="0.9" fill="#e8d058"/><line x1="20.9" y1="21.0" x2="18.3" y2="18.4" stroke="#e0c850" stroke-width="0.9"/><circle cx="18.3" cy="18.4" r="1.0" fill="#e8d058"/><line x1="20.9" y1="21.0" x2="18.3" y2="23.6" stroke="#e0c850" stroke-width="0.9"/><circle cx="18.3" cy="23.6" r="1.0" fill="#e8d058"/><circle cx="20.9" cy="21.0" r="1.5" fill="#a838b0"/><line x1="28.7" y1="21.0" x2="31.3" y2="18.4" stroke="#e0c850" stroke-width="0.9"/><circle cx="31.3" cy="18.4" r="1.0" fill="#e8d058"/><line x1="28.7" y1="21.0" x2="31.3" y2="23.6" stroke="#e0c850" stroke-width="0.9"/><circle cx="31.3" cy="23.6" r="1.0" fill="#e8d058"/><circle cx="28.7" cy="21.0" r="1.5" fill="#a838b0"/><circle cx="40.2" cy="21.0" r="3.6" fill="#fff" stroke="#e6d488" stroke-width="0.7"/><circle cx="42.51" cy="23.76" r="0.9" fill="#e8d058"/><circle cx="37.89" cy="23.76" r="0.9" fill="#e8d058"/><circle cx="37.89" cy="18.24" r="0.9" fill="#e8d058"/><circle cx="42.51" cy="18.24" r="0.9" fill="#e8d058"/><line x1="36.3" y1="21.0" x2="33.7" y2="18.4" stroke="#e0c850" stroke-width="0.9"/><circle cx="33.7" cy="18.4" r="1.0" fill="#e8d058"/><line x1="36.3" y1="21.0" x2="33.7" y2="23.6" stroke="#e0c850" stroke-width="0.9"/><circle cx="33.7" cy="23.6" r="1.0" fill="#e8d058"/><circle cx="36.3" cy="21.0" r="1.5" fill="#a838b0"/><line x1="44.1" y1="21.0" x2="46.7" y2="18.4" stroke="#e0c850" stroke-width="0.9"/><circle cx="46.7" cy="18.4" r="1.0" fill="#e8d058"/><line x1="44.1" y1="21.0" x2="46.7" y2="23.6" stroke="#e0c850" stroke-width="0.9"/><circle cx="46.7" cy="23.6" r="1.0" fill="#e8d058"/><circle cx="44.1" cy="21.0" r="1.5" fill="#a838b0"/><circle cx="55.6" cy="21.0" r="3.6" fill="#fff" stroke="#e6d488" stroke-width="0.7"/><circle cx="57.91" cy="23.76" r="0.9" fill="#e8d058"/><circle cx="53.29" cy="23.76" r="0.9" fill="#e8d058"/><circle cx="53.29" cy="18.24" r="0.9" fill="#e8d058"/><circle cx="57.91" cy="18.24" r="0.9" fill="#e8d058"/><line x1="51.7" y1="21.0" x2="49.1" y2="18.4" stroke="#e0c850" stroke-width="0.9"/><circle cx="49.1" cy="18.4" r="1.0" fill="#e8d058"/><line x1="51.7" y1="21.0" x2="49.1" y2="23.6" stroke="#e0c850" stroke-width="0.9"/><circle cx="49.1" cy="23.6" r="1.0" fill="#e8d058"/><circle cx="51.7" cy="21.0" r="1.5" fill="#a838b0"/><line x1="59.5" y1="21.0" x2="62.1" y2="18.4" stroke="#e0c850" stroke-width="0.9"/><circle cx="62.1" cy="18.4" r="1.0" fill="#e8d058"/><line x1="59.5" y1="21.0" x2="62.1" y2="23.6" stroke="#e0c850" stroke-width="0.9"/><circle cx="62.1" cy="23.6" r="1.0" fill="#e8d058"/><circle cx="59.5" cy="21.0" r="1.5" fill="#a838b0"/><circle cx="71.0" cy="21.0" r="3.6" fill="#fff" stroke="#e6d488" stroke-width="0.7"/><circle cx="73.31" cy="23.76" r="0.9" fill="#e8d058"/><circle cx="68.69" cy="23.76" r="0.9" fill="#e8d058"/><circle cx="68.69" cy="18.24" r="0.9" fill="#e8d058"/><circle cx="73.31" cy="18.24" r="0.9" fill="#e8d058"/><line x1="67.1" y1="21.0" x2="64.5" y2="18.4" stroke="#e0c850" stroke-width="0.9"/><circle cx="64.5" cy="18.4" r="1.0" fill="#e8d058"/><line x1="67.1" y1="21.0" x2="64.5" y2="23.6" stroke="#e0c850" stroke-width="0.9"/><circle cx="64.5" cy="23.6" r="1.0" fill="#e8d058"/><circle cx="67.1" cy="21.0" r="1.5" fill="#a838b0"/><line x1="74.9" y1="21.0" x2="77.5" y2="18.4" stroke="#e0c850" stroke-width="0.9"/><circle cx="77.5" cy="18.4" r="1.0" fill="#e8d058"/><line x1="74.9" y1="21.0" x2="77.5" y2="23.6" stroke="#e0c850" stroke-width="0.9"/><circle cx="77.5" cy="23.6" r="1.0" fill="#e8d058"/><circle cx="74.9" cy="21.0" r="1.5" fill="#a838b0"/><circle cx="86.4" cy="21.0" r="3.6" fill="#fff" stroke="#e6d488" stroke-width="0.7"/><circle cx="88.71" cy="23.76" r="0.9" fill="#e8d058"/><circle cx="84.09" cy="23.76" r="0.9" fill="#e8d058"/><circle cx="84.09" cy="18.24" r="0.9" fill="#e8d058"/><circle cx="88.71" cy="18.24" r="0.9" fill="#e8d058"/><line x1="82.5" y1="21.0" x2="79.9" y2="18.4" stroke="#e0c850" stroke-width="0.9"/><circle cx="79.9" cy="18.4" r="1.0" fill="#e8d058"/><line x1="82.5" y1="21.0" x2="79.9" y2="23.6" stroke="#e0c850" stroke-width="0.9"/><circle cx="79.9" cy="23.6" r="1.0" fill="#e8d058"/><circle cx="82.5" cy="21.0" r="1.5" fill="#a838b0"/><line x1="90.3" y1="21.0" x2="92.9" y2="18.4" stroke="#e0c850" stroke-width="0.9"/><circle cx="92.9" cy="18.4" r="1.0" fill="#e8d058"/><line x1="90.3" y1="21.0" x2="92.9" y2="23.6" stroke="#e0c850" stroke-width="0.9"/><circle cx="92.9" cy="23.6" r="1.0" fill="#e8d058"/><circle cx="90.3" cy="21.0" r="1.5" fill="#a838b0"/><circle cx="101.8" cy="21.0" r="3.6" fill="#fff" stroke="#e6d488" stroke-width="0.7"/><circle cx="104.11" cy="23.76" r="0.9" fill="#e8d058"/><circle cx="99.49" cy="23.76" r="0.9" fill="#e8d058"/><circle cx="99.49" cy="18.24" r="0.9" fill="#e8d058"/><circle cx="104.11" cy="18.24" r="0.9" fill="#e8d058"/><line x1="97.9" y1="21.0" x2="95.3" y2="18.4" stroke="#e0c850" stroke-width="0.9"/><circle cx="95.3" cy="18.4" r="1.0" fill="#e8d058"/><line x1="97.9" y1="21.0" x2="95.3" y2="23.6" stroke="#e0c850" stroke-width="0.9"/><circle cx="95.3" cy="23.6" r="1.0" fill="#e8d058"/><circle cx="97.9" cy="21.0" r="1.5" fill="#a838b0"/><line x1="105.7" y1="21.0" x2="108.3" y2="18.4" stroke="#e0c850" stroke-width="0.9"/><circle cx="108.3" cy="18.4" r="1.0" fill="#e8d058"/><line x1="105.7" y1="21.0" x2="108.3" y2="23.6" stroke="#e0c850" stroke-width="0.9"/><circle cx="108.3" cy="23.6" r="1.0" fill="#e8d058"/><circle cx="105.7" cy="21.0" r="1.5" fill="#a838b0"/><circle cx="-6.0" cy="42.0" r="3.6" fill="#fff" stroke="#e6d488" stroke-width="0.7"/><circle cx="-3.69" cy="44.76" r="0.9" fill="#e8d058"/><circle cx="-8.31" cy="44.76" r="0.9" fill="#e8d058"/><circle cx="-8.31" cy="39.24" r="0.9" fill="#e8d058"/><circle cx="-3.69" cy="39.24" r="0.9" fill="#e8d058"/><line x1="-9.9" y1="42.0" x2="-12.5" y2="39.4" stroke="#e0c850" stroke-width="0.9"/><circle cx="-12.5" cy="39.4" r="1.0" fill="#e8d058"/><line x1="-9.9" y1="42.0" x2="-12.5" y2="44.6" stroke="#e0c850" stroke-width="0.9"/><circle cx="-12.5" cy="44.6" r="1.0" fill="#e8d058"/><circle cx="-9.9" cy="42.0" r="1.5" fill="#a838b0"/><line x1="-2.1" y1="42.0" x2="0.5" y2="39.4" stroke="#e0c850" stroke-width="0.9"/><circle cx="0.5" cy="39.4" r="1.0" fill="#e8d058"/><line x1="-2.1" y1="42.0" x2="0.5" y2="44.6" stroke="#e0c850" stroke-width="0.9"/><circle cx="0.5" cy="44.6" r="1.0" fill="#e8d058"/><circle cx="-2.1" cy="42.0" r="1.5" fill="#a838b0"/><circle cx="9.4" cy="42.0" r="3.6" fill="#fff" stroke="#e6d488" stroke-width="0.7"/><circle cx="11.71" cy="44.76" r="0.9" fill="#e8d058"/><circle cx="7.09" cy="44.76" r="0.9" fill="#e8d058"/><circle cx="7.09" cy="39.24" r="0.9" fill="#e8d058"/><circle cx="11.71" cy="39.24" r="0.9" fill="#e8d058"/><line x1="5.5" y1="42.0" x2="2.9" y2="39.4" stroke="#e0c850" stroke-width="0.9"/><circle cx="2.9" cy="39.4" r="1.0" fill="#e8d058"/><line x1="5.5" y1="42.0" x2="2.9" y2="44.6" stroke="#e0c850" stroke-width="0.9"/><circle cx="2.9" cy="44.6" r="1.0" fill="#e8d058"/><circle cx="5.5" cy="42.0" r="1.5" fill="#a838b0"/><line x1="13.3" y1="42.0" x2="15.9" y2="39.4" stroke="#e0c850" stroke-width="0.9"/><circle cx="15.9" cy="39.4" r="1.0" fill="#e8d058"/><line x1="13.3" y1="42.0" x2="15.9" y2="44.6" stroke="#e0c850" stroke-width="0.9"/><circle cx="15.9" cy="44.6" r="1.0" fill="#e8d058"/><circle cx="13.3" cy="42.0" r="1.5" fill="#a838b0"/><circle cx="24.8" cy="42.0" r="3.6" fill="#fff" stroke="#e6d488" stroke-width="0.7"/><circle cx="27.11" cy="44.76" r="0.9" fill="#e8d058"/><circle cx="22.49" cy="44.76" r="0.9" fill="#e8d058"/><circle cx="22.49" cy="39.24" r="0.9" fill="#e8d058"/><circle cx="27.11" cy="39.24" r="0.9" fill="#e8d058"/><line x1="20.9" y1="42.0" x2="18.3" y2="39.4" stroke="#e0c850" stroke-width="0.9"/><circle cx="18.3" cy="39.4" r="1.0" fill="#e8d058"/><line x1="20.9" y1="42.0" x2="18.3" y2="44.6" stroke="#e0c850" stroke-width="0.9"/><circle cx="18.3" cy="44.6" r="1.0" fill="#e8d058"/><circle cx="20.9" cy="42.0" r="1.5" fill="#a838b0"/><line x1="28.7" y1="42.0" x2="31.3" y2="39.4" stroke="#e0c850" stroke-width="0.9"/><circle cx="31.3" cy="39.4" r="1.0" fill="#e8d058"/><line x1="28.7" y1="42.0" x2="31.3" y2="44.6" stroke="#e0c850" stroke-width="0.9"/><circle cx="31.3" cy="44.6" r="1.0" fill="#e8d058"/><circle cx="28.7" cy="42.0" r="1.5" fill="#a838b0"/><circle cx="40.2" cy="42.0" r="3.6" fill="#fff" stroke="#e6d488" stroke-width="0.7"/><circle cx="42.51" cy="44.76" r="0.9" fill="#e8d058"/><circle cx="37.89" cy="44.76" r="0.9" fill="#e8d058"/><circle cx="37.89" cy="39.24" r="0.9" fill="#e8d058"/><circle cx="42.51" cy="39.24" r="0.9" fill="#e8d058"/><line x1="36.3" y1="42.0" x2="33.7" y2="39.4" stroke="#e0c850" stroke-width="0.9"/><circle cx="33.7" cy="39.4" r="1.0" fill="#e8d058"/><line x1="36.3" y1="42.0" x2="33.7" y2="44.6" stroke="#e0c850" stroke-width="0.9"/><circle cx="33.7" cy="44.6" r="1.0" fill="#e8d058"/><circle cx="36.3" cy="42.0" r="1.5" fill="#a838b0"/><line x1="44.1" y1="42.0" x2="46.7" y2="39.4" stroke="#e0c850" stroke-width="0.9"/><circle cx="46.7" cy="39.4" r="1.0" fill="#e8d058"/><line x1="44.1" y1="42.0" x2="46.7" y2="44.6" stroke="#e0c850" stroke-width="0.9"/><circle cx="46.7" cy="44.6" r="1.0" fill="#e8d058"/><circle cx="44.1" cy="42.0" r="1.5" fill="#a838b0"/><circle cx="55.6" cy="42.0" r="3.6" fill="#fff" stroke="#e6d488" stroke-width="0.7"/><circle cx="57.91" cy="44.76" r="0.9" fill="#e8d058"/><circle cx="53.29" cy="44.76" r="0.9" fill="#e8d058"/><circle cx="53.29" cy="39.24" r="0.9" fill="#e8d058"/><circle cx="57.91" cy="39.24" r="0.9" fill="#e8d058"/><line x1="51.7" y1="42.0" x2="49.1" y2="39.4" stroke="#e0c850" stroke-width="0.9"/><circle cx="49.1" cy="39.4" r="1.0" fill="#e8d058"/><line x1="51.7" y1="42.0" x2="49.1" y2="44.6" stroke="#e0c850" stroke-width="0.9"/><circle cx="49.1" cy="44.6" r="1.0" fill="#e8d058"/><circle cx="51.7" cy="42.0" r="1.5" fill="#a838b0"/><line x1="59.5" y1="42.0" x2="62.1" y2="39.4" stroke="#e0c850" stroke-width="0.9"/><circle cx="62.1" cy="39.4" r="1.0" fill="#e8d058"/><line x1="59.5" y1="42.0" x2="62.1" y2="44.6" stroke="#e0c850" stroke-width="0.9"/><circle cx="62.1" cy="44.6" r="1.0" fill="#e8d058"/><circle cx="59.5" cy="42.0" r="1.5" fill="#a838b0"/><circle cx="71.0" cy="42.0" r="3.6" fill="#fff" stroke="#e6d488" stroke-width="0.7"/><circle cx="73.31" cy="44.76" r="0.9" fill="#e8d058"/><circle cx="68.69" cy="44.76" r="0.9" fill="#e8d058"/><circle cx="68.69" cy="39.24" r="0.9" fill="#e8d058"/><circle cx="73.31" cy="39.24" r="0.9" fill="#e8d058"/><line x1="67.1" y1="42.0" x2="64.5" y2="39.4" stroke="#e0c850" stroke-width="0.9"/><circle cx="64.5" cy="39.4" r="1.0" fill="#e8d058"/><line x1="67.1" y1="42.0" x2="64.5" y2="44.6" stroke="#e0c850" stroke-width="0.9"/><circle cx="64.5" cy="44.6" r="1.0" fill="#e8d058"/><circle cx="67.1" cy="42.0" r="1.5" fill="#a838b0"/><line x1="74.9" y1="42.0" x2="77.5" y2="39.4" stroke="#e0c850" stroke-width="0.9"/><circle cx="77.5" cy="39.4" r="1.0" fill="#e8d058"/><line x1="74.9" y1="42.0" x2="77.5" y2="44.6" stroke="#e0c850" stroke-width="0.9"/><circle cx="77.5" cy="44.6" r="1.0" fill="#e8d058"/><circle cx="74.9" cy="42.0" r="1.5" fill="#a838b0"/><circle cx="86.4" cy="42.0" r="3.6" fill="#fff" stroke="#e6d488" stroke-width="0.7"/><circle cx="88.71" cy="44.76" r="0.9" fill="#e8d058"/><circle cx="84.09" cy="44.76" r="0.9" fill="#e8d058"/><circle cx="84.09" cy="39.24" r="0.9" fill="#e8d058"/><circle cx="88.71" cy="39.24" r="0.9" fill="#e8d058"/><line x1="82.5" y1="42.0" x2="79.9" y2="39.4" stroke="#e0c850" stroke-width="0.9"/><circle cx="79.9" cy="39.4" r="1.0" fill="#e8d058"/><line x1="82.5" y1="42.0" x2="79.9" y2="44.6" stroke="#e0c850" stroke-width="0.9"/><circle cx="79.9" cy="44.6" r="1.0" fill="#e8d058"/><circle cx="82.5" cy="42.0" r="1.5" fill="#a838b0"/><line x1="90.3" y1="42.0" x2="92.9" y2="39.4" stroke="#e0c850" stroke-width="0.9"/><circle cx="92.9" cy="39.4" r="1.0" fill="#e8d058"/><line x1="90.3" y1="42.0" x2="92.9" y2="44.6" stroke="#e0c850" stroke-width="0.9"/><circle cx="92.9" cy="44.6" r="1.0" fill="#e8d058"/><circle cx="90.3" cy="42.0" r="1.5" fill="#a838b0"/><circle cx="101.8" cy="42.0" r="3.6" fill="#fff" stroke="#e6d488" stroke-width="0.7"/><circle cx="104.11" cy="44.76" r="0.9" fill="#e8d058"/><circle cx="99.49" cy="44.76" r="0.9" fill="#e8d058"/><circle cx="99.49" cy="39.24" r="0.9" fill="#e8d058"/><circle cx="104.11" cy="39.24" r="0.9" fill="#e8d058"/><line x1="97.9" y1="42.0" x2="95.3" y2="39.4" stroke="#e0c850" stroke-width="0.9"/><circle cx="95.3" cy="39.4" r="1.0" fill="#e8d058"/><line x1="97.9" y1="42.0" x2="95.3" y2="44.6" stroke="#e0c850" stroke-width="0.9"/><circle cx="95.3" cy="44.6" r="1.0" fill="#e8d058"/><circle cx="97.9" cy="42.0" r="1.5" fill="#a838b0"/><line x1="105.7" y1="42.0" x2="108.3" y2="39.4" stroke="#e0c850" stroke-width="0.9"/><circle cx="108.3" cy="39.4" r="1.0" fill="#e8d058"/><line x1="105.7" y1="42.0" x2="108.3" y2="44.6" stroke="#e0c850" stroke-width="0.9"/><circle cx="108.3" cy="44.6" r="1.0" fill="#e8d058"/><circle cx="105.7" cy="42.0" r="1.5" fill="#a838b0"/><circle cx="-3.0" cy="63.0" r="3.6" fill="#fff" stroke="#e6d488" stroke-width="0.7"/><circle cx="-0.69" cy="65.76" r="0.9" fill="#e8d058"/><circle cx="-5.31" cy="65.76" r="0.9" fill="#e8d058"/><circle cx="-5.31" cy="60.24" r="0.9" fill="#e8d058"/><circle cx="-0.69" cy="60.24" r="0.9" fill="#e8d058"/><line x1="-6.9" y1="63.0" x2="-9.5" y2="60.4" stroke="#e0c850" stroke-width="0.9"/><circle cx="-9.5" cy="60.4" r="1.0" fill="#e8d058"/><line x1="-6.9" y1="63.0" x2="-9.5" y2="65.6" stroke="#e0c850" stroke-width="0.9"/><circle cx="-9.5" cy="65.6" r="1.0" fill="#e8d058"/><circle cx="-6.9" cy="63.0" r="1.5" fill="#a838b0"/><line x1="0.9" y1="63.0" x2="3.5" y2="60.4" stroke="#e0c850" stroke-width="0.9"/><circle cx="3.5" cy="60.4" r="1.0" fill="#e8d058"/><line x1="0.9" y1="63.0" x2="3.5" y2="65.6" stroke="#e0c850" stroke-width="0.9"/><circle cx="3.5" cy="65.6" r="1.0" fill="#e8d058"/><circle cx="0.9" cy="63.0" r="1.5" fill="#a838b0"/><circle cx="12.4" cy="63.0" r="3.6" fill="#fff" stroke="#e6d488" stroke-width="0.7"/><circle cx="14.71" cy="65.76" r="0.9" fill="#e8d058"/><circle cx="10.09" cy="65.76" r="0.9" fill="#e8d058"/><circle cx="10.09" cy="60.24" r="0.9" fill="#e8d058"/><circle cx="14.71" cy="60.24" r="0.9" fill="#e8d058"/><line x1="8.5" y1="63.0" x2="5.9" y2="60.4" stroke="#e0c850" stroke-width="0.9"/><circle cx="5.9" cy="60.4" r="1.0" fill="#e8d058"/><line x1="8.5" y1="63.0" x2="5.9" y2="65.6" stroke="#e0c850" stroke-width="0.9"/><circle cx="5.9" cy="65.6" r="1.0" fill="#e8d058"/><circle cx="8.5" cy="63.0" r="1.5" fill="#a838b0"/><line x1="16.3" y1="63.0" x2="18.9" y2="60.4" stroke="#e0c850" stroke-width="0.9"/><circle cx="18.9" cy="60.4" r="1.0" fill="#e8d058"/><line x1="16.3" y1="63.0" x2="18.9" y2="65.6" stroke="#e0c850" stroke-width="0.9"/><circle cx="18.9" cy="65.6" r="1.0" fill="#e8d058"/><circle cx="16.3" cy="63.0" r="1.5" fill="#a838b0"/><circle cx="27.8" cy="63.0" r="3.6" fill="#fff" stroke="#e6d488" stroke-width="0.7"/><circle cx="30.11" cy="65.76" r="0.9" fill="#e8d058"/><circle cx="25.49" cy="65.76" r="0.9" fill="#e8d058"/><circle cx="25.49" cy="60.24" r="0.9" fill="#e8d058"/><circle cx="30.11" cy="60.24" r="0.9" fill="#e8d058"/><line x1="23.9" y1="63.0" x2="21.3" y2="60.4" stroke="#e0c850" stroke-width="0.9"/><circle cx="21.3" cy="60.4" r="1.0" fill="#e8d058"/><line x1="23.9" y1="63.0" x2="21.3" y2="65.6" stroke="#e0c850" stroke-width="0.9"/><circle cx="21.3" cy="65.6" r="1.0" fill="#e8d058"/><circle cx="23.9" cy="63.0" r="1.5" fill="#a838b0"/><line x1="31.7" y1="63.0" x2="34.3" y2="60.4" stroke="#e0c850" stroke-width="0.9"/><circle cx="34.3" cy="60.4" r="1.0" fill="#e8d058"/><line x1="31.7" y1="63.0" x2="34.3" y2="65.6" stroke="#e0c850" stroke-width="0.9"/><circle cx="34.3" cy="65.6" r="1.0" fill="#e8d058"/><circle cx="31.7" cy="63.0" r="1.5" fill="#a838b0"/><circle cx="43.2" cy="63.0" r="3.6" fill="#fff" stroke="#e6d488" stroke-width="0.7"/><circle cx="45.51" cy="65.76" r="0.9" fill="#e8d058"/><circle cx="40.89" cy="65.76" r="0.9" fill="#e8d058"/><circle cx="40.89" cy="60.24" r="0.9" fill="#e8d058"/><circle cx="45.51" cy="60.24" r="0.9" fill="#e8d058"/><line x1="39.3" y1="63.0" x2="36.7" y2="60.4" stroke="#e0c850" stroke-width="0.9"/><circle cx="36.7" cy="60.4" r="1.0" fill="#e8d058"/><line x1="39.3" y1="63.0" x2="36.7" y2="65.6" stroke="#e0c850" stroke-width="0.9"/><circle cx="36.7" cy="65.6" r="1.0" fill="#e8d058"/><circle cx="39.3" cy="63.0" r="1.5" fill="#a838b0"/><line x1="47.1" y1="63.0" x2="49.7" y2="60.4" stroke="#e0c850" stroke-width="0.9"/><circle cx="49.7" cy="60.4" r="1.0" fill="#e8d058"/><line x1="47.1" y1="63.0" x2="49.7" y2="65.6" stroke="#e0c850" stroke-width="0.9"/><circle cx="49.7" cy="65.6" r="1.0" fill="#e8d058"/><circle cx="47.1" cy="63.0" r="1.5" fill="#a838b0"/><circle cx="58.6" cy="63.0" r="3.6" fill="#fff" stroke="#e6d488" stroke-width="0.7"/><circle cx="60.91" cy="65.76" r="0.9" fill="#e8d058"/><circle cx="56.29" cy="65.76" r="0.9" fill="#e8d058"/><circle cx="56.29" cy="60.24" r="0.9" fill="#e8d058"/><circle cx="60.91" cy="60.24" r="0.9" fill="#e8d058"/><line x1="54.7" y1="63.0" x2="52.1" y2="60.4" stroke="#e0c850" stroke-width="0.9"/><circle cx="52.1" cy="60.4" r="1.0" fill="#e8d058"/><line x1="54.7" y1="63.0" x2="52.1" y2="65.6" stroke="#e0c850" stroke-width="0.9"/><circle cx="52.1" cy="65.6" r="1.0" fill="#e8d058"/><circle cx="54.7" cy="63.0" r="1.5" fill="#a838b0"/><line x1="62.5" y1="63.0" x2="65.1" y2="60.4" stroke="#e0c850" stroke-width="0.9"/><circle cx="65.1" cy="60.4" r="1.0" fill="#e8d058"/><line x1="62.5" y1="63.0" x2="65.1" y2="65.6" stroke="#e0c850" stroke-width="0.9"/><circle cx="65.1" cy="65.6" r="1.0" fill="#e8d058"/><circle cx="62.5" cy="63.0" r="1.5" fill="#a838b0"/><circle cx="74.0" cy="63.0" r="3.6" fill="#fff" stroke="#e6d488" stroke-width="0.7"/><circle cx="76.31" cy="65.76" r="0.9" fill="#e8d058"/><circle cx="71.69" cy="65.76" r="0.9" fill="#e8d058"/><circle cx="71.69" cy="60.24" r="0.9" fill="#e8d058"/><circle cx="76.31" cy="60.24" r="0.9" fill="#e8d058"/><line x1="70.1" y1="63.0" x2="67.5" y2="60.4" stroke="#e0c850" stroke-width="0.9"/><circle cx="67.5" cy="60.4" r="1.0" fill="#e8d058"/><line x1="70.1" y1="63.0" x2="67.5" y2="65.6" stroke="#e0c850" stroke-width="0.9"/><circle cx="67.5" cy="65.6" r="1.0" fill="#e8d058"/><circle cx="70.1" cy="63.0" r="1.5" fill="#a838b0"/><line x1="77.9" y1="63.0" x2="80.5" y2="60.4" stroke="#e0c850" stroke-width="0.9"/><circle cx="80.5" cy="60.4" r="1.0" fill="#e8d058"/><line x1="77.9" y1="63.0" x2="80.5" y2="65.6" stroke="#e0c850" stroke-width="0.9"/><circle cx="80.5" cy="65.6" r="1.0" fill="#e8d058"/><circle cx="77.9" cy="63.0" r="1.5" fill="#a838b0"/><circle cx="89.4" cy="63.0" r="3.6" fill="#fff" stroke="#e6d488" stroke-width="0.7"/><circle cx="91.71" cy="65.76" r="0.9" fill="#e8d058"/><circle cx="87.09" cy="65.76" r="0.9" fill="#e8d058"/><circle cx="87.09" cy="60.24" r="0.9" fill="#e8d058"/><circle cx="91.71" cy="60.24" r="0.9" fill="#e8d058"/><line x1="85.5" y1="63.0" x2="82.9" y2="60.4" stroke="#e0c850" stroke-width="0.9"/><circle cx="82.9" cy="60.4" r="1.0" fill="#e8d058"/><line x1="85.5" y1="63.0" x2="82.9" y2="65.6" stroke="#e0c850" stroke-width="0.9"/><circle cx="82.9" cy="65.6" r="1.0" fill="#e8d058"/><circle cx="85.5" cy="63.0" r="1.5" fill="#a838b0"/><line x1="93.3" y1="63.0" x2="95.9" y2="60.4" stroke="#e0c850" stroke-width="0.9"/><circle cx="95.9" cy="60.4" r="1.0" fill="#e8d058"/><line x1="93.3" y1="63.0" x2="95.9" y2="65.6" stroke="#e0c850" stroke-width="0.9"/><circle cx="95.9" cy="65.6" r="1.0" fill="#e8d058"/><circle cx="93.3" cy="63.0" r="1.5" fill="#a838b0"/><circle cx="104.8" cy="63.0" r="3.6" fill="#fff" stroke="#e6d488" stroke-width="0.7"/><circle cx="107.11" cy="65.76" r="0.9" fill="#e8d058"/><circle cx="102.49" cy="65.76" r="0.9" fill="#e8d058"/><circle cx="102.49" cy="60.24" r="0.9" fill="#e8d058"/><circle cx="107.11" cy="60.24" r="0.9" fill="#e8d058"/><line x1="100.9" y1="63.0" x2="98.3" y2="60.4" stroke="#e0c850" stroke-width="0.9"/><circle cx="98.3" cy="60.4" r="1.0" fill="#e8d058"/><line x1="100.9" y1="63.0" x2="98.3" y2="65.6" stroke="#e0c850" stroke-width="0.9"/><circle cx="98.3" cy="65.6" r="1.0" fill="#e8d058"/><circle cx="100.9" cy="63.0" r="1.5" fill="#a838b0"/><line x1="108.7" y1="63.0" x2="111.3" y2="60.4" stroke="#e0c850" stroke-width="0.9"/><circle cx="111.3" cy="60.4" r="1.0" fill="#e8d058"/><line x1="108.7" y1="63.0" x2="111.3" y2="65.6" stroke="#e0c850" stroke-width="0.9"/><circle cx="111.3" cy="65.6" r="1.0" fill="#e8d058"/><circle cx="108.7" cy="63.0" r="1.5" fill="#a838b0"/></g>
<rect x="319.5" y="564.0" width="34" height="13" rx="2" fill="url(#pCabb)" transform="rotate(25 336.5 570.5)"/>
<rect x="303.5" y="581.4" width="28" height="14" rx="2" fill="url(#pCabb)" transform="rotate(-20 317.5 588.4)"/>
<rect x="360.9" y="577.6" width="28.6" height="13.8" rx="2" fill="url(#pCabb)" transform="rotate(0 375.2 584.5)"/>
<rect x="297.6" y="604.6" width="30" height="13" rx="2" fill="url(#pCabb)" transform="rotate(20 312.6 611.1)"/>
<rect x="335.0" y="600.2" width="34" height="14" rx="2" fill="url(#pCabb)" transform="rotate(-40 352 607.2)"/>
<rect x="359.9" y="613.0" width="30.5" height="13.9" rx="2" fill="url(#pCabb)" transform="rotate(0 375.2 620)"/>
<line x1="276.4" y1="598.9" x2="288" y2="598.9" stroke="#111" stroke-width="1.3" />
<polygon points="292.00,598.90 286.80,596.50 286.80,601.30" fill="#111" stroke="none" stroke-width="1" />
<text x="346.5" y="657.2" font-family="Liberation Serif" font-size="7.6" font-weight="bold" fill="#222" text-anchor="middle" textLength="53.7" lengthAdjust="spacingAndGlyphs" stroke="#222" stroke-width="0.28" >CABB/Ni-MOF</text></svg></body></html>
